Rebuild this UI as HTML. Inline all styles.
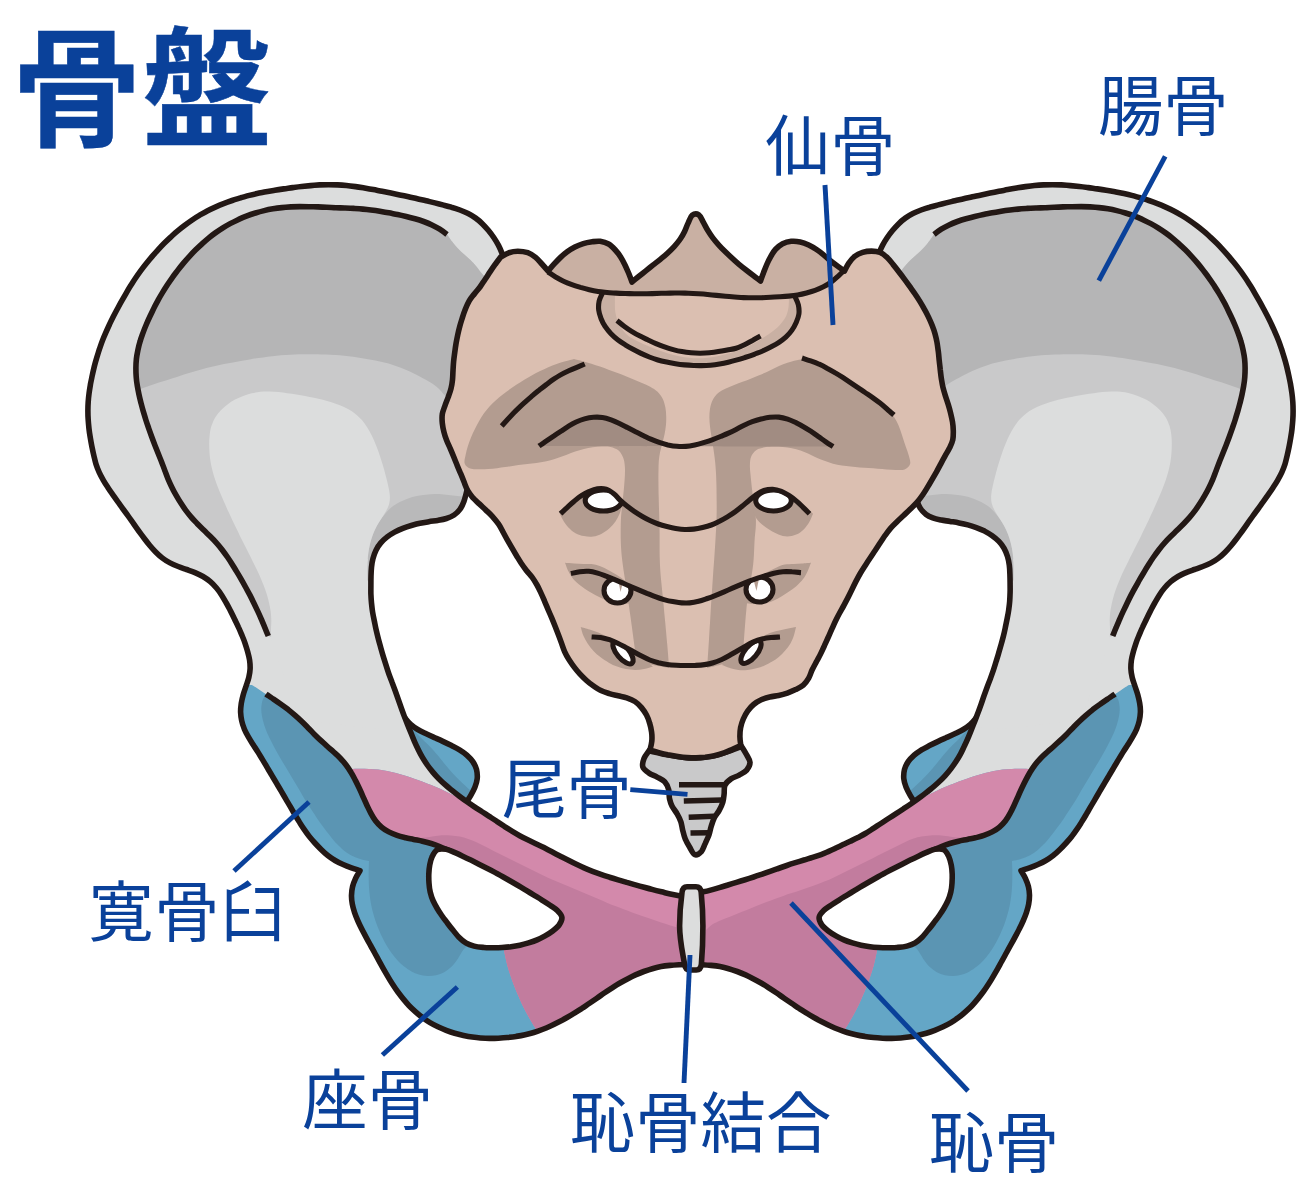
<!DOCTYPE html><html lang="ja"><head><meta charset="utf-8"><title>骨盤</title><style>html,body{margin:0;padding:0;background:#fff}svg{display:block}</style></head><body><svg width="1316" height="1197" viewBox="0 0 1316 1197"><rect width="1316" height="1197" fill="#fff"/><path d="M405.0,718.0 C405.9,719.1 408.5,722.5 410.6,724.4 C412.7,726.3 415.2,728.0 417.7,729.5 C420.2,731.0 422.8,732.2 425.7,733.6 C428.6,735.0 432.0,736.5 434.9,737.8 C437.8,739.1 440.5,740.3 443.3,741.6 C446.1,742.9 448.8,744.2 451.5,745.6 C454.2,747.0 456.9,748.3 459.5,749.9 C462.1,751.5 464.6,753.1 466.8,755.1 C469.0,757.1 471.2,759.2 472.8,761.6 C474.4,764.0 475.8,766.5 476.5,769.4 C477.2,772.3 477.5,775.8 477.2,778.8 C476.9,781.8 476.0,784.5 474.9,787.3 C473.8,790.0 472.3,792.7 470.8,795.3 C469.3,797.9 466.8,801.7 466.0,803.0 C464.8,802.0 461.3,799.1 458.9,797.2 C456.5,795.3 454.0,793.2 451.8,791.4 C449.6,789.5 447.8,788.0 445.7,786.1 C443.6,784.2 441.2,782.0 439.1,779.8 C437.0,777.6 434.8,775.2 433.0,773.0 C431.2,770.8 429.8,768.9 428.2,766.5 C426.6,764.1 425.0,761.4 423.5,758.7 C422.0,756.1 420.7,753.3 419.4,750.6 C418.1,747.9 416.8,745.1 415.5,742.3 C414.2,739.5 412.9,736.5 411.8,733.9 C410.7,731.2 409.7,729.0 408.6,726.4 C407.5,723.8 405.6,719.4 405.0,718.0 Z" fill="#64a6c6"/><path d="M409.0,725.0 C410.0,726.1 412.9,729.6 415.0,731.8 C417.1,734.0 419.2,736.2 421.4,738.3 C423.5,740.4 425.8,742.5 427.9,744.6 C430.0,746.8 432.1,748.8 434.2,751.2 C436.3,753.6 438.7,756.5 440.7,759.0 C442.7,761.5 444.4,763.8 446.4,766.1 C448.3,768.4 450.3,770.7 452.4,772.9 C454.4,775.1 456.5,777.4 458.7,779.5 C460.9,781.6 463.1,783.7 465.3,785.8 C467.5,787.9 470.9,791.0 472.0,792.0 C471.4,793.0 469.9,796.5 468.6,797.7 C467.3,798.9 465.9,799.4 464.0,799.2 C462.1,799.0 459.5,797.7 457.2,796.3 C454.9,794.9 452.4,792.8 450.2,791.0 C448.0,789.2 446.2,787.5 444.2,785.5 C442.1,783.5 439.8,781.1 437.9,779.0 C436.0,776.9 434.4,775.2 432.7,772.9 C431.0,770.6 429.1,767.9 427.5,765.4 C425.9,762.9 424.3,760.1 422.9,757.6 C421.5,755.1 420.6,753.0 419.3,750.4 C418.1,747.8 416.6,744.9 415.4,742.1 C414.1,739.3 412.9,736.4 411.8,733.8 C410.7,731.2 409.7,729.0 408.6,726.4 C407.5,723.8 405.6,719.4 405.0,718.0 Z" fill="#5b95b3"/><path d="M405.0,718.0 C405.9,719.1 408.5,722.5 410.6,724.4 C412.7,726.3 415.2,728.0 417.7,729.5 C420.2,731.0 422.8,732.2 425.7,733.6 C428.6,735.0 432.0,736.5 434.9,737.8 C437.8,739.1 440.5,740.3 443.3,741.6 C446.1,742.9 448.8,744.2 451.5,745.6 C454.2,747.0 456.9,748.3 459.5,749.9 C462.1,751.5 464.6,753.1 466.8,755.1 C469.0,757.1 471.2,759.2 472.8,761.6 C474.4,764.0 475.8,766.5 476.5,769.4 C477.2,772.3 477.5,775.8 477.2,778.8 C476.9,781.8 476.0,784.5 474.9,787.3 C473.8,790.0 472.3,792.7 470.8,795.3 C469.3,797.9 466.8,801.7 466.0,803.0" fill="none" stroke="#231815" stroke-width="5.6" stroke-linejoin="round"/><clipPath id="hcL"><path d="M505.0,262.0 C504.5,260.6 503.2,256.3 502.1,253.5 C501.0,250.7 499.9,247.9 498.5,245.3 C497.1,242.7 495.6,240.2 493.9,237.7 C492.2,235.2 490.4,232.8 488.5,230.5 C486.6,228.2 484.6,226.0 482.5,223.9 C480.4,221.8 478.1,219.8 475.7,218.1 C473.3,216.4 470.7,214.8 468.1,213.5 C465.5,212.2 462.7,211.1 459.9,210.0 C457.1,208.9 454.2,208.0 451.3,207.2 C448.4,206.3 445.4,205.6 442.7,204.9 C440.0,204.2 437.7,203.6 434.9,202.9 C432.1,202.2 429.0,201.5 426.1,200.8 C423.2,200.1 420.2,199.5 417.3,198.8 C414.4,198.1 411.5,197.5 408.6,196.8 C405.7,196.2 402.6,195.5 399.7,194.9 C396.8,194.3 393.8,193.7 390.9,193.1 C388.0,192.5 385.1,191.9 382.1,191.3 C379.2,190.7 376.1,190.2 373.2,189.6 C370.2,189.0 367.3,188.5 364.4,188.0 C361.4,187.5 358.5,187.0 355.5,186.6 C352.5,186.2 349.5,185.8 346.5,185.5 C343.5,185.2 340.6,185.0 337.6,184.9 C334.6,184.8 331.6,184.7 328.6,184.7 C325.6,184.7 322.6,184.8 319.6,184.9 C316.6,185.1 313.6,185.3 310.6,185.6 C307.6,185.9 304.6,186.2 301.6,186.5 C298.6,186.8 295.7,187.2 292.7,187.6 C289.7,188.0 286.7,188.5 283.7,188.9 C280.7,189.3 277.8,189.7 274.8,190.2 C271.9,190.7 268.9,191.2 266.0,191.8 C263.1,192.4 259.9,193.0 257.1,193.6 C254.3,194.2 252.0,194.7 249.3,195.4 C246.6,196.1 243.6,197.0 240.7,197.8 C237.8,198.7 234.9,199.5 232.1,200.5 C229.2,201.5 226.4,202.5 223.6,203.6 C220.8,204.7 218.0,205.9 215.3,207.1 C212.6,208.3 209.8,209.6 207.2,211.0 C204.5,212.4 202.0,213.9 199.4,215.4 C196.8,216.9 194.3,218.5 191.8,220.2 C189.3,221.9 186.9,223.7 184.5,225.5 C182.1,227.3 179.7,229.2 177.4,231.1 C175.1,233.0 172.9,235.1 170.7,237.1 C168.5,239.1 166.3,241.2 164.2,243.3 C162.1,245.4 160.0,247.7 158.0,249.9 C156.0,252.1 153.9,254.3 152.0,256.6 C150.1,258.9 148.2,261.2 146.3,263.5 C144.4,265.8 142.6,268.2 140.8,270.6 C139.0,273.0 137.3,275.5 135.6,278.0 C133.9,280.5 132.3,283.1 130.7,285.6 C129.1,288.2 127.6,290.7 126.1,293.3 C124.6,295.9 123.1,298.5 121.6,301.1 C120.1,303.7 118.7,306.4 117.3,309.0 C115.9,311.6 114.4,314.5 113.1,317.0 C111.8,319.5 110.8,321.6 109.6,324.2 C108.4,326.8 107.1,329.6 105.9,332.4 C104.7,335.1 103.5,337.9 102.4,340.7 C101.3,343.5 100.4,346.3 99.4,349.2 C98.5,352.1 97.6,354.9 96.7,357.8 C95.8,360.7 95.0,363.6 94.3,366.5 C93.6,369.4 92.9,372.4 92.3,375.3 C91.7,378.2 91.0,381.2 90.5,384.1 C90.0,387.1 89.5,390.0 89.1,393.0 C88.7,396.0 88.4,398.9 88.2,401.9 C88.0,404.9 87.9,407.9 87.9,410.9 C87.9,413.9 88.0,416.9 88.2,419.9 C88.4,422.9 88.7,425.9 89.0,428.9 C89.3,431.9 89.8,434.9 90.3,437.8 C90.8,440.8 91.3,443.7 91.9,446.6 C92.5,449.5 93.1,452.5 93.8,455.4 C94.5,458.3 95.1,461.3 96.0,464.1 C96.9,466.9 98.0,469.7 99.2,472.4 C100.4,475.1 101.9,477.7 103.4,480.3 C104.9,482.9 106.6,485.5 108.2,488.0 C109.8,490.5 111.7,493.1 113.3,495.4 C114.9,497.7 116.2,499.6 117.9,501.9 C119.6,504.2 121.4,506.8 123.2,509.2 C125.0,511.6 126.8,514.0 128.5,516.5 C130.2,519.0 132.0,521.4 133.7,523.9 C135.4,526.4 137.1,528.8 138.9,531.2 C140.7,533.6 142.5,536.1 144.3,538.5 C146.1,540.9 147.9,543.2 149.8,545.5 C151.7,547.8 153.8,550.1 155.9,552.2 C158.0,554.3 160.2,556.3 162.5,558.1 C164.8,559.9 167.4,561.5 170.0,562.9 C172.6,564.3 175.4,565.4 178.2,566.5 C181.0,567.6 183.8,568.5 186.6,569.5 C189.4,570.5 192.3,571.4 195.0,572.6 C197.7,573.8 200.4,575.0 203.0,576.5 C205.6,578.0 208.1,579.8 210.3,581.7 C212.6,583.6 214.6,585.8 216.5,588.0 C218.4,590.2 220.1,592.7 221.7,595.2 C223.3,597.7 224.8,600.4 226.3,603.0 C227.8,605.6 229.1,608.2 230.5,610.9 C231.9,613.6 233.2,616.3 234.5,619.0 C235.8,621.7 237.2,624.4 238.4,627.1 C239.7,629.8 240.9,632.8 242.0,635.4 C243.1,638.0 244.0,640.1 244.9,642.8 C245.8,645.5 246.8,648.5 247.6,651.4 C248.4,654.3 249.2,657.2 249.6,660.1 C250.0,663.0 250.2,666.0 250.1,668.9 C250.0,671.8 249.5,674.6 248.8,677.5 C248.1,680.4 247.0,683.2 246.1,686.0 C245.2,688.8 244.1,691.6 243.3,694.5 C242.5,697.4 241.8,700.3 241.3,703.2 C240.9,706.1 240.5,709.2 240.6,712.1 C240.7,715.0 241.1,717.9 241.7,720.8 C242.3,723.6 243.3,726.5 244.4,729.2 C245.5,731.9 247.0,734.5 248.5,737.1 C250.0,739.7 251.6,742.2 253.2,744.8 C254.8,747.3 256.5,749.8 258.1,752.4 C259.7,755.0 261.2,757.5 262.8,760.1 C264.4,762.7 265.9,765.2 267.4,767.8 C268.9,770.4 270.5,773.0 272.0,775.6 C273.5,778.2 275.1,780.7 276.6,783.3 C278.1,785.9 279.7,788.5 281.2,791.1 C282.7,793.7 284.2,796.3 285.7,798.9 C287.2,801.5 288.9,804.2 290.3,806.7 C291.7,809.2 292.9,811.2 294.3,813.6 C295.7,816.0 297.3,818.8 298.9,821.3 C300.5,823.8 302.1,826.4 303.8,828.9 C305.5,831.4 307.2,833.9 309.1,836.2 C311.0,838.6 312.9,840.8 314.9,843.0 C316.9,845.2 319.0,847.4 321.1,849.5 C323.2,851.6 325.5,853.7 327.8,855.5 C330.1,857.3 332.6,859.0 335.1,860.5 C337.7,862.0 340.4,863.3 343.1,864.5 C345.8,865.7 348.7,866.8 351.5,867.8 C354.3,868.8 358.6,870.1 360.0,870.6 C359.3,871.9 356.8,875.6 355.6,878.3 C354.4,880.9 353.3,883.7 352.6,886.5 C351.9,889.3 351.6,892.4 351.5,895.3 C351.4,898.2 351.8,901.2 352.3,904.1 C352.8,907.0 353.7,909.9 354.6,912.7 C355.5,915.5 356.7,918.3 357.9,921.0 C359.1,923.7 360.4,926.4 361.8,929.1 C363.2,931.8 364.6,934.4 366.0,937.1 C367.4,939.8 368.9,942.5 370.4,945.1 C371.8,947.8 373.3,950.4 374.7,953.0 C376.1,955.6 377.6,958.3 379.0,960.9 C380.4,963.5 381.9,966.2 383.4,968.8 C384.9,971.4 386.4,974.0 387.9,976.6 C389.4,979.2 391.0,981.8 392.6,984.3 C394.2,986.8 395.9,989.4 397.7,991.8 C399.5,994.2 401.3,996.6 403.2,998.9 C405.1,1001.2 407.0,1003.5 409.1,1005.7 C411.2,1007.9 413.4,1009.9 415.6,1011.9 C417.8,1013.9 420.1,1015.8 422.5,1017.6 C424.9,1019.4 427.4,1021.1 430.0,1022.6 C432.6,1024.1 435.2,1025.5 437.9,1026.8 C440.6,1028.1 443.4,1029.3 446.2,1030.4 C449.0,1031.5 451.8,1032.5 454.7,1033.3 C457.6,1034.1 460.6,1034.9 463.5,1035.5 C466.4,1036.1 469.5,1036.7 472.3,1037.1 C475.1,1037.5 477.5,1037.8 480.3,1038.0 C483.1,1038.2 486.3,1038.4 489.3,1038.4 C492.3,1038.4 495.3,1038.4 498.3,1038.2 C501.3,1038.0 504.3,1037.8 507.3,1037.5 C510.3,1037.2 513.2,1036.9 516.2,1036.4 C519.2,1036.0 522.2,1035.5 525.1,1034.8 C528.0,1034.1 530.9,1033.4 533.8,1032.5 C536.7,1031.6 539.5,1030.6 542.3,1029.5 C545.1,1028.4 547.9,1027.2 550.6,1026.0 C553.3,1024.8 556.0,1023.5 558.7,1022.1 C561.4,1020.7 564.0,1019.3 566.6,1017.8 C569.2,1016.3 571.8,1014.8 574.4,1013.2 C577.0,1011.6 579.5,1009.9 582.0,1008.3 C584.5,1006.6 587.0,1005.0 589.5,1003.3 C592.0,1001.6 594.4,999.9 596.9,998.2 C599.4,996.5 601.8,994.7 604.3,993.0 C606.8,991.3 609.3,989.7 611.8,988.1 C614.3,986.5 616.9,984.8 619.5,983.3 C622.1,981.8 624.7,980.3 627.4,978.9 C630.1,977.5 632.8,976.1 635.5,974.9 C638.2,973.7 641.0,972.5 643.8,971.5 C646.6,970.5 649.4,969.5 652.3,968.7 C655.2,967.9 658.1,967.2 661.1,966.6 C664.1,966.0 667.0,965.7 670.0,965.4 C673.0,965.1 676.0,964.9 679.0,964.7 C682.0,964.6 686.5,964.5 688.0,964.5 L688.0,897.0 C686.5,896.8 682.1,896.2 679.1,895.7 C676.1,895.2 673.2,894.6 670.3,894.0 C667.4,893.4 664.4,892.5 661.5,891.8 C658.6,891.1 655.7,890.4 652.8,889.6 C649.9,888.9 647.0,888.1 644.1,887.3 C641.2,886.5 638.3,885.7 635.4,884.9 C632.5,884.1 629.7,883.2 626.8,882.4 C623.9,881.5 621.0,880.7 618.1,879.8 C615.2,878.9 612.4,878.1 609.5,877.2 C606.6,876.3 603.7,875.4 600.9,874.4 C598.1,873.4 595.3,872.4 592.5,871.3 C589.7,870.2 586.9,869.1 584.1,867.9 C581.3,866.7 578.6,865.4 575.9,864.1 C573.2,862.8 570.6,861.5 567.9,860.1 C565.2,858.8 562.6,857.4 559.9,856.0 C557.2,854.6 554.6,853.2 551.9,851.8 C549.2,850.4 546.6,849.0 543.9,847.6 C541.2,846.2 538.5,845.0 535.8,843.7 C533.1,842.4 530.4,841.1 527.7,839.8 C525.0,838.5 522.3,837.1 519.7,835.7 C517.1,834.3 514.5,832.8 511.9,831.2 C509.3,829.6 506.8,827.9 504.3,826.3 C501.8,824.6 499.3,822.9 496.8,821.3 C494.3,819.6 491.7,818.0 489.2,816.4 C486.7,814.8 484.2,813.1 481.7,811.5 C479.2,809.9 476.6,808.3 474.1,806.6 C471.6,804.9 469.1,803.2 466.7,801.5 C464.2,799.8 461.8,798.0 459.4,796.2 C457.0,794.4 454.6,792.6 452.3,790.7 C450.0,788.8 447.6,786.9 445.4,784.9 C443.1,782.9 440.9,780.8 438.8,778.7 C436.7,776.6 434.7,774.4 432.8,772.1 C430.9,769.8 429.0,767.5 427.3,765.0 C425.6,762.5 423.9,760.0 422.4,757.4 C420.9,754.8 419.5,752.2 418.2,749.5 C416.9,746.8 415.6,744.0 414.4,741.3 C413.2,738.5 412.1,735.8 411.0,733.0 C409.9,730.2 408.7,727.5 407.6,724.7 C406.5,721.9 405.4,719.1 404.3,716.3 C403.2,713.5 402.2,710.6 401.2,707.8 C400.2,705.0 399.2,702.1 398.2,699.3 C397.2,696.5 396.2,693.6 395.2,690.8 C394.2,688.0 393.2,685.2 392.1,682.4 C391.1,679.6 389.9,676.8 388.9,674.0 C387.9,671.2 387.0,668.3 386.1,665.4 C385.2,662.5 384.3,659.7 383.4,656.8 C382.5,653.9 381.7,651.1 380.9,648.2 C380.1,645.3 379.3,642.6 378.5,639.5 C377.7,636.4 376.8,632.8 376.1,629.7 C375.4,626.6 374.9,623.8 374.3,620.9 C373.7,618.0 373.1,615.1 372.6,612.1 C372.1,609.1 371.8,606.1 371.5,603.1 C371.2,600.1 371.0,597.2 370.9,594.2 C370.8,591.2 370.9,588.2 370.9,585.2 C370.9,582.2 370.9,579.2 371.0,576.2 C371.1,573.2 371.2,570.2 371.5,567.2 C371.8,564.2 372.2,561.2 373.0,558.4 C373.8,555.6 374.7,552.8 376.0,550.2 C377.3,547.6 378.9,545.1 380.8,542.9 C382.7,540.7 384.9,538.7 387.2,536.9 C389.5,535.1 392.0,533.5 394.6,532.1 C397.2,530.7 400.0,529.4 402.8,528.3 C405.6,527.2 408.4,526.3 411.3,525.5 C414.2,524.7 417.1,523.9 420.0,523.3 C422.9,522.7 425.9,522.2 428.8,521.7 C431.8,521.2 434.8,520.9 437.7,520.4 C440.6,519.9 443.7,519.4 446.4,518.5 C449.1,517.6 451.8,516.5 454.1,515.0 C456.4,513.5 458.5,511.4 460.1,509.2 C461.7,506.9 462.9,504.2 463.9,501.5 C464.9,498.8 465.5,495.9 466.3,493.0 C467.1,490.1 467.8,487.2 468.5,484.3 C469.2,481.4 469.9,478.4 470.6,475.5 C471.3,472.6 471.9,469.6 472.5,466.7 C473.1,463.8 473.6,460.8 474.1,457.9 C474.6,454.9 475.1,452.0 475.6,449.0 C476.1,446.0 476.6,443.1 477.0,440.1 C477.4,437.1 477.9,434.2 478.3,431.2 C478.8,428.2 479.2,425.2 479.7,422.2 C480.1,419.2 480.6,416.3 481.0,413.3 C481.4,410.3 481.8,407.4 482.2,404.4 C482.6,401.4 483.1,398.5 483.5,395.5 C483.9,392.5 484.3,389.6 484.7,386.6 C485.1,383.6 485.6,380.6 486.0,377.6 C486.4,374.6 486.9,371.7 487.3,368.7 C487.7,365.7 488.2,362.8 488.6,359.8 C489.0,356.8 489.4,353.9 489.9,350.9 C490.3,347.9 490.8,345.0 491.3,342.0 C491.8,339.0 492.2,336.1 492.7,333.1 C493.2,330.1 493.7,327.2 494.2,324.2 C494.7,321.2 495.2,318.3 495.7,315.3 C496.2,312.3 496.7,309.4 497.2,306.4 C497.7,303.4 498.2,300.5 498.7,297.5 C499.2,294.5 499.7,291.6 500.2,288.6 C500.7,285.6 501.3,282.6 501.8,279.7 C502.3,276.8 502.9,273.8 503.4,270.9 C503.9,267.9 504.7,263.5 505.0,262.0 Z"/></clipPath><clipPath id="pcL"><path d="M351.0,769.0 C352.5,769.0 357.1,768.8 360.1,768.8 C363.1,768.8 366.1,768.8 369.1,768.9 C372.1,769.0 375.2,769.2 378.2,769.6 C381.2,770.0 384.2,770.4 387.1,771.0 C390.1,771.6 393.0,772.3 395.9,773.1 C398.8,773.9 401.6,774.7 404.6,775.6 C407.7,776.5 411.2,777.7 414.2,778.7 C417.2,779.7 420.0,780.7 422.8,781.7 C425.6,782.8 428.4,783.9 431.2,785.0 C434.0,786.1 436.8,787.4 439.6,788.6 C442.4,789.9 445.1,791.2 447.8,792.5 C450.5,793.8 453.2,795.1 455.9,796.5 C458.6,797.9 462.6,799.9 464.0,800.6 C465.3,799.9 469.3,797.8 471.9,796.3 C474.5,794.8 477.1,793.3 479.7,791.8 C482.3,790.2 484.9,788.6 487.4,787.0 C489.9,785.4 492.4,783.7 494.9,782.1 C497.4,780.5 499.9,778.9 502.4,777.2 C504.9,775.5 507.4,773.8 509.9,772.1 C512.4,770.4 514.9,768.8 517.4,767.1 C519.9,765.4 522.4,763.8 524.9,762.1 C527.4,760.4 529.8,758.8 532.3,757.1 C534.8,755.4 537.3,753.8 539.8,752.1 C542.3,750.4 544.9,748.8 547.4,747.1 C549.9,745.5 552.4,743.8 554.9,742.2 C557.4,740.6 560.0,739.0 562.5,737.4 C565.0,735.8 567.6,734.2 570.2,732.6 C572.8,731.0 575.3,729.5 577.9,727.9 C580.5,726.3 583.0,724.8 585.6,723.3 C588.2,721.8 590.8,720.3 593.4,718.8 C596.0,717.3 598.6,715.8 601.3,714.4 C603.9,713.0 606.6,711.6 609.3,710.2 C612.0,708.8 614.6,707.5 617.3,706.2 C620.0,704.9 622.8,703.6 625.5,702.4 C628.2,701.2 631.0,700.0 633.8,698.9 C636.6,697.8 639.4,696.7 642.2,695.7 C645.0,694.7 647.9,693.9 650.8,693.1 C653.7,692.3 656.6,691.5 659.5,691.0 C662.4,690.5 665.4,690.1 668.4,689.9 C671.4,689.7 674.3,689.7 677.2,690.0 C680.1,690.3 683.1,690.9 685.8,691.9 C688.5,692.9 691.1,694.2 693.4,695.8 C695.7,697.4 697.8,699.5 699.7,701.7 C701.6,703.9 703.2,706.5 704.6,709.1 C706.0,711.7 707.1,714.4 708.2,717.2 C709.3,720.0 710.2,722.8 711.1,725.7 C712.0,728.6 712.7,731.5 713.4,734.4 C714.1,737.3 714.7,740.2 715.3,743.2 C715.9,746.2 716.4,749.1 716.9,752.1 C717.4,755.1 717.9,758.0 718.3,761.0 C718.7,764.0 719.1,766.9 719.5,769.9 C719.9,772.9 720.3,775.8 720.6,778.8 C720.9,781.8 721.2,784.8 721.5,787.8 C721.8,790.8 722.0,793.8 722.2,796.8 C722.4,799.8 722.7,802.8 722.9,805.8 C723.1,808.8 723.2,811.8 723.4,814.8 C723.5,817.8 723.7,820.8 723.8,823.8 C723.9,826.8 724.1,829.8 724.2,832.8 C724.3,835.8 724.4,838.8 724.5,841.8 C724.6,844.8 724.7,847.8 724.7,850.8 C724.8,853.8 724.8,856.8 724.8,859.8 C724.8,862.8 724.9,865.8 724.9,868.8 C724.9,871.8 724.9,874.8 724.9,877.8 C724.9,880.8 724.8,883.8 724.8,886.8 C724.8,889.8 724.8,892.8 724.7,895.8 C724.7,898.8 724.6,901.8 724.5,904.8 C724.4,907.8 724.4,910.8 724.3,913.8 C724.2,916.8 724.1,919.9 724.0,922.9 C723.9,925.9 723.8,928.9 723.7,931.9 C723.6,934.9 723.4,937.9 723.2,940.9 C723.1,943.9 723.0,946.9 722.8,949.9 C722.6,952.9 722.4,955.9 722.2,958.9 C722.0,961.9 721.8,964.8 721.6,967.8 C721.4,970.8 721.2,973.8 721.0,976.8 C720.8,979.8 720.5,982.8 720.3,985.8 C720.0,988.8 719.8,991.8 719.5,994.8 C719.2,997.8 718.9,1000.8 718.6,1003.8 C718.3,1006.8 717.9,1009.7 717.6,1012.7 C717.3,1015.7 717.0,1018.7 716.6,1021.7 C716.2,1024.7 715.9,1027.6 715.5,1030.6 C715.1,1033.6 714.6,1036.5 714.2,1039.5 C713.8,1042.5 713.4,1045.4 712.9,1048.4 C712.4,1051.4 711.8,1054.3 711.3,1057.3 C710.8,1060.3 710.2,1063.2 709.6,1066.2 C709.0,1069.2 708.4,1072.1 707.7,1075.0 C707.0,1077.9 706.2,1080.8 705.4,1083.7 C704.5,1086.6 703.7,1089.5 702.6,1092.2 C701.5,1095.0 700.3,1097.7 698.8,1100.2 C697.3,1102.7 695.5,1105.0 693.5,1107.0 C691.5,1109.0 689.1,1110.7 686.6,1111.9 C684.1,1113.1 681.2,1114.0 678.4,1114.4 C675.6,1114.8 672.6,1114.8 669.7,1114.5 C666.8,1114.2 663.9,1113.6 661.0,1112.9 C658.1,1112.2 655.3,1111.2 652.5,1110.2 C649.7,1109.2 646.9,1107.9 644.2,1106.6 C641.5,1105.3 638.8,1103.9 636.2,1102.5 C633.6,1101.1 631.0,1099.6 628.4,1098.1 C625.8,1096.6 623.2,1094.9 620.7,1093.3 C618.2,1091.7 615.7,1090.0 613.2,1088.3 C610.7,1086.6 608.2,1084.9 605.8,1083.2 C603.3,1081.5 600.9,1079.8 598.5,1078.0 C596.1,1076.2 593.7,1074.4 591.3,1072.6 C588.9,1070.8 586.5,1069.0 584.1,1067.2 C581.7,1065.4 579.3,1063.5 576.9,1061.7 C574.5,1059.9 572.1,1058.1 569.7,1056.3 C567.3,1054.5 564.9,1052.7 562.5,1050.9 C560.1,1049.1 557.7,1047.3 555.2,1045.6 C552.7,1043.9 550.2,1042.2 547.7,1040.6 C545.2,1039.0 541.3,1036.8 540.0,1036.0 C539.2,1034.7 536.9,1030.8 535.4,1028.2 C533.9,1025.6 532.2,1023.0 530.7,1020.4 C529.2,1017.8 527.6,1015.2 526.2,1012.5 C524.8,1009.8 523.4,1007.1 522.1,1004.4 C520.8,1001.7 519.6,998.9 518.4,996.1 C517.2,993.3 516.0,990.5 514.9,987.7 C513.8,984.9 512.7,982.1 511.7,979.2 C510.7,976.4 509.7,973.5 508.8,970.6 C507.9,967.7 507.1,964.7 506.4,961.8 C505.7,958.9 505.1,956.0 504.5,953.0 C503.9,950.0 503.2,945.5 503.0,944.0 C502.4,942.6 500.4,938.5 499.1,935.8 C497.8,933.1 496.5,930.3 495.1,927.6 C493.8,924.9 492.4,922.1 491.0,919.4 C489.6,916.7 488.2,914.0 486.7,911.4 C485.2,908.8 483.6,906.2 482.0,903.6 C480.4,901.0 478.8,898.6 477.0,896.0 C475.2,893.4 473.0,890.4 471.1,887.8 C469.2,885.2 467.4,882.9 465.5,880.5 C463.6,878.1 461.8,875.8 459.9,873.4 C458.0,871.0 456.1,868.7 454.2,866.3 C452.3,863.9 450.4,861.6 448.5,859.2 C446.6,856.8 444.6,854.5 442.7,852.1 C440.8,849.7 437.9,846.2 437.0,845.0 C435.5,844.6 431.1,843.3 428.2,842.6 C425.2,841.9 422.3,841.2 419.3,840.6 C416.3,840.0 413.2,839.4 410.4,838.8 C407.6,838.2 405.2,837.8 402.5,837.0 C399.8,836.2 396.7,835.3 393.9,834.2 C391.1,833.1 388.4,831.8 385.9,830.2 C383.4,828.6 381.0,826.8 378.9,824.7 C376.8,822.6 375.0,820.2 373.4,817.7 C371.8,815.2 370.5,812.5 369.1,809.8 C367.7,807.1 366.4,804.1 365.2,801.5 C364.0,798.9 363.0,796.7 361.9,794.1 C360.8,791.5 359.5,788.5 358.3,785.7 C357.1,782.9 355.8,780.2 354.6,777.4 C353.4,774.6 351.6,770.4 351.0,769.0 Z"/></clipPath><g clip-path="url(#hcL)"><rect x="0" y="0" width="1316" height="1197" fill="#64a6c6"/><path d="M266.0,694.0 C267.2,694.9 271.0,697.4 273.5,699.1 C276.0,700.8 278.6,702.6 280.9,704.3 C283.2,706.0 285.1,707.4 287.4,709.1 C289.6,710.9 292.1,712.8 294.4,714.8 C296.7,716.8 298.9,718.8 301.1,720.9 C303.3,723.0 305.6,725.3 307.6,727.3 C309.6,729.3 311.2,731.1 313.2,733.1 C315.2,735.1 317.5,737.3 319.7,739.4 C321.9,741.5 324.1,743.5 326.4,745.5 C328.6,747.5 331.0,749.5 333.2,751.5 C335.4,753.5 337.8,755.7 339.8,757.7 C341.8,759.7 343.4,761.5 345.1,763.7 C346.8,765.9 348.6,768.6 350.2,771.1 C351.8,773.6 353.3,776.3 354.7,779.0 C356.1,781.7 357.5,784.5 358.7,787.1 C359.9,789.7 360.9,791.8 362.1,794.4 C363.3,797.0 364.6,800.0 365.8,802.7 C367.1,805.5 368.2,808.2 369.6,810.9 C371.0,813.6 372.3,816.3 374.0,818.7 C375.7,821.1 377.7,823.6 379.7,825.5 C381.7,827.4 383.5,828.8 385.9,830.2 C388.3,831.7 391.1,833.1 393.9,834.2 C396.6,835.3 399.5,836.2 402.4,837.0 C405.3,837.8 408.4,838.4 411.2,839.0 C414.0,839.6 416.3,840.0 419.1,840.6 C421.9,841.2 425.1,841.9 428.0,842.6 C430.9,843.3 435.2,844.6 436.7,845.0 C436.2,846.4 434.9,850.7 434.0,853.5 C433.1,856.3 432.1,859.1 431.3,862.0 C430.5,864.9 429.7,867.8 429.2,870.8 C428.7,873.8 428.3,876.8 428.1,879.8 C427.9,882.8 427.9,885.8 428.2,888.8 C428.5,891.8 429.0,894.7 429.8,897.6 C430.6,900.5 431.6,903.3 432.9,906.0 C434.2,908.7 435.8,911.4 437.4,913.9 C439.0,916.4 440.8,918.9 442.7,921.2 C444.6,923.5 446.7,925.8 448.8,927.9 C450.9,930.0 453.2,932.0 455.5,934.0 C457.8,936.0 460.2,937.8 462.6,939.6 C465.0,941.4 468.8,944.1 470.0,945.0 C469.1,945.5 466.4,946.5 464.9,948.0 C463.3,949.5 462.0,951.9 460.7,953.9 C459.4,955.9 458.4,958.1 456.8,960.3 C455.2,962.5 453.3,965.1 451.2,967.1 C449.1,969.1 446.7,970.9 444.2,972.3 C441.7,973.7 438.9,974.7 436.1,975.3 C433.3,975.9 430.3,976.1 427.4,976.0 C424.5,975.9 421.4,975.3 418.8,974.5 C416.2,973.7 413.9,972.7 411.5,971.4 C409.1,970.1 406.5,968.3 404.2,966.5 C401.9,964.7 399.7,962.6 397.6,960.4 C395.6,958.2 393.7,955.9 391.9,953.5 C390.1,951.1 388.4,948.6 386.9,946.0 C385.3,943.4 383.9,940.6 382.6,938.1 C381.3,935.6 380.4,933.4 379.3,930.8 C378.2,928.2 377.0,925.2 376.0,922.4 C375.0,919.6 374.1,916.7 373.3,913.8 C372.5,910.9 371.8,908.0 371.2,905.0 C370.6,902.0 370.2,899.1 369.8,896.1 C369.4,893.1 369.2,889.9 369.0,887.1 C368.8,884.3 368.8,882.0 368.7,879.1 C368.6,876.2 368.6,873.0 368.7,870.0 C368.8,867.0 368.9,862.5 369.0,861.0 C367.5,860.6 363.1,859.8 360.2,858.9 C357.3,858.0 354.4,856.9 351.9,855.7 C349.4,854.5 347.4,853.3 345.2,851.6 C343.0,849.9 340.6,847.7 338.5,845.6 C336.4,843.5 334.4,841.2 332.5,838.9 C330.6,836.6 328.7,834.2 326.8,831.8 C324.9,829.4 323.1,826.8 321.4,824.5 C319.7,822.2 318.4,820.3 316.8,817.9 C315.2,815.5 313.5,812.8 311.8,810.3 C310.1,807.8 308.5,805.3 306.9,802.7 C305.3,800.1 303.8,797.5 302.2,794.9 C300.6,792.3 299.1,789.6 297.6,787.1 C296.1,784.6 294.9,782.6 293.4,780.1 C291.9,777.6 290.4,774.9 288.8,772.3 C287.2,769.7 285.7,767.2 284.1,764.6 C282.6,762.0 280.9,759.2 279.5,756.7 C278.1,754.2 277.0,752.2 275.6,749.7 C274.2,747.2 272.7,744.3 271.3,741.6 C269.9,738.9 268.6,736.3 267.4,733.5 C266.2,730.7 265.1,727.9 264.2,725.0 C263.3,722.1 262.5,719.0 262.0,716.3 C261.5,713.6 261.2,711.2 261.3,708.6 C261.4,706.0 261.7,703.0 262.5,700.6 C263.3,698.2 265.4,695.1 266.0,694.0 Z" fill="#5b95b3"/><path d="M0.0,0.0 C1.5,-0.1 6.0,-0.2 9.0,-0.4 C12.0,-0.6 15.0,-0.7 18.0,-0.9 C21.0,-1.1 24.0,-1.3 27.0,-1.5 C30.0,-1.7 32.9,-2.0 35.9,-2.3 C38.9,-2.6 41.9,-2.9 44.9,-3.2 C47.9,-3.5 50.9,-3.9 53.9,-4.3 C56.9,-4.6 59.8,-4.9 62.8,-5.3 C65.8,-5.7 68.7,-6.1 71.7,-6.5 C74.7,-6.9 77.7,-7.3 80.7,-7.7 C83.7,-8.1 86.6,-8.5 89.6,-8.9 C92.6,-9.3 95.5,-9.7 98.5,-10.1 C101.5,-10.5 104.4,-11.0 107.4,-11.4 C110.4,-11.8 113.4,-12.2 116.4,-12.6 C119.4,-13.0 122.3,-13.5 125.3,-13.9 C128.3,-14.3 131.2,-14.8 134.2,-15.2 C137.2,-15.6 140.1,-16.1 143.1,-16.5 C146.1,-16.9 149.0,-17.4 152.0,-17.9 C155.0,-18.3 157.9,-18.8 160.9,-19.2 C163.9,-19.6 167.1,-20.1 169.9,-20.5 C172.7,-20.9 175.0,-21.2 177.8,-21.6 C180.6,-22.0 183.7,-22.5 186.7,-22.9 C189.7,-23.3 192.6,-23.8 195.6,-24.2 C198.6,-24.6 201.5,-25.1 204.5,-25.5 C207.5,-25.9 210.4,-26.4 213.4,-26.8 C216.4,-27.2 219.4,-27.6 222.4,-28.0 C225.4,-28.4 228.3,-28.9 231.3,-29.3 C234.3,-29.7 237.2,-30.1 240.2,-30.5 C243.2,-30.9 246.1,-31.3 249.1,-31.7 C252.1,-32.1 255.1,-32.5 258.1,-32.9 C261.1,-33.3 264.0,-33.7 267.0,-34.1 C270.0,-34.5 272.9,-34.8 275.9,-35.2 C278.9,-35.6 281.9,-35.9 284.9,-36.3 C287.9,-36.7 290.8,-37.0 293.8,-37.4 C296.8,-37.8 299.8,-38.1 302.8,-38.5 C305.8,-38.9 308.7,-39.2 311.7,-39.6 C314.7,-40.0 317.7,-40.3 320.7,-40.6 C323.7,-40.9 326.6,-41.3 329.6,-41.6 C332.6,-41.9 335.6,-42.2 338.6,-42.5 C341.6,-42.8 344.5,-43.1 347.5,-43.4 C350.5,-43.7 353.5,-44.0 356.5,-44.3 C359.5,-44.6 362.5,-44.9 365.5,-45.2 C368.5,-45.5 371.5,-45.8 374.5,-46.0 C377.5,-46.2 380.4,-46.5 383.4,-46.7 C386.4,-47.0 389.4,-47.3 392.4,-47.5 C395.4,-47.7 398.4,-47.9 401.4,-48.1 C404.4,-48.3 407.4,-48.6 410.4,-48.8 C413.4,-49.0 416.4,-49.1 419.4,-49.3 C422.4,-49.5 425.4,-49.7 428.4,-49.9 C431.4,-50.1 434.4,-50.2 437.4,-50.3 C440.4,-50.4 443.4,-50.6 446.4,-50.7 C449.4,-50.8 452.4,-51.0 455.4,-51.1 C458.4,-51.2 461.4,-51.2 464.4,-51.3 C467.4,-51.4 470.4,-51.4 473.4,-51.5 C476.4,-51.6 479.4,-51.7 482.4,-51.7 C485.4,-51.7 488.4,-51.7 491.4,-51.7 C494.4,-51.7 497.4,-51.7 500.4,-51.7 C503.4,-51.7 506.4,-51.6 509.4,-51.5 C512.4,-51.4 515.4,-51.4 518.4,-51.3 C521.4,-51.2 524.6,-51.1 527.4,-51.0 C530.2,-50.9 532.6,-50.8 535.4,-50.6 C538.2,-50.4 541.4,-50.2 544.4,-50.0 C547.4,-49.8 550.4,-49.6 553.4,-49.4 C556.4,-49.2 559.4,-48.9 562.4,-48.6 C565.4,-48.3 568.3,-48.0 571.3,-47.6 C574.3,-47.2 577.2,-46.9 580.2,-46.5 C583.2,-46.1 586.2,-45.8 589.2,-45.3 C592.2,-44.8 595.0,-44.3 598.0,-43.8 C601.0,-43.3 603.9,-42.7 606.9,-42.1 C609.9,-41.5 612.8,-40.9 615.7,-40.2 C618.6,-39.5 621.5,-38.8 624.4,-38.0 C627.3,-37.2 630.2,-36.5 633.1,-35.6 C636.0,-34.8 638.9,-33.9 641.7,-32.9 C644.5,-31.9 647.3,-31.0 650.1,-29.9 C652.9,-28.8 655.8,-27.7 658.5,-26.5 C661.2,-25.3 663.9,-24.1 666.6,-22.7 C669.3,-21.3 671.9,-19.9 674.5,-18.4 C677.1,-16.9 679.7,-15.4 682.2,-13.7 C684.7,-12.0 687.0,-10.2 689.4,-8.4 C691.8,-6.6 694.1,-4.6 696.3,-2.6 C698.5,-0.6 700.6,1.5 702.6,3.7 C704.6,5.9 706.5,8.2 708.4,10.6 C710.2,12.9 712.0,15.3 713.7,17.8 C715.4,20.3 716.9,22.9 718.4,25.5 C719.9,28.1 721.4,30.7 722.7,33.4 C724.1,36.1 725.3,38.8 726.5,41.5 C727.7,44.2 728.8,47.1 729.9,49.9 C731.0,52.7 731.9,55.5 732.9,58.3 C733.9,61.1 734.8,64.0 735.6,66.9 C736.5,69.8 737.2,72.7 738.0,75.6 C738.8,78.5 739.5,81.4 740.2,84.3 C740.9,87.2 741.5,90.1 742.1,93.1 C742.7,96.0 743.3,99.0 743.8,102.0 C744.3,105.0 744.8,107.8 745.3,110.8 C745.8,113.8 746.1,116.8 746.5,119.8 C746.9,122.8 747.2,125.7 747.6,128.7 C748.0,131.7 748.3,134.6 748.6,137.6 C748.9,140.6 749.2,143.6 749.4,146.6 C749.6,149.6 749.8,152.6 750.0,155.6 C750.2,158.6 750.4,161.8 750.6,164.6 C750.8,167.4 750.9,169.8 751.0,172.6 C751.1,175.4 751.2,178.6 751.3,181.6 C751.4,184.6 751.4,187.6 751.5,190.6 C751.6,193.6 751.7,196.6 751.7,199.6 C751.7,202.6 751.7,205.6 751.7,208.6 C751.7,211.6 751.7,214.6 751.7,217.6 C751.7,220.6 751.6,223.6 751.5,226.6 C751.4,229.6 751.4,232.6 751.3,235.6 C751.2,238.6 751.2,241.6 751.1,244.6 C751.0,247.6 750.8,250.6 750.7,253.6 C750.6,256.6 750.4,259.6 750.3,262.6 C750.2,265.6 750.1,268.6 749.9,271.6 C749.7,274.6 749.5,277.6 749.3,280.6 C749.1,283.6 749.0,286.6 748.8,289.6 C748.6,292.6 748.3,295.6 748.1,298.6 C747.9,301.6 747.7,304.6 747.5,307.6 C747.3,310.6 747.0,313.6 746.7,316.6 C746.5,319.6 746.2,322.5 746.0,325.5 C745.8,328.5 745.5,331.5 745.2,334.5 C744.9,337.5 744.6,340.5 744.3,343.5 C744.0,346.5 743.7,349.5 743.4,352.5 C743.1,355.5 742.8,358.4 742.5,361.4 C742.2,364.4 741.9,367.4 741.6,370.4 C741.3,373.4 740.9,376.3 740.6,379.3 C740.3,382.3 740.0,385.3 739.6,388.3 C739.2,391.3 738.9,394.2 738.5,397.2 C738.1,400.2 737.8,403.2 737.4,406.2 C737.0,409.2 736.7,412.1 736.3,415.1 C735.9,418.1 735.6,421.1 735.2,424.1 C734.8,427.1 734.5,430.0 734.1,433.0 C733.7,436.0 733.3,438.9 732.9,441.9 C732.5,444.9 732.1,447.9 731.7,450.9 C731.3,453.9 730.9,456.8 730.5,459.8 C730.1,462.8 729.7,465.7 729.3,468.7 C728.9,471.7 728.4,474.6 728.0,477.6 C727.6,480.6 727.2,483.6 726.8,486.6 C726.4,489.6 725.9,492.5 725.5,495.5 C725.1,498.5 724.6,501.4 724.2,504.4 C723.8,507.4 723.3,510.3 722.9,513.3 C722.5,516.3 722.0,519.4 721.6,522.2 C721.2,525.0 720.9,527.3 720.5,530.1 C720.1,532.9 719.6,536.1 719.2,539.1 C718.8,542.1 718.4,545.0 717.9,548.0 C717.4,551.0 717.0,553.9 716.5,556.9 C716.0,559.9 715.6,562.8 715.2,565.8 C714.8,568.8 714.3,571.7 713.9,574.7 C713.5,577.7 713.0,580.6 712.6,583.6 C712.2,586.6 711.8,589.6 711.4,592.6 C711.0,595.6 710.5,598.5 710.1,601.5 C709.7,604.5 709.3,607.4 708.9,610.4 C708.5,613.4 708.1,616.3 707.7,619.3 C707.3,622.3 706.9,625.3 706.5,628.3 C706.1,631.3 705.7,634.2 705.3,637.2 C704.9,640.2 704.6,643.1 704.3,646.1 C703.9,649.1 703.5,652.1 703.2,655.1 C702.9,658.1 702.6,661.1 702.3,664.1 C702.0,667.1 701.7,670.0 701.5,673.0 C701.3,676.0 701.1,679.0 700.9,682.0 C700.7,685.0 700.5,688.0 700.4,691.0 C700.2,694.0 700.1,698.5 700.0,700.0 C698.7,700.7 694.7,702.8 692.0,704.2 C689.3,705.6 686.7,707.1 684.0,708.5 C681.3,709.9 678.6,711.4 676.0,712.8 C673.4,714.2 670.8,715.6 668.1,717.0 C665.5,718.4 662.8,719.9 660.1,721.3 C657.4,722.7 654.8,724.2 652.1,725.6 C649.5,727.0 646.9,728.5 644.2,729.9 C641.6,731.3 638.9,732.8 636.2,734.2 C633.5,735.6 630.9,737.1 628.2,738.5 C625.5,739.9 622.9,741.4 620.2,742.8 C617.6,744.2 614.9,745.6 612.3,747.0 C609.6,748.4 607.0,749.9 604.3,751.3 C601.6,752.7 599.0,754.2 596.3,755.6 C593.6,757.0 591.0,758.4 588.3,759.8 C585.6,761.2 583.0,762.7 580.3,764.1 C577.6,765.5 575.1,766.8 572.3,768.3 C569.5,769.8 566.2,771.5 563.4,773.0 C560.6,774.5 558.1,775.8 555.4,777.2 C552.7,778.6 550.1,780.0 547.4,781.4 C544.7,782.8 542.1,784.2 539.4,785.6 C536.7,787.0 534.1,788.4 531.4,789.8 C528.7,791.2 526.0,792.5 523.3,793.9 C520.6,795.3 517.9,796.6 515.2,798.0 C512.5,799.4 509.9,800.8 507.2,802.1 C504.5,803.5 501.7,804.8 499.0,806.1 C496.3,807.4 493.6,808.8 490.9,810.0 C488.2,811.2 485.4,812.5 482.6,813.6 C479.8,814.7 477.0,815.9 474.3,816.6 C471.6,817.3 468.8,817.9 466.7,817.6 C464.6,817.3 462.8,816.4 462.0,814.9 C461.2,813.4 461.4,810.9 461.7,808.5 C462.0,806.1 463.6,801.9 464.0,800.6 C462.6,799.9 458.6,797.9 455.9,796.5 C453.2,795.1 450.5,793.8 447.8,792.5 C445.1,791.2 442.4,789.9 439.6,788.6 C436.8,787.4 434.0,786.1 431.2,785.0 C428.4,783.9 425.6,782.8 422.8,781.7 C420.0,780.7 417.2,779.7 414.2,778.7 C411.2,777.7 407.7,776.5 404.6,775.6 C401.6,774.7 398.8,773.9 395.9,773.1 C393.0,772.3 390.1,771.6 387.1,771.0 C384.2,770.4 381.2,770.0 378.2,769.6 C375.2,769.2 372.1,769.0 369.1,768.9 C366.1,768.8 363.1,768.8 360.1,768.8 C357.1,768.8 352.5,769.0 351.0,769.0 C350.0,767.9 346.9,764.5 344.8,762.4 C342.7,760.2 340.6,758.3 338.2,756.1 C335.8,753.9 333.1,751.5 330.7,749.4 C328.3,747.3 326.1,745.4 323.9,743.4 C321.7,741.4 319.5,739.2 317.3,737.1 C315.1,735.0 313.0,732.9 310.9,730.7 C308.8,728.6 306.8,726.5 304.5,724.2 C302.2,722.0 299.6,719.4 297.2,717.2 C294.8,715.1 292.6,713.2 290.3,711.3 C288.0,709.4 285.6,707.6 283.1,705.8 C280.7,704.0 278.2,702.4 275.6,700.6 C273.0,698.8 270.0,696.7 267.3,694.9 C264.6,693.1 262.2,691.5 259.7,689.9 C257.1,688.2 253.3,685.8 252.0,685.0 C210.0,685.0 42.0,685.0 0.0,685.0 Z" fill="#dcdddd"/><path d="M447.0,234.4 C445.8,233.5 442.2,230.8 439.7,229.2 C437.2,227.6 434.6,226.2 431.9,224.9 C429.2,223.6 426.4,222.5 423.6,221.5 C420.8,220.5 417.9,219.6 415.0,218.8 C412.1,218.0 409.2,217.2 406.3,216.5 C403.4,215.8 400.4,215.1 397.5,214.5 C394.6,213.9 391.6,213.4 388.7,212.8 C385.8,212.2 382.8,211.7 379.8,211.2 C376.8,210.7 373.7,210.3 370.9,210.0 C368.1,209.7 365.7,209.4 362.9,209.1 C360.1,208.8 357.0,208.6 354.0,208.4 C351.0,208.2 347.9,208.1 344.9,208.0 C341.9,207.9 338.9,207.8 335.9,207.7 C332.9,207.6 329.9,207.4 326.9,207.3 C323.9,207.2 320.9,207.0 317.9,206.9 C314.9,206.8 311.9,206.8 308.9,206.7 C305.9,206.6 302.9,206.6 299.9,206.6 C296.9,206.6 293.9,206.7 290.9,206.9 C287.9,207.1 284.9,207.3 281.9,207.6 C278.9,207.9 275.9,208.3 273.0,208.8 C270.1,209.3 267.1,209.9 264.2,210.6 C261.3,211.3 258.4,212.1 255.5,213.0 C252.6,213.9 249.8,214.8 247.0,215.9 C244.2,217.0 241.4,218.2 238.7,219.4 C236.0,220.7 233.2,222.0 230.6,223.4 C228.0,224.8 225.4,226.3 222.9,227.9 C220.4,229.5 217.8,231.2 215.4,232.9 C213.0,234.6 210.6,236.4 208.3,238.3 C206.0,240.2 203.6,242.4 201.5,244.3 C199.4,246.2 197.7,247.8 195.7,249.8 C193.7,251.8 191.5,254.1 189.5,256.3 C187.5,258.5 185.4,260.8 183.5,263.1 C181.6,265.4 179.7,267.7 177.9,270.1 C176.1,272.5 174.2,274.9 172.5,277.3 C170.8,279.8 169.1,282.3 167.4,284.8 C165.8,287.3 164.2,289.8 162.6,292.4 C161.0,295.0 159.5,297.6 158.1,300.2 C156.7,302.8 155.2,305.4 153.9,308.1 C152.6,310.8 151.3,313.6 150.0,316.3 C148.7,319.0 147.5,321.7 146.3,324.5 C145.1,327.3 144.0,330.1 143.0,332.9 C142.0,335.7 140.9,338.5 140.1,341.4 C139.2,344.3 138.5,347.2 137.9,350.1 C137.3,353.0 136.7,355.9 136.4,358.9 C136.1,361.9 135.9,364.9 135.9,367.9 C135.9,370.9 136.0,373.9 136.2,376.9 C136.4,379.9 136.8,382.9 137.3,385.8 C137.8,388.8 138.4,391.7 139.0,394.6 C139.6,397.5 140.4,400.6 141.1,403.4 C141.8,406.1 142.4,408.4 143.2,411.1 C144.0,413.8 144.9,416.8 145.8,419.7 C146.7,422.6 147.7,425.4 148.7,428.3 C149.7,431.2 150.7,434.0 151.7,436.8 C152.7,439.6 153.8,442.4 154.9,445.2 C156.0,448.0 157.1,450.8 158.2,453.6 C159.3,456.4 160.5,459.1 161.6,461.9 C162.7,464.7 163.7,467.6 164.8,470.4 C165.9,473.2 166.8,476.0 168.0,478.8 C169.2,481.6 170.4,484.3 171.7,487.0 C173.0,489.7 174.4,492.3 175.9,494.9 C177.4,497.5 178.9,500.1 180.5,502.6 C182.1,505.1 183.8,507.7 185.6,510.1 C187.4,512.5 189.2,514.8 191.2,517.1 C193.1,519.4 195.2,521.5 197.3,523.7 C199.4,525.9 201.6,528.0 203.7,530.1 C205.8,532.2 208.0,534.2 210.1,536.3 C212.2,538.4 214.4,540.6 216.4,542.8 C218.4,545.0 220.3,547.3 222.1,549.7 C223.9,552.1 225.8,554.7 227.4,557.0 C229.0,559.3 230.3,561.3 231.8,563.7 C233.3,566.1 234.9,568.8 236.5,571.4 C238.1,574.0 239.6,576.5 241.1,579.1 C242.6,581.7 244.1,584.4 245.5,587.0 C246.9,589.6 248.4,592.2 249.8,594.9 C251.2,597.6 252.5,600.3 253.8,603.0 C255.1,605.7 256.4,608.4 257.7,611.1 C259.0,613.8 260.2,616.6 261.4,619.4 C262.6,622.2 263.8,624.9 264.9,627.7 C266.0,630.5 267.7,634.6 268.3,636.0 C269.7,636.4 274.0,637.8 276.9,638.5 C279.8,639.2 282.7,640.0 285.6,640.3 C288.5,640.5 291.4,640.6 294.1,640.0 C296.8,639.4 299.4,638.3 301.7,636.8 C304.0,635.3 306.1,633.1 308.1,631.0 C310.1,628.9 311.9,626.2 313.5,623.9 C315.1,621.6 316.4,619.6 318.0,617.2 C319.6,614.9 321.2,612.2 323.0,609.8 C324.8,607.4 326.6,605.0 328.5,602.7 C330.4,600.4 332.5,598.2 334.6,596.1 C336.7,594.0 339.0,592.1 341.3,590.2 C343.6,588.3 346.2,586.5 348.3,584.6 C350.4,582.7 352.7,580.8 354.2,578.7 C355.7,576.6 356.7,574.4 357.3,572.2 C357.9,570.1 357.4,567.6 358.0,565.8 C358.6,563.9 359.3,562.2 360.9,561.1 C362.5,560.0 365.1,559.4 367.7,559.0 C370.2,558.6 373.3,558.7 376.2,558.9 C379.1,559.1 382.3,559.6 385.1,560.1 C387.9,560.6 390.2,561.1 393.0,561.7 C395.8,562.3 398.9,563.0 401.8,563.6 C404.7,564.2 407.7,564.9 410.6,565.6 C413.5,566.3 416.5,567.0 419.4,567.6 C422.3,568.2 425.3,568.9 428.2,569.5 C431.1,570.1 434.1,570.8 437.0,571.3 C439.9,571.8 442.9,572.3 445.9,572.8 C448.9,573.3 451.8,573.8 454.8,574.1 C457.8,574.5 460.8,574.7 463.8,574.9 C466.8,575.1 469.8,575.3 472.8,575.3 C475.8,575.3 478.8,575.2 481.8,575.0 C484.8,574.8 487.7,574.4 490.6,573.8 C493.5,573.2 496.6,572.4 499.2,571.4 C501.8,570.4 504.0,569.5 506.3,568.0 C508.6,566.5 511.1,564.7 513.2,562.7 C515.3,560.7 517.2,558.4 518.8,556.0 C520.4,553.6 521.7,550.8 522.8,548.1 C523.9,545.4 524.8,542.5 525.6,539.6 C526.4,536.7 527.0,533.7 527.5,530.8 C528.0,527.9 528.5,525.0 528.9,522.0 C529.3,519.0 529.6,516.0 529.9,513.0 C530.2,510.0 530.4,507.0 530.6,504.0 C530.8,501.0 530.9,498.0 531.0,495.0 C531.1,492.0 531.2,489.0 531.2,486.0 C531.2,483.0 531.3,480.0 531.3,477.0 C531.3,474.0 531.3,470.9 531.3,468.0 C531.3,465.1 531.2,462.8 531.1,459.9 C531.0,457.0 531.0,453.9 530.9,450.9 C530.8,447.9 530.6,444.9 530.5,441.9 C530.4,438.9 530.2,435.9 530.1,432.9 C530.0,429.9 529.8,426.9 529.6,423.9 C529.4,420.9 529.3,417.9 529.1,414.9 C528.9,411.9 528.7,408.9 528.5,405.9 C528.3,402.9 528.1,399.9 527.9,396.9 C527.7,393.9 527.4,390.9 527.2,387.9 C527.0,384.9 526.7,381.9 526.5,378.9 C526.3,375.9 526.0,372.9 525.8,369.9 C525.5,366.9 525.2,363.9 525.0,360.9 C524.8,357.9 524.5,354.8 524.3,352.0 C524.1,349.2 523.8,346.8 523.6,344.0 C523.4,341.2 523.1,338.0 522.9,335.0 C522.6,332.0 522.4,329.0 522.1,326.0 C521.9,323.0 521.6,320.0 521.4,317.0 C521.2,314.0 521.0,311.0 520.8,308.0 C520.6,305.0 520.5,302.0 520.4,299.0 C520.3,296.0 520.1,291.5 520.0,290.0 C518.5,289.6 514.0,288.3 511.2,287.5 C508.4,286.7 506.1,286.2 503.4,285.3 C500.7,284.4 497.5,283.5 494.8,282.4 C492.1,281.3 489.4,280.1 487.1,278.5 C484.8,276.9 482.9,274.6 481.2,272.7 C479.4,270.8 478.4,268.9 476.6,266.8 C474.9,264.7 472.8,262.4 470.7,260.3 C468.6,258.2 466.2,256.4 464.0,254.3 C461.8,252.2 459.4,250.1 457.5,248.0 C455.6,245.9 454.1,244.1 452.3,241.8 C450.6,239.5 447.9,235.6 447.0,234.4 Z" fill="#c9c9ca"/><path d="M447.0,234.4 C445.8,233.5 442.2,230.8 439.7,229.2 C437.2,227.6 434.6,226.2 431.9,224.9 C429.2,223.6 426.4,222.5 423.6,221.5 C420.8,220.5 417.8,219.6 414.9,218.8 C412.0,218.0 409.1,217.2 406.2,216.5 C403.3,215.8 400.3,215.1 397.4,214.5 C394.4,213.9 391.5,213.2 388.5,212.7 C385.5,212.1 382.6,211.7 379.6,211.2 C376.6,210.7 373.7,210.3 370.7,209.9 C367.7,209.5 364.7,209.2 361.7,209.0 C358.7,208.8 355.7,208.6 352.7,208.4 C349.7,208.2 346.7,208.1 343.7,208.0 C340.7,207.9 337.6,207.7 334.6,207.6 C331.6,207.5 328.6,207.3 325.6,207.2 C322.6,207.1 319.6,207.0 316.6,206.9 C313.6,206.8 310.5,206.7 307.5,206.6 C304.5,206.5 301.5,206.5 298.5,206.6 C295.5,206.7 292.5,206.8 289.5,207.0 C286.5,207.2 283.5,207.4 280.5,207.7 C277.5,208.0 274.6,208.4 271.6,209.0 C268.6,209.6 265.6,210.3 262.7,211.0 C259.8,211.7 256.9,212.5 254.1,213.4 C251.2,214.3 248.4,215.4 245.6,216.5 C242.8,217.6 240.0,218.7 237.3,220.0 C234.6,221.3 231.8,222.7 229.2,224.1 C226.6,225.5 224.0,227.1 221.5,228.7 C219.0,230.3 216.5,232.0 214.1,233.8 C211.7,235.6 209.3,237.5 207.0,239.4 C204.7,241.3 202.4,243.3 200.2,245.4 C198.0,247.5 195.9,249.6 193.8,251.8 C191.7,254.0 189.7,256.2 187.7,258.4 C185.7,260.6 183.7,262.9 181.8,265.2 C179.9,267.5 178.0,269.9 176.2,272.3 C174.4,274.7 172.6,277.1 170.9,279.6 C169.2,282.1 167.5,284.6 165.9,287.1 C164.3,289.6 162.6,292.2 161.1,294.8 C159.6,297.4 158.1,300.1 156.7,302.7 C155.3,305.3 153.9,308.0 152.6,310.7 C151.3,313.4 149.9,316.1 148.7,318.9 C147.5,321.6 146.3,324.4 145.2,327.2 C144.1,330.0 143.0,332.8 142.0,335.7 C141.0,338.6 140.1,341.4 139.3,344.3 C138.5,347.2 137.8,350.2 137.3,353.1 C136.8,356.1 136.4,359.0 136.2,362.0 C136.0,365.0 136.0,368.0 136.0,371.0 C136.0,374.0 136.2,378.5 136.2,380.0 C136.4,381.7 137.3,388.3 137.5,390.0 C138.9,389.5 143.2,388.1 146.0,387.1 C148.8,386.1 151.7,385.1 154.6,384.1 C157.5,383.1 160.3,382.2 163.2,381.3 C166.1,380.4 168.9,379.4 171.8,378.5 C174.7,377.6 177.5,376.6 180.4,375.7 C183.3,374.8 186.1,373.9 189.0,373.0 C191.9,372.1 194.8,371.3 197.7,370.5 C200.6,369.7 203.5,368.9 206.4,368.1 C209.3,367.4 212.3,366.7 215.2,366.0 C218.1,365.3 221.1,364.7 224.0,364.1 C226.9,363.5 230.1,362.9 232.9,362.4 C235.7,361.9 238.0,361.4 240.8,360.9 C243.6,360.4 246.7,359.9 249.7,359.4 C252.7,358.9 255.6,358.4 258.6,358.0 C261.6,357.6 264.6,357.1 267.6,356.7 C270.6,356.3 273.5,356.0 276.5,355.7 C279.5,355.4 282.5,355.1 285.5,354.9 C288.5,354.7 291.6,354.6 294.6,354.5 C297.6,354.4 300.6,354.2 303.6,354.2 C306.6,354.1 309.6,354.2 312.6,354.2 C315.6,354.2 318.7,354.3 321.7,354.4 C324.7,354.5 327.7,354.5 330.7,354.7 C333.7,354.9 336.7,355.1 339.7,355.3 C342.7,355.6 345.7,355.9 348.7,356.2 C351.7,356.5 354.7,356.9 357.7,357.4 C360.7,357.8 363.7,358.4 366.6,358.9 C369.6,359.4 372.4,360.0 375.4,360.6 C378.3,361.2 381.4,361.9 384.3,362.6 C387.2,363.3 390.1,364.0 393.0,364.9 C395.9,365.8 398.7,366.8 401.5,367.9 C404.3,369.0 407.1,370.1 409.8,371.4 C412.5,372.6 415.2,374.0 417.9,375.4 C420.6,376.8 423.4,378.3 425.8,379.7 C428.2,381.1 430.4,382.2 432.6,383.8 C434.8,385.4 437.2,387.2 439.1,389.0 C441.0,390.8 442.3,392.9 444.0,394.6 C445.7,396.3 447.2,397.9 449.4,399.0 C451.6,400.1 454.3,400.6 457.0,401.0 C459.7,401.4 462.8,401.5 465.8,401.6 C468.8,401.7 471.8,401.7 474.8,401.7 C477.8,401.7 480.9,401.6 483.9,401.6 C486.9,401.6 489.9,401.6 492.9,401.5 C495.9,401.4 498.9,401.4 501.9,401.3 C504.9,401.2 508.0,401.2 511.0,401.1 C514.0,401.1 518.5,401.0 520.0,401.0 C520.0,382.5 520.0,308.5 520.0,290.0 C518.5,289.6 514.0,288.3 511.2,287.5 C508.4,286.7 506.1,286.2 503.4,285.3 C500.7,284.4 497.5,283.5 494.8,282.4 C492.1,281.3 489.4,280.1 487.1,278.5 C484.8,276.9 482.9,274.6 481.2,272.7 C479.4,270.8 478.4,268.9 476.6,266.8 C474.9,264.7 472.8,262.4 470.7,260.3 C468.6,258.2 466.2,256.4 464.0,254.3 C461.8,252.2 459.4,250.1 457.5,248.0 C455.6,245.9 454.1,244.1 452.3,241.8 C450.6,239.5 447.9,235.6 447.0,234.4 Z" fill="#b5b5b6"/><path d="M480.0,497.0 C478.5,497.0 473.9,497.1 470.9,497.0 C467.9,496.9 464.8,496.8 461.8,496.5 C458.8,496.2 455.8,495.9 452.8,495.5 C449.8,495.1 446.8,494.6 443.8,494.4 C440.8,494.2 437.8,494.1 434.8,494.1 C431.8,494.2 428.8,494.4 425.8,494.7 C422.8,495.0 419.8,495.5 416.8,496.1 C413.9,496.7 410.9,497.4 408.1,498.4 C405.3,499.4 402.3,500.6 399.8,501.9 C397.3,503.2 395.3,504.4 393.1,506.1 C390.9,507.8 388.5,510.0 386.5,512.2 C384.5,514.4 382.6,516.7 380.9,519.2 C379.2,521.7 377.7,524.3 376.3,527.0 C374.9,529.7 373.7,532.4 372.6,535.2 C371.6,538.0 370.7,541.0 370.0,543.9 C369.3,546.8 368.8,549.8 368.4,552.8 C368.0,555.8 367.8,558.8 367.7,561.8 C367.6,564.8 367.5,567.9 367.5,570.9 C367.5,573.9 367.5,578.5 367.5,580.0 C368.3,581.3 370.5,585.2 372.1,587.8 C373.7,590.4 375.2,593.0 376.9,595.4 C378.6,597.8 380.3,600.3 382.3,602.3 C384.3,604.3 386.7,606.2 389.1,607.2 C391.6,608.2 394.3,608.7 397.0,608.6 C399.7,608.5 402.5,607.6 405.2,606.6 C407.9,605.6 410.5,604.0 413.0,602.4 C415.5,600.8 418.0,599.0 420.4,597.2 C422.8,595.4 425.2,593.6 427.6,591.7 C430.0,589.8 432.2,588.0 434.6,585.9 C437.0,583.8 439.8,581.4 442.2,579.3 C444.6,577.2 446.7,575.3 448.9,573.2 C451.1,571.1 453.2,569.0 455.4,566.9 C457.5,564.8 459.7,562.7 461.8,560.5 C463.9,558.3 466.1,556.1 468.1,553.9 C470.1,551.7 472.1,549.5 474.0,547.1 C475.9,544.8 477.7,542.3 479.2,539.8 C480.7,537.2 482.1,534.5 483.0,531.8 C483.9,529.0 484.5,526.2 484.7,523.3 C484.9,520.4 484.6,517.4 484.2,514.5 C483.8,511.6 483.1,508.6 482.4,505.7 C481.7,502.8 480.4,498.4 480.0,497.0 Z" fill="#b9b9ba"/><path d="M300.0,720.0 C299.5,718.6 297.9,714.3 296.9,711.5 C295.9,708.7 294.8,705.9 293.8,703.1 C292.8,700.3 291.7,697.4 290.7,694.6 C289.7,691.8 288.6,688.9 287.6,686.1 C286.6,683.3 285.5,680.5 284.5,677.7 C283.5,674.9 282.4,672.0 281.4,669.2 C280.4,666.4 279.3,663.5 278.3,660.7 C277.3,657.9 276.2,655.0 275.3,652.2 C274.4,649.4 273.3,646.6 272.6,643.9 C271.9,641.2 271.4,638.6 271.1,636.0 C270.8,633.4 271.0,631.0 271.0,628.4 C271.0,625.8 271.4,623.0 271.3,620.2 C271.2,617.4 271.1,614.4 270.7,611.5 C270.3,608.6 269.7,605.6 269.0,602.7 C268.3,599.8 267.6,596.9 266.7,594.0 C265.8,591.1 264.8,588.3 263.7,585.5 C262.6,582.7 261.5,580.0 260.3,577.2 C259.1,574.5 257.8,571.7 256.5,569.0 C255.2,566.3 253.8,563.6 252.5,560.9 C251.2,558.2 249.8,555.5 248.4,552.8 C247.1,550.1 245.8,547.5 244.4,544.8 C243.1,542.1 241.6,539.4 240.3,536.7 C239.0,534.0 237.7,531.3 236.4,528.6 C235.1,525.9 233.8,523.2 232.5,520.5 C231.2,517.8 229.9,515.0 228.7,512.3 C227.4,509.6 226.2,506.9 225.0,504.1 C223.8,501.4 222.6,498.6 221.4,495.8 C220.2,493.0 219.1,490.2 218.0,487.4 C216.9,484.6 215.8,481.8 214.9,479.0 C214.0,476.2 213.1,473.3 212.4,470.4 C211.7,467.5 211.0,464.6 210.5,461.6 C210.0,458.6 209.7,455.6 209.5,452.6 C209.3,449.6 209.2,446.7 209.2,443.7 C209.2,440.7 209.3,437.6 209.7,434.7 C210.1,431.8 210.4,429.0 211.4,426.1 C212.4,423.2 213.8,419.8 215.4,417.2 C217.0,414.6 218.9,412.4 220.9,410.3 C222.9,408.2 225.2,406.2 227.5,404.4 C229.8,402.6 232.4,401.0 235.0,399.6 C237.6,398.2 240.4,396.9 243.2,395.9 C246.0,394.8 248.8,394.0 251.7,393.3 C254.6,392.6 257.6,392.1 260.5,391.8 C263.4,391.5 266.4,391.4 269.4,391.5 C272.4,391.6 275.4,391.8 278.4,392.1 C281.4,392.4 284.3,392.8 287.3,393.2 C290.3,393.6 293.3,394.0 296.3,394.5 C299.3,395.0 302.2,395.4 305.2,396.0 C308.1,396.6 311.1,397.2 314.0,397.8 C316.9,398.4 319.9,399.1 322.8,399.8 C325.7,400.6 328.5,401.4 331.4,402.3 C334.2,403.2 337.1,404.2 339.9,405.3 C342.7,406.4 345.4,407.7 348.0,409.1 C350.6,410.6 353.2,412.2 355.5,414.0 C357.8,415.8 360.0,417.9 361.9,420.1 C363.8,422.3 365.5,424.7 367.1,427.2 C368.7,429.7 370.1,432.4 371.5,435.1 C372.9,437.8 374.0,440.5 375.2,443.3 C376.4,446.1 377.5,448.9 378.5,451.7 C379.5,454.5 380.4,457.3 381.3,460.2 C382.2,463.1 383.1,465.9 383.9,468.8 C384.7,471.7 385.5,474.7 386.2,477.6 C386.9,480.5 387.7,483.4 388.3,486.3 C388.9,489.2 389.6,492.1 389.8,494.9 C390.0,497.7 389.9,500.5 389.3,503.2 C388.7,505.9 387.4,508.4 386.1,510.9 C384.8,513.4 382.9,515.9 381.4,518.4 C379.8,520.9 378.2,523.5 376.8,526.1 C375.4,528.8 374.1,531.5 373.0,534.3 C371.9,537.1 371.1,539.9 370.3,542.8 C369.6,545.7 369.0,548.6 368.5,551.6 C368.0,554.6 367.7,559.0 367.5,560.5 C367.2,562.0 366.1,566.4 365.6,569.3 C365.1,572.2 364.6,575.1 364.5,578.1 C364.4,581.1 364.6,584.0 365.0,587.0 C365.4,590.0 366.0,592.9 366.8,595.8 C367.6,598.7 368.5,601.5 369.6,604.3 C370.7,607.1 372.0,609.8 373.3,612.5 C374.6,615.2 376.0,617.9 377.4,620.6 C378.8,623.3 380.4,626.0 381.8,628.5 C383.2,631.0 384.4,633.0 385.8,635.5 C387.2,638.0 388.8,640.7 390.3,643.3 C391.8,645.9 393.3,648.6 394.8,651.2 C396.3,653.8 397.8,656.4 399.3,659.0 C400.8,661.6 402.2,664.3 403.6,667.0 C405.0,669.7 406.4,672.3 407.8,675.0 C409.2,677.7 410.5,680.4 411.8,683.1 C413.1,685.8 414.3,688.6 415.4,691.4 C416.5,694.2 417.6,697.1 418.3,699.9 C419.0,702.7 419.7,705.6 419.8,708.4 C419.9,711.2 419.7,714.1 418.7,716.5 C417.7,718.9 416.0,721.1 414.0,722.7 C412.0,724.3 409.3,725.4 406.6,726.3 C403.9,727.2 400.8,727.6 397.9,728.0 C394.9,728.4 391.9,728.5 388.9,728.6 C385.9,728.7 382.7,728.6 379.9,728.5 C377.1,728.4 374.7,728.3 371.9,728.1 C369.1,727.9 365.9,727.7 362.9,727.4 C359.9,727.1 356.9,726.7 353.9,726.4 C350.9,726.1 347.9,725.8 344.9,725.4 C341.9,725.0 338.9,724.6 335.9,724.2 C332.9,723.8 330.0,723.4 327.0,723.0 C324.0,722.6 321.0,722.2 318.0,721.8 C315.0,721.4 312.0,721.1 309.0,720.8 C306.0,720.5 301.5,720.1 300.0,720.0 Z" fill="#dcdddd"/><g clip-path="url(#pcL)"><rect x="0" y="0" width="1316" height="1197" fill="#d389ab"/><path d="M380.0,838.0 C381.5,838.0 386.0,838.1 389.0,838.1 C392.0,838.1 395.1,838.1 398.1,838.1 C401.1,838.1 404.1,838.2 407.1,838.2 C410.1,838.2 413.1,838.1 416.1,838.0 C419.1,837.9 422.1,837.7 425.1,837.4 C428.1,837.1 431.1,836.6 433.9,836.2 C436.7,835.9 439.0,835.4 441.8,835.3 C444.6,835.2 447.8,835.2 450.8,835.4 C453.8,835.6 456.7,835.9 459.6,836.5 C462.5,837.1 465.4,837.9 468.2,838.9 C471.0,839.9 473.8,841.1 476.5,842.3 C479.2,843.5 481.9,844.9 484.6,846.3 C487.3,847.6 490.0,849.0 492.7,850.4 C495.4,851.8 498.1,853.1 500.8,854.5 C503.5,855.9 506.2,857.2 508.9,858.5 C511.6,859.8 514.3,861.1 517.0,862.5 C519.7,863.9 522.3,865.2 525.0,866.6 C527.7,868.0 530.4,869.3 533.1,870.6 C535.8,871.9 538.6,873.4 541.2,874.6 C543.8,875.8 545.9,876.9 548.5,878.0 C551.1,879.1 554.0,880.3 556.8,881.5 C559.6,882.7 562.4,883.9 565.2,885.0 C568.0,886.1 570.7,887.2 573.5,888.4 C576.3,889.6 579.0,890.8 581.8,892.0 C584.6,893.2 587.3,894.4 590.1,895.6 C592.9,896.8 595.6,897.9 598.4,899.1 C601.2,900.3 604.0,901.5 606.8,902.7 C609.6,903.9 612.3,905.0 615.1,906.1 C617.9,907.2 620.8,908.2 623.6,909.3 C626.4,910.3 629.3,911.4 632.1,912.4 C634.9,913.4 637.9,914.5 640.6,915.4 C643.3,916.3 645.5,917.1 648.2,918.0 C650.9,918.9 653.9,919.9 656.8,920.9 C659.6,921.9 662.4,922.8 665.3,923.8 C668.1,924.8 671.0,925.7 673.9,926.6 C676.8,927.5 679.7,928.4 682.6,929.2 C685.5,930.0 688.4,930.8 691.3,931.6 C694.2,932.4 698.5,933.6 700.0,934.0 C700.2,935.5 701.0,939.9 701.5,942.9 C702.0,945.9 702.6,948.8 703.3,951.7 C704.0,954.6 704.7,957.6 705.5,960.5 C706.3,963.4 707.1,966.3 707.9,969.2 C708.7,972.1 709.5,975.0 710.3,977.9 C711.1,980.8 711.9,983.7 712.7,986.6 C713.5,989.5 714.3,992.5 715.0,995.4 C715.7,998.3 716.4,1001.2 717.1,1004.1 C717.8,1007.0 718.4,1010.0 719.0,1013.0 C719.6,1016.0 720.2,1018.8 720.7,1021.8 C721.2,1024.8 721.6,1027.8 722.0,1030.8 C722.4,1033.8 722.7,1036.7 722.9,1039.7 C723.1,1042.7 723.3,1045.5 723.3,1048.7 C723.3,1051.9 723.2,1055.6 722.9,1058.7 C722.6,1061.8 722.2,1064.7 721.6,1067.6 C721.0,1070.5 720.2,1073.4 719.1,1076.2 C718.0,1079.0 716.8,1081.7 715.3,1084.2 C713.8,1086.7 712.0,1089.1 710.0,1091.2 C708.0,1093.3 705.7,1095.2 703.3,1096.9 C700.9,1098.6 698.2,1100.0 695.5,1101.2 C692.8,1102.4 690.0,1103.4 687.1,1104.3 C684.2,1105.2 681.3,1105.9 678.4,1106.6 C675.5,1107.3 672.6,1107.8 669.6,1108.3 C666.6,1108.8 663.6,1109.2 660.6,1109.5 C657.6,1109.8 654.6,1110.1 651.6,1110.4 C648.6,1110.7 645.6,1110.9 642.6,1111.1 C639.6,1111.3 636.6,1111.4 633.6,1111.6 C630.6,1111.8 627.6,1111.9 624.6,1112.0 C621.6,1112.1 618.6,1112.1 615.6,1112.1 C612.6,1112.1 609.5,1112.2 606.5,1112.2 C603.5,1112.2 600.5,1112.2 597.5,1112.2 C594.5,1112.2 591.5,1112.1 588.5,1112.1 C585.5,1112.0 582.4,1112.0 579.4,1111.9 C576.4,1111.8 573.4,1111.7 570.4,1111.6 C567.4,1111.5 564.4,1111.4 561.4,1111.3 C558.4,1111.2 555.3,1111.0 552.3,1110.9 C549.3,1110.8 546.3,1110.7 543.3,1110.5 C540.3,1110.3 537.3,1110.2 534.3,1110.0 C531.3,1109.8 528.3,1109.7 525.3,1109.5 C522.3,1109.3 519.2,1109.2 516.2,1109.0 C513.2,1108.8 510.4,1108.6 507.2,1108.4 C504.0,1108.2 500.4,1107.9 497.2,1107.7 C494.0,1107.5 491.2,1107.3 488.2,1107.1 C485.2,1106.9 482.2,1106.7 479.2,1106.5 C476.2,1106.3 473.2,1106.0 470.2,1105.8 C467.2,1105.6 464.2,1105.3 461.2,1105.1 C458.2,1104.9 455.1,1104.6 452.1,1104.4 C449.1,1104.2 446.1,1104.0 443.1,1103.8 C440.1,1103.6 437.1,1103.3 434.1,1103.1 C431.1,1102.9 428.1,1102.6 425.1,1102.4 C422.1,1102.2 419.1,1102.0 416.1,1101.8 C413.1,1101.6 410.1,1101.4 407.1,1101.2 C404.1,1101.0 401.1,1100.9 398.1,1100.7 C395.1,1100.5 392.0,1100.4 389.0,1100.3 C386.0,1100.2 381.5,1100.0 380.0,1100.0 Z" fill="#c27c9e"/></g></g><path d="M505.0,262.0 C504.5,260.6 503.2,256.3 502.1,253.5 C501.0,250.7 499.9,247.9 498.5,245.3 C497.1,242.7 495.6,240.2 493.9,237.7 C492.2,235.2 490.4,232.8 488.5,230.5 C486.6,228.2 484.6,226.0 482.5,223.9 C480.4,221.8 478.1,219.8 475.7,218.1 C473.3,216.4 470.7,214.8 468.1,213.5 C465.5,212.2 462.7,211.1 459.9,210.0 C457.1,208.9 454.2,208.0 451.3,207.2 C448.4,206.3 445.4,205.6 442.7,204.9 C440.0,204.2 437.7,203.6 434.9,202.9 C432.1,202.2 429.0,201.5 426.1,200.8 C423.2,200.1 420.2,199.5 417.3,198.8 C414.4,198.1 411.5,197.5 408.6,196.8 C405.7,196.2 402.6,195.5 399.7,194.9 C396.8,194.3 393.8,193.7 390.9,193.1 C388.0,192.5 385.1,191.9 382.1,191.3 C379.2,190.7 376.1,190.2 373.2,189.6 C370.2,189.0 367.3,188.5 364.4,188.0 C361.4,187.5 358.5,187.0 355.5,186.6 C352.5,186.2 349.5,185.8 346.5,185.5 C343.5,185.2 340.6,185.0 337.6,184.9 C334.6,184.8 331.6,184.7 328.6,184.7 C325.6,184.7 322.6,184.8 319.6,184.9 C316.6,185.1 313.6,185.3 310.6,185.6 C307.6,185.9 304.6,186.2 301.6,186.5 C298.6,186.8 295.7,187.2 292.7,187.6 C289.7,188.0 286.7,188.5 283.7,188.9 C280.7,189.3 277.8,189.7 274.8,190.2 C271.9,190.7 268.9,191.2 266.0,191.8 C263.1,192.4 259.9,193.0 257.1,193.6 C254.3,194.2 252.0,194.7 249.3,195.4 C246.6,196.1 243.6,197.0 240.7,197.8 C237.8,198.7 234.9,199.5 232.1,200.5 C229.2,201.5 226.4,202.5 223.6,203.6 C220.8,204.7 218.0,205.9 215.3,207.1 C212.6,208.3 209.8,209.6 207.2,211.0 C204.5,212.4 202.0,213.9 199.4,215.4 C196.8,216.9 194.3,218.5 191.8,220.2 C189.3,221.9 186.9,223.7 184.5,225.5 C182.1,227.3 179.7,229.2 177.4,231.1 C175.1,233.0 172.9,235.1 170.7,237.1 C168.5,239.1 166.3,241.2 164.2,243.3 C162.1,245.4 160.0,247.7 158.0,249.9 C156.0,252.1 153.9,254.3 152.0,256.6 C150.1,258.9 148.2,261.2 146.3,263.5 C144.4,265.8 142.6,268.2 140.8,270.6 C139.0,273.0 137.3,275.5 135.6,278.0 C133.9,280.5 132.3,283.1 130.7,285.6 C129.1,288.2 127.6,290.7 126.1,293.3 C124.6,295.9 123.1,298.5 121.6,301.1 C120.1,303.7 118.7,306.4 117.3,309.0 C115.9,311.6 114.4,314.5 113.1,317.0 C111.8,319.5 110.8,321.6 109.6,324.2 C108.4,326.8 107.1,329.6 105.9,332.4 C104.7,335.1 103.5,337.9 102.4,340.7 C101.3,343.5 100.4,346.3 99.4,349.2 C98.5,352.1 97.6,354.9 96.7,357.8 C95.8,360.7 95.0,363.6 94.3,366.5 C93.6,369.4 92.9,372.4 92.3,375.3 C91.7,378.2 91.0,381.2 90.5,384.1 C90.0,387.1 89.5,390.0 89.1,393.0 C88.7,396.0 88.4,398.9 88.2,401.9 C88.0,404.9 87.9,407.9 87.9,410.9 C87.9,413.9 88.0,416.9 88.2,419.9 C88.4,422.9 88.7,425.9 89.0,428.9 C89.3,431.9 89.8,434.9 90.3,437.8 C90.8,440.8 91.3,443.7 91.9,446.6 C92.5,449.5 93.1,452.5 93.8,455.4 C94.5,458.3 95.1,461.3 96.0,464.1 C96.9,466.9 98.0,469.7 99.2,472.4 C100.4,475.1 101.9,477.7 103.4,480.3 C104.9,482.9 106.6,485.5 108.2,488.0 C109.8,490.5 111.7,493.1 113.3,495.4 C114.9,497.7 116.2,499.6 117.9,501.9 C119.6,504.2 121.4,506.8 123.2,509.2 C125.0,511.6 126.8,514.0 128.5,516.5 C130.2,519.0 132.0,521.4 133.7,523.9 C135.4,526.4 137.1,528.8 138.9,531.2 C140.7,533.6 142.5,536.1 144.3,538.5 C146.1,540.9 147.9,543.2 149.8,545.5 C151.7,547.8 153.8,550.1 155.9,552.2 C158.0,554.3 160.2,556.3 162.5,558.1 C164.8,559.9 167.4,561.5 170.0,562.9 C172.6,564.3 175.4,565.4 178.2,566.5 C181.0,567.6 183.8,568.5 186.6,569.5 C189.4,570.5 192.3,571.4 195.0,572.6 C197.7,573.8 200.4,575.0 203.0,576.5 C205.6,578.0 208.1,579.8 210.3,581.7 C212.6,583.6 214.6,585.8 216.5,588.0 C218.4,590.2 220.1,592.7 221.7,595.2 C223.3,597.7 224.8,600.4 226.3,603.0 C227.8,605.6 229.1,608.2 230.5,610.9 C231.9,613.6 233.2,616.3 234.5,619.0 C235.8,621.7 237.2,624.4 238.4,627.1 C239.7,629.8 240.9,632.8 242.0,635.4 C243.1,638.0 244.0,640.1 244.9,642.8 C245.8,645.5 246.8,648.5 247.6,651.4 C248.4,654.3 249.2,657.2 249.6,660.1 C250.0,663.0 250.2,666.0 250.1,668.9 C250.0,671.8 249.5,674.6 248.8,677.5 C248.1,680.4 247.0,683.2 246.1,686.0 C245.2,688.8 244.1,691.6 243.3,694.5 C242.5,697.4 241.8,700.3 241.3,703.2 C240.9,706.1 240.5,709.2 240.6,712.1 C240.7,715.0 241.1,717.9 241.7,720.8 C242.3,723.6 243.3,726.5 244.4,729.2 C245.5,731.9 247.0,734.5 248.5,737.1 C250.0,739.7 251.6,742.2 253.2,744.8 C254.8,747.3 256.5,749.8 258.1,752.4 C259.7,755.0 261.2,757.5 262.8,760.1 C264.4,762.7 265.9,765.2 267.4,767.8 C268.9,770.4 270.5,773.0 272.0,775.6 C273.5,778.2 275.1,780.7 276.6,783.3 C278.1,785.9 279.7,788.5 281.2,791.1 C282.7,793.7 284.2,796.3 285.7,798.9 C287.2,801.5 288.9,804.2 290.3,806.7 C291.7,809.2 292.9,811.2 294.3,813.6 C295.7,816.0 297.3,818.8 298.9,821.3 C300.5,823.8 302.1,826.4 303.8,828.9 C305.5,831.4 307.2,833.9 309.1,836.2 C311.0,838.6 312.9,840.8 314.9,843.0 C316.9,845.2 319.0,847.4 321.1,849.5 C323.2,851.6 325.5,853.7 327.8,855.5 C330.1,857.3 332.6,859.0 335.1,860.5 C337.7,862.0 340.4,863.3 343.1,864.5 C345.8,865.7 348.7,866.8 351.5,867.8 C354.3,868.8 358.6,870.1 360.0,870.6 C359.3,871.9 356.8,875.6 355.6,878.3 C354.4,880.9 353.3,883.7 352.6,886.5 C351.9,889.3 351.6,892.4 351.5,895.3 C351.4,898.2 351.8,901.2 352.3,904.1 C352.8,907.0 353.7,909.9 354.6,912.7 C355.5,915.5 356.7,918.3 357.9,921.0 C359.1,923.7 360.4,926.4 361.8,929.1 C363.2,931.8 364.6,934.4 366.0,937.1 C367.4,939.8 368.9,942.5 370.4,945.1 C371.8,947.8 373.3,950.4 374.7,953.0 C376.1,955.6 377.6,958.3 379.0,960.9 C380.4,963.5 381.9,966.2 383.4,968.8 C384.9,971.4 386.4,974.0 387.9,976.6 C389.4,979.2 391.0,981.8 392.6,984.3 C394.2,986.8 395.9,989.4 397.7,991.8 C399.5,994.2 401.3,996.6 403.2,998.9 C405.1,1001.2 407.0,1003.5 409.1,1005.7 C411.2,1007.9 413.4,1009.9 415.6,1011.9 C417.8,1013.9 420.1,1015.8 422.5,1017.6 C424.9,1019.4 427.4,1021.1 430.0,1022.6 C432.6,1024.1 435.2,1025.5 437.9,1026.8 C440.6,1028.1 443.4,1029.3 446.2,1030.4 C449.0,1031.5 451.8,1032.5 454.7,1033.3 C457.6,1034.1 460.6,1034.9 463.5,1035.5 C466.4,1036.1 469.5,1036.7 472.3,1037.1 C475.1,1037.5 477.5,1037.8 480.3,1038.0 C483.1,1038.2 486.3,1038.4 489.3,1038.4 C492.3,1038.4 495.3,1038.4 498.3,1038.2 C501.3,1038.0 504.3,1037.8 507.3,1037.5 C510.3,1037.2 513.2,1036.9 516.2,1036.4 C519.2,1036.0 522.2,1035.5 525.1,1034.8 C528.0,1034.1 530.9,1033.4 533.8,1032.5 C536.7,1031.6 539.5,1030.6 542.3,1029.5 C545.1,1028.4 547.9,1027.2 550.6,1026.0 C553.3,1024.8 556.0,1023.5 558.7,1022.1 C561.4,1020.7 564.0,1019.3 566.6,1017.8 C569.2,1016.3 571.8,1014.8 574.4,1013.2 C577.0,1011.6 579.5,1009.9 582.0,1008.3 C584.5,1006.6 587.0,1005.0 589.5,1003.3 C592.0,1001.6 594.4,999.9 596.9,998.2 C599.4,996.5 601.8,994.7 604.3,993.0 C606.8,991.3 609.3,989.7 611.8,988.1 C614.3,986.5 616.9,984.8 619.5,983.3 C622.1,981.8 624.7,980.3 627.4,978.9 C630.1,977.5 632.8,976.1 635.5,974.9 C638.2,973.7 641.0,972.5 643.8,971.5 C646.6,970.5 649.4,969.5 652.3,968.7 C655.2,967.9 658.1,967.2 661.1,966.6 C664.1,966.0 667.0,965.7 670.0,965.4 C673.0,965.1 676.0,964.9 679.0,964.7 C682.0,964.6 686.5,964.5 688.0,964.5 L688.0,897.0 C686.5,896.8 682.1,896.2 679.1,895.7 C676.1,895.2 673.2,894.6 670.3,894.0 C667.4,893.4 664.4,892.5 661.5,891.8 C658.6,891.1 655.7,890.4 652.8,889.6 C649.9,888.9 647.0,888.1 644.1,887.3 C641.2,886.5 638.3,885.7 635.4,884.9 C632.5,884.1 629.7,883.2 626.8,882.4 C623.9,881.5 621.0,880.7 618.1,879.8 C615.2,878.9 612.4,878.1 609.5,877.2 C606.6,876.3 603.7,875.4 600.9,874.4 C598.1,873.4 595.3,872.4 592.5,871.3 C589.7,870.2 586.9,869.1 584.1,867.9 C581.3,866.7 578.6,865.4 575.9,864.1 C573.2,862.8 570.6,861.5 567.9,860.1 C565.2,858.8 562.6,857.4 559.9,856.0 C557.2,854.6 554.6,853.2 551.9,851.8 C549.2,850.4 546.6,849.0 543.9,847.6 C541.2,846.2 538.5,845.0 535.8,843.7 C533.1,842.4 530.4,841.1 527.7,839.8 C525.0,838.5 522.3,837.1 519.7,835.7 C517.1,834.3 514.5,832.8 511.9,831.2 C509.3,829.6 506.8,827.9 504.3,826.3 C501.8,824.6 499.3,822.9 496.8,821.3 C494.3,819.6 491.7,818.0 489.2,816.4 C486.7,814.8 484.2,813.1 481.7,811.5 C479.2,809.9 476.6,808.3 474.1,806.6 C471.6,804.9 469.1,803.2 466.7,801.5 C464.2,799.8 461.8,798.0 459.4,796.2 C457.0,794.4 454.6,792.6 452.3,790.7 C450.0,788.8 447.6,786.9 445.4,784.9 C443.1,782.9 440.9,780.8 438.8,778.7 C436.7,776.6 434.7,774.4 432.8,772.1 C430.9,769.8 429.0,767.5 427.3,765.0 C425.6,762.5 423.9,760.0 422.4,757.4 C420.9,754.8 419.5,752.2 418.2,749.5 C416.9,746.8 415.6,744.0 414.4,741.3 C413.2,738.5 412.1,735.8 411.0,733.0 C409.9,730.2 408.7,727.5 407.6,724.7 C406.5,721.9 405.4,719.1 404.3,716.3 C403.2,713.5 402.2,710.6 401.2,707.8 C400.2,705.0 399.2,702.1 398.2,699.3 C397.2,696.5 396.2,693.6 395.2,690.8 C394.2,688.0 393.2,685.2 392.1,682.4 C391.1,679.6 389.9,676.8 388.9,674.0 C387.9,671.2 387.0,668.3 386.1,665.4 C385.2,662.5 384.3,659.7 383.4,656.8 C382.5,653.9 381.7,651.1 380.9,648.2 C380.1,645.3 379.3,642.6 378.5,639.5 C377.7,636.4 376.8,632.8 376.1,629.7 C375.4,626.6 374.9,623.8 374.3,620.9 C373.7,618.0 373.1,615.1 372.6,612.1 C372.1,609.1 371.8,606.1 371.5,603.1 C371.2,600.1 371.0,597.2 370.9,594.2 C370.8,591.2 370.9,588.2 370.9,585.2 C370.9,582.2 370.9,579.2 371.0,576.2 C371.1,573.2 371.2,570.2 371.5,567.2 C371.8,564.2 372.2,561.2 373.0,558.4 C373.8,555.6 374.7,552.8 376.0,550.2 C377.3,547.6 378.9,545.1 380.8,542.9 C382.7,540.7 384.9,538.7 387.2,536.9 C389.5,535.1 392.0,533.5 394.6,532.1 C397.2,530.7 400.0,529.4 402.8,528.3 C405.6,527.2 408.4,526.3 411.3,525.5 C414.2,524.7 417.1,523.9 420.0,523.3 C422.9,522.7 425.9,522.2 428.8,521.7 C431.8,521.2 434.8,520.9 437.7,520.4 C440.6,519.9 443.7,519.4 446.4,518.5 C449.1,517.6 451.8,516.5 454.1,515.0 C456.4,513.5 458.5,511.4 460.1,509.2 C461.7,506.9 462.9,504.2 463.9,501.5 C464.9,498.8 465.5,495.9 466.3,493.0 C467.1,490.1 467.8,487.2 468.5,484.3 C469.2,481.4 469.9,478.4 470.6,475.5 C471.3,472.6 471.9,469.6 472.5,466.7 C473.1,463.8 473.6,460.8 474.1,457.9 C474.6,454.9 475.1,452.0 475.6,449.0 C476.1,446.0 476.6,443.1 477.0,440.1 C477.4,437.1 477.9,434.2 478.3,431.2 C478.8,428.2 479.2,425.2 479.7,422.2 C480.1,419.2 480.6,416.3 481.0,413.3 C481.4,410.3 481.8,407.4 482.2,404.4 C482.6,401.4 483.1,398.5 483.5,395.5 C483.9,392.5 484.3,389.6 484.7,386.6 C485.1,383.6 485.6,380.6 486.0,377.6 C486.4,374.6 486.9,371.7 487.3,368.7 C487.7,365.7 488.2,362.8 488.6,359.8 C489.0,356.8 489.4,353.9 489.9,350.9 C490.3,347.9 490.8,345.0 491.3,342.0 C491.8,339.0 492.2,336.1 492.7,333.1 C493.2,330.1 493.7,327.2 494.2,324.2 C494.7,321.2 495.2,318.3 495.7,315.3 C496.2,312.3 496.7,309.4 497.2,306.4 C497.7,303.4 498.2,300.5 498.7,297.5 C499.2,294.5 499.7,291.6 500.2,288.6 C500.7,285.6 501.3,282.6 501.8,279.7 C502.3,276.8 502.9,273.8 503.4,270.9 C503.9,267.9 504.7,263.5 505.0,262.0 Z" fill="none" stroke="#231815" stroke-width="5.6" stroke-linejoin="round"/><path d="M447.0,234.4 C445.8,233.5 442.2,230.8 439.7,229.2 C437.2,227.6 434.6,226.2 431.9,224.9 C429.2,223.6 426.4,222.5 423.6,221.5 C420.8,220.5 417.9,219.6 415.0,218.8 C412.1,218.0 409.2,217.2 406.3,216.5 C403.4,215.8 400.4,215.1 397.5,214.5 C394.6,213.9 391.6,213.4 388.7,212.8 C385.8,212.2 382.8,211.7 379.8,211.2 C376.8,210.7 373.7,210.3 370.9,210.0 C368.1,209.7 365.7,209.4 362.9,209.1 C360.1,208.8 357.0,208.6 354.0,208.4 C351.0,208.2 347.9,208.1 344.9,208.0 C341.9,207.9 338.9,207.8 335.9,207.7 C332.9,207.6 329.9,207.4 326.9,207.3 C323.9,207.2 320.9,207.0 317.9,206.9 C314.9,206.8 311.9,206.8 308.9,206.7 C305.9,206.6 302.9,206.6 299.9,206.6 C296.9,206.6 293.9,206.7 290.9,206.9 C287.9,207.1 284.9,207.3 281.9,207.6 C278.9,207.9 275.9,208.3 273.0,208.8 C270.1,209.3 267.1,209.9 264.2,210.6 C261.3,211.3 258.4,212.1 255.5,213.0 C252.6,213.9 249.8,214.8 247.0,215.9 C244.2,217.0 241.4,218.2 238.7,219.4 C236.0,220.7 233.2,222.0 230.6,223.4 C228.0,224.8 225.4,226.3 222.9,227.9 C220.4,229.5 217.8,231.2 215.4,232.9 C213.0,234.6 210.6,236.4 208.3,238.3 C206.0,240.2 203.6,242.4 201.5,244.3 C199.4,246.2 197.7,247.8 195.7,249.8 C193.7,251.8 191.5,254.1 189.5,256.3 C187.5,258.5 185.4,260.8 183.5,263.1 C181.6,265.4 179.7,267.7 177.9,270.1 C176.1,272.5 174.2,274.9 172.5,277.3 C170.8,279.8 169.1,282.3 167.4,284.8 C165.8,287.3 164.2,289.8 162.6,292.4 C161.0,295.0 159.5,297.6 158.1,300.2 C156.7,302.8 155.2,305.4 153.9,308.1 C152.6,310.8 151.3,313.6 150.0,316.3 C148.7,319.0 147.5,321.7 146.3,324.5 C145.1,327.3 144.0,330.1 143.0,332.9 C142.0,335.7 140.9,338.5 140.1,341.4 C139.2,344.3 138.5,347.2 137.9,350.1 C137.3,353.0 136.7,355.9 136.4,358.9 C136.1,361.9 135.9,364.9 135.9,367.9 C135.9,370.9 136.0,373.9 136.2,376.9 C136.4,379.9 136.8,382.9 137.3,385.8 C137.8,388.8 138.4,391.7 139.0,394.6 C139.6,397.5 140.4,400.6 141.1,403.4 C141.8,406.1 142.4,408.4 143.2,411.1 C144.0,413.8 144.9,416.8 145.8,419.7 C146.7,422.6 147.7,425.4 148.7,428.3 C149.7,431.2 150.7,434.0 151.7,436.8 C152.7,439.6 153.8,442.4 154.9,445.2 C156.0,448.0 157.1,450.8 158.2,453.6 C159.3,456.4 160.5,459.1 161.6,461.9 C162.7,464.7 163.7,467.6 164.8,470.4 C165.9,473.2 166.8,476.0 168.0,478.8 C169.2,481.6 170.4,484.3 171.7,487.0 C173.0,489.7 174.4,492.3 175.9,494.9 C177.4,497.5 178.9,500.1 180.5,502.6 C182.1,505.1 183.8,507.7 185.6,510.1 C187.4,512.5 189.2,514.8 191.2,517.1 C193.1,519.4 195.2,521.5 197.3,523.7 C199.4,525.9 201.6,528.0 203.7,530.1 C205.8,532.2 208.0,534.2 210.1,536.3 C212.2,538.4 214.4,540.6 216.4,542.8 C218.4,545.0 220.3,547.3 222.1,549.7 C223.9,552.1 225.8,554.7 227.4,557.0 C229.0,559.3 230.3,561.3 231.8,563.7 C233.3,566.1 234.9,568.8 236.5,571.4 C238.1,574.0 239.6,576.5 241.1,579.1 C242.6,581.7 244.1,584.4 245.5,587.0 C246.9,589.6 248.4,592.2 249.8,594.9 C251.2,597.6 252.5,600.3 253.8,603.0 C255.1,605.7 256.4,608.4 257.7,611.1 C259.0,613.8 260.2,616.6 261.4,619.4 C262.6,622.2 263.8,624.9 264.9,627.7 C266.0,630.5 267.7,634.6 268.3,636.0" fill="none" stroke="#231815" stroke-width="5.6" stroke-linecap="butt"/><path d="M266.0,694.0 C267.2,694.9 271.0,697.4 273.5,699.1 C276.0,700.8 278.4,702.5 280.9,704.3 C283.3,706.0 285.8,707.8 288.2,709.6 C290.6,711.5 292.8,713.4 295.1,715.4 C297.4,717.4 299.6,719.4 301.8,721.5 C304.0,723.6 306.1,725.8 308.2,727.9 C310.3,730.0 312.4,732.3 314.5,734.4 C316.6,736.5 318.9,738.7 321.0,740.6 C323.1,742.5 324.8,744.1 326.9,746.0 C329.0,747.9 331.5,750.0 333.7,752.0 C335.9,754.0 338.2,756.0 340.3,758.2 C342.4,760.4 344.3,762.6 346.1,765.0 C347.9,767.4 349.6,769.9 351.1,772.5 C352.7,775.1 354.0,777.7 355.4,780.4 C356.8,783.1 358.1,785.8 359.4,788.5 C360.7,791.2 361.9,794.0 363.1,796.8 C364.3,799.5 365.5,802.3 366.8,805.0 C368.1,807.7 369.4,810.5 370.8,813.1 C372.2,815.7 373.7,818.4 375.5,820.7 C377.3,823.0 379.3,825.2 381.5,827.1 C383.7,829.0 386.2,830.5 388.8,831.9 C391.4,833.3 394.3,834.4 397.1,835.4 C399.9,836.4 402.9,837.1 405.7,837.8 C408.4,838.5 410.8,838.8 413.6,839.4 C416.4,840.0 419.5,840.5 422.4,841.2 C425.3,841.9 428.2,842.6 431.1,843.5 C434.0,844.4 436.8,845.4 439.6,846.5 C442.4,847.6 445.1,848.9 447.9,850.1 C450.6,851.4 453.4,852.7 456.1,854.0 C458.8,855.3 461.4,856.7 464.1,858.1 C466.8,859.5 469.5,861.0 472.1,862.4 C474.8,863.8 478.7,866.1 480.0,866.8" fill="none" stroke="#231815" stroke-width="5.6" stroke-linecap="butt"/><path d="M437.2,849.7 C434.9,850.9 433.4,854.0 432.2,856.6 C430.9,859.2 430.3,862.3 429.7,865.2 C429.1,868.1 428.9,871.1 428.8,874.1 C428.7,877.1 428.8,880.1 429.0,883.1 C429.2,886.1 429.5,889.1 430.2,892.0 C430.9,894.9 431.8,897.8 433.0,900.5 C434.2,903.2 435.7,905.9 437.2,908.5 C438.7,911.1 440.4,913.5 442.1,916.0 C443.8,918.5 445.7,920.8 447.5,923.2 C449.3,925.6 451.2,928.0 453.1,930.3 C455.0,932.6 456.8,935.1 458.9,937.2 C461.0,939.3 463.3,941.3 465.8,942.8 C468.3,944.3 471.1,945.3 474.1,946.1 C477.1,946.9 480.9,947.2 484.0,947.5 C487.1,947.8 490.0,947.7 493.0,947.7 C496.0,947.7 499.0,947.7 502.0,947.5 C505.0,947.3 508.0,947.1 511.0,946.7 C514.0,946.3 517.0,945.8 519.9,945.2 C522.8,944.6 525.7,943.8 528.6,942.9 C531.5,942.0 534.4,941.1 537.1,939.9 C539.9,938.7 542.5,937.4 545.1,935.9 C547.7,934.4 550.4,932.8 552.7,931.0 C555.1,929.2 557.7,927.2 559.2,924.9 C560.7,922.6 562.2,919.7 561.9,917.3 C561.6,914.9 559.3,912.5 557.3,910.5 C555.3,908.5 552.6,907.0 550.0,905.2 C547.4,903.4 544.3,901.5 541.6,899.8 C538.9,898.1 536.5,896.7 533.9,895.1 C531.3,893.5 528.8,892.0 526.2,890.4 C523.6,888.8 521.1,887.2 518.5,885.7 C515.9,884.2 513.3,882.7 510.7,881.2 C508.1,879.7 505.4,878.2 502.8,876.7 C500.2,875.2 497.5,873.8 494.9,872.4 C492.2,871.0 489.6,869.7 486.9,868.3 C484.2,866.9 481.6,865.6 478.9,864.2 C476.2,862.8 473.5,861.4 470.8,860.1 C468.1,858.8 465.4,857.5 462.7,856.2 C460.0,854.9 457.2,853.6 454.5,852.4 C451.8,851.2 449.1,849.7 446.2,849.2 C443.3,848.8 439.5,848.5 437.2,849.7 Z" fill="#fff" stroke="#231815" stroke-width="5.6" stroke-linejoin="round"/><path d="M976.0,718.0 C975.1,719.1 972.5,722.5 970.4,724.4 C968.3,726.3 965.8,728.0 963.3,729.5 C960.8,731.0 958.2,732.2 955.3,733.6 C952.4,735.0 949.0,736.5 946.1,737.8 C943.2,739.1 940.5,740.3 937.7,741.6 C934.9,742.9 932.2,744.2 929.5,745.6 C926.8,747.0 924.0,748.3 921.5,749.9 C919.0,751.5 916.4,753.1 914.2,755.1 C912.0,757.1 909.8,759.2 908.2,761.6 C906.6,764.0 905.2,766.5 904.5,769.4 C903.8,772.3 903.5,775.8 903.8,778.8 C904.1,781.8 905.0,784.5 906.1,787.3 C907.2,790.0 908.7,792.7 910.2,795.3 C911.7,797.9 914.2,801.7 915.0,803.0 C916.2,802.0 919.7,799.1 922.1,797.2 C924.5,795.3 927.0,793.2 929.2,791.4 C931.4,789.5 933.2,788.0 935.3,786.1 C937.4,784.2 939.8,782.0 941.9,779.8 C944.0,777.6 946.2,775.2 948.0,773.0 C949.8,770.8 951.2,768.9 952.8,766.5 C954.4,764.1 956.0,761.4 957.5,758.7 C959.0,756.1 960.3,753.3 961.6,750.6 C962.9,747.9 964.2,745.1 965.5,742.3 C966.8,739.5 968.1,736.5 969.2,733.9 C970.4,731.2 971.3,729.0 972.4,726.4 C973.5,723.8 975.4,719.4 976.0,718.0 Z" fill="#64a6c6"/><path d="M972.0,725.0 C971.0,726.1 968.1,729.6 966.0,731.8 C963.9,734.0 961.8,736.2 959.6,738.3 C957.5,740.4 955.2,742.5 953.1,744.6 C951.0,746.8 948.9,748.8 946.8,751.2 C944.7,753.6 942.3,756.5 940.3,759.0 C938.3,761.5 936.5,763.8 934.6,766.1 C932.7,768.4 930.7,770.7 928.6,772.9 C926.5,775.1 924.4,777.4 922.3,779.5 C920.1,781.6 917.9,783.7 915.7,785.8 C913.5,787.9 910.1,791.0 909.0,792.0 C909.6,793.0 911.1,796.5 912.4,797.7 C913.7,798.9 915.1,799.4 917.0,799.2 C918.9,799.0 921.5,797.7 923.8,796.3 C926.1,794.9 928.6,792.8 930.8,791.0 C933.0,789.2 934.8,787.5 936.8,785.5 C938.8,783.5 941.2,781.1 943.1,779.0 C945.0,776.9 946.6,775.2 948.3,772.9 C950.0,770.6 951.9,767.9 953.5,765.4 C955.1,762.9 956.7,760.1 958.1,757.6 C959.5,755.1 960.5,753.0 961.7,750.4 C963.0,747.8 964.4,744.9 965.6,742.1 C966.9,739.3 968.1,736.4 969.2,733.8 C970.3,731.2 971.3,729.0 972.4,726.4 C973.5,723.8 975.4,719.4 976.0,718.0 Z" fill="#5b95b3"/><path d="M976.0,718.0 C975.1,719.1 972.5,722.5 970.4,724.4 C968.3,726.3 965.8,728.0 963.3,729.5 C960.8,731.0 958.2,732.2 955.3,733.6 C952.4,735.0 949.0,736.5 946.1,737.8 C943.2,739.1 940.5,740.3 937.7,741.6 C934.9,742.9 932.2,744.2 929.5,745.6 C926.8,747.0 924.0,748.3 921.5,749.9 C919.0,751.5 916.4,753.1 914.2,755.1 C912.0,757.1 909.8,759.2 908.2,761.6 C906.6,764.0 905.2,766.5 904.5,769.4 C903.8,772.3 903.5,775.8 903.8,778.8 C904.1,781.8 905.0,784.5 906.1,787.3 C907.2,790.0 908.7,792.7 910.2,795.3 C911.7,797.9 914.2,801.7 915.0,803.0" fill="none" stroke="#231815" stroke-width="5.6" stroke-linejoin="round"/><clipPath id="hcR"><path d="M876.0,262.0 C876.5,260.6 877.8,256.3 878.9,253.5 C880.0,250.7 881.1,247.9 882.5,245.3 C883.9,242.7 885.4,240.2 887.1,237.7 C888.8,235.2 890.6,232.8 892.5,230.5 C894.4,228.2 896.4,226.0 898.5,223.9 C900.6,221.8 902.9,219.8 905.3,218.1 C907.7,216.4 910.3,214.8 912.9,213.5 C915.5,212.2 918.3,211.1 921.1,210.0 C923.9,208.9 926.8,208.0 929.7,207.2 C932.6,206.3 935.6,205.6 938.3,204.9 C941.0,204.2 943.3,203.6 946.1,202.9 C948.9,202.2 952.0,201.5 954.9,200.8 C957.8,200.1 960.8,199.5 963.7,198.8 C966.6,198.1 969.5,197.5 972.4,196.8 C975.3,196.2 978.3,195.5 981.3,194.9 C984.2,194.3 987.2,193.7 990.1,193.1 C993.0,192.5 996.0,191.9 998.9,191.3 C1001.8,190.7 1004.8,190.2 1007.8,189.6 C1010.8,189.0 1013.6,188.5 1016.6,188.0 C1019.6,187.5 1022.5,187.0 1025.5,186.6 C1028.5,186.2 1031.5,185.8 1034.5,185.5 C1037.5,185.2 1040.4,185.0 1043.4,184.9 C1046.4,184.8 1049.4,184.7 1052.4,184.7 C1055.4,184.7 1058.4,184.8 1061.4,184.9 C1064.4,185.1 1067.4,185.3 1070.4,185.6 C1073.4,185.9 1076.4,186.2 1079.4,186.5 C1082.4,186.8 1085.3,187.2 1088.3,187.6 C1091.3,188.0 1094.3,188.5 1097.3,188.9 C1100.3,189.3 1103.2,189.7 1106.2,190.2 C1109.2,190.7 1112.0,191.2 1115.0,191.8 C1118.0,192.4 1121.1,193.0 1123.9,193.6 C1126.7,194.2 1129.0,194.7 1131.7,195.4 C1134.4,196.1 1137.4,197.0 1140.3,197.8 C1143.2,198.7 1146.1,199.5 1148.9,200.5 C1151.8,201.5 1154.6,202.5 1157.4,203.6 C1160.2,204.7 1163.0,205.9 1165.7,207.1 C1168.4,208.3 1171.2,209.6 1173.8,211.0 C1176.4,212.4 1179.0,213.9 1181.6,215.4 C1184.2,216.9 1186.7,218.5 1189.2,220.2 C1191.7,221.9 1194.1,223.7 1196.5,225.5 C1198.9,227.3 1201.3,229.2 1203.6,231.1 C1205.9,233.0 1208.1,235.1 1210.3,237.1 C1212.5,239.1 1214.7,241.2 1216.8,243.3 C1218.9,245.4 1221.0,247.7 1223.0,249.9 C1225.0,252.1 1227.0,254.3 1229.0,256.6 C1231.0,258.9 1232.8,261.2 1234.7,263.5 C1236.6,265.8 1238.4,268.2 1240.2,270.6 C1242.0,273.0 1243.7,275.5 1245.4,278.0 C1247.1,280.5 1248.7,283.1 1250.3,285.6 C1251.9,288.2 1253.4,290.7 1254.9,293.3 C1256.4,295.9 1257.9,298.5 1259.4,301.1 C1260.9,303.7 1262.3,306.4 1263.7,309.0 C1265.1,311.6 1266.6,314.5 1267.9,317.0 C1269.2,319.5 1270.2,321.6 1271.4,324.2 C1272.6,326.8 1273.9,329.6 1275.1,332.4 C1276.3,335.1 1277.5,337.9 1278.6,340.7 C1279.7,343.5 1280.6,346.3 1281.6,349.2 C1282.5,352.1 1283.4,354.9 1284.3,357.8 C1285.2,360.7 1286.0,363.6 1286.7,366.5 C1287.4,369.4 1288.1,372.4 1288.7,375.3 C1289.3,378.2 1290.0,381.2 1290.5,384.1 C1291.0,387.1 1291.5,390.0 1291.9,393.0 C1292.3,396.0 1292.6,398.9 1292.8,401.9 C1293.0,404.9 1293.1,407.9 1293.1,410.9 C1293.1,413.9 1293.0,416.9 1292.8,419.9 C1292.6,422.9 1292.3,425.9 1292.0,428.9 C1291.7,431.9 1291.2,434.9 1290.7,437.8 C1290.2,440.8 1289.7,443.7 1289.1,446.6 C1288.5,449.5 1287.9,452.5 1287.2,455.4 C1286.5,458.3 1285.9,461.3 1285.0,464.1 C1284.1,466.9 1283.0,469.7 1281.8,472.4 C1280.6,475.1 1279.1,477.7 1277.6,480.3 C1276.1,482.9 1274.4,485.5 1272.8,488.0 C1271.2,490.5 1269.3,493.1 1267.7,495.4 C1266.1,497.7 1264.8,499.6 1263.1,501.9 C1261.4,504.2 1259.6,506.8 1257.8,509.2 C1256.0,511.6 1254.2,514.0 1252.5,516.5 C1250.8,519.0 1249.0,521.4 1247.3,523.9 C1245.6,526.4 1243.9,528.8 1242.1,531.2 C1240.3,533.6 1238.5,536.1 1236.7,538.5 C1234.9,540.9 1233.1,543.2 1231.2,545.5 C1229.3,547.8 1227.2,550.1 1225.1,552.2 C1223.0,554.3 1220.8,556.3 1218.5,558.1 C1216.2,559.9 1213.6,561.5 1211.0,562.9 C1208.4,564.3 1205.6,565.4 1202.8,566.5 C1200.0,567.6 1197.2,568.5 1194.4,569.5 C1191.6,570.5 1188.7,571.4 1186.0,572.6 C1183.3,573.8 1180.5,575.0 1178.0,576.5 C1175.5,578.0 1173.0,579.8 1170.7,581.7 C1168.5,583.6 1166.4,585.8 1164.5,588.0 C1162.6,590.2 1160.9,592.7 1159.3,595.2 C1157.7,597.7 1156.2,600.4 1154.7,603.0 C1153.2,605.6 1151.9,608.2 1150.5,610.9 C1149.1,613.6 1147.8,616.3 1146.5,619.0 C1145.2,621.7 1143.8,624.4 1142.6,627.1 C1141.3,629.8 1140.1,632.8 1139.0,635.4 C1137.9,638.0 1137.0,640.1 1136.1,642.8 C1135.2,645.5 1134.2,648.5 1133.4,651.4 C1132.6,654.3 1131.8,657.2 1131.4,660.1 C1131.0,663.0 1130.8,666.0 1130.9,668.9 C1131.0,671.8 1131.5,674.6 1132.2,677.5 C1132.9,680.4 1134.0,683.2 1134.9,686.0 C1135.8,688.8 1136.9,691.6 1137.7,694.5 C1138.5,697.4 1139.2,700.3 1139.7,703.2 C1140.2,706.1 1140.5,709.2 1140.4,712.1 C1140.3,715.0 1139.9,717.9 1139.3,720.8 C1138.7,723.6 1137.7,726.5 1136.6,729.2 C1135.5,731.9 1134.0,734.5 1132.5,737.1 C1131.0,739.7 1129.4,742.2 1127.8,744.8 C1126.2,747.3 1124.5,749.8 1122.9,752.4 C1121.3,755.0 1119.8,757.5 1118.2,760.1 C1116.7,762.7 1115.1,765.2 1113.6,767.8 C1112.1,770.4 1110.5,773.0 1109.0,775.6 C1107.5,778.2 1105.9,780.7 1104.4,783.3 C1102.9,785.9 1101.3,788.5 1099.8,791.1 C1098.3,793.7 1096.8,796.3 1095.3,798.9 C1093.8,801.5 1092.1,804.2 1090.7,806.7 C1089.3,809.2 1088.1,811.2 1086.7,813.6 C1085.3,816.0 1083.7,818.8 1082.1,821.3 C1080.5,823.8 1078.9,826.4 1077.2,828.9 C1075.5,831.4 1073.8,833.9 1071.9,836.2 C1070.1,838.6 1068.1,840.8 1066.1,843.0 C1064.1,845.2 1062.1,847.4 1059.9,849.5 C1057.8,851.6 1055.5,853.7 1053.2,855.5 C1050.9,857.3 1048.5,859.0 1045.9,860.5 C1043.4,862.0 1040.6,863.3 1037.9,864.5 C1035.2,865.7 1032.3,866.8 1029.5,867.8 C1026.7,868.8 1022.4,870.1 1021.0,870.6 C1021.7,871.9 1024.2,875.6 1025.4,878.3 C1026.6,880.9 1027.7,883.7 1028.4,886.5 C1029.1,889.3 1029.5,892.4 1029.5,895.3 C1029.5,898.2 1029.2,901.2 1028.7,904.1 C1028.2,907.0 1027.3,909.9 1026.4,912.7 C1025.5,915.5 1024.3,918.3 1023.1,921.0 C1021.9,923.7 1020.6,926.4 1019.2,929.1 C1017.9,931.8 1016.4,934.4 1015.0,937.1 C1013.6,939.8 1012.1,942.5 1010.6,945.1 C1009.1,947.8 1007.7,950.4 1006.3,953.0 C1004.9,955.6 1003.5,958.3 1002.0,960.9 C1000.5,963.5 999.1,966.2 997.6,968.8 C996.1,971.4 994.6,974.0 993.1,976.6 C991.6,979.2 990.0,981.8 988.4,984.3 C986.8,986.8 985.1,989.4 983.3,991.8 C981.5,994.2 979.7,996.6 977.8,998.9 C975.9,1001.2 974.0,1003.5 971.9,1005.7 C969.8,1007.9 967.6,1009.9 965.4,1011.9 C963.2,1013.9 960.9,1015.8 958.5,1017.6 C956.1,1019.4 953.6,1021.1 951.0,1022.6 C948.4,1024.1 945.8,1025.5 943.1,1026.8 C940.4,1028.1 937.6,1029.3 934.8,1030.4 C932.0,1031.5 929.2,1032.5 926.3,1033.3 C923.4,1034.1 920.4,1034.9 917.5,1035.5 C914.6,1036.1 911.5,1036.7 908.7,1037.1 C905.9,1037.5 903.5,1037.8 900.7,1038.0 C897.9,1038.2 894.7,1038.4 891.7,1038.4 C888.7,1038.4 885.7,1038.4 882.7,1038.2 C879.7,1038.0 876.7,1037.8 873.7,1037.5 C870.7,1037.2 867.8,1036.9 864.8,1036.4 C861.8,1036.0 858.8,1035.5 855.9,1034.8 C853.0,1034.1 850.1,1033.4 847.2,1032.5 C844.3,1031.6 841.5,1030.6 838.7,1029.5 C835.9,1028.4 833.1,1027.2 830.4,1026.0 C827.7,1024.8 825.0,1023.5 822.3,1022.1 C819.6,1020.7 817.0,1019.3 814.4,1017.8 C811.8,1016.3 809.2,1014.8 806.6,1013.2 C804.0,1011.6 801.5,1009.9 799.0,1008.3 C796.5,1006.6 794.0,1005.0 791.5,1003.3 C789.0,1001.6 786.6,999.9 784.1,998.2 C781.6,996.5 779.2,994.7 776.7,993.0 C774.2,991.3 771.7,989.7 769.2,988.1 C766.7,986.5 764.1,984.8 761.5,983.3 C758.9,981.8 756.3,980.3 753.6,978.9 C750.9,977.5 748.2,976.1 745.5,974.9 C742.8,973.7 740.0,972.5 737.2,971.5 C734.4,970.5 731.6,969.5 728.7,968.7 C725.8,967.9 722.9,967.2 719.9,966.6 C716.9,966.0 714.0,965.7 711.0,965.4 C708.0,965.1 705.0,964.9 702.0,964.7 C699.0,964.6 694.5,964.5 693.0,964.5 L693.0,893.5 C694.5,893.3 699.0,892.7 701.9,892.1 C704.8,891.5 707.7,890.9 710.6,890.1 C713.5,889.4 716.4,888.5 719.3,887.6 C722.2,886.8 725.0,885.9 727.9,885.0 C730.8,884.1 733.6,883.2 736.5,882.3 C739.4,881.4 742.2,880.6 745.1,879.7 C748.0,878.8 750.8,877.9 753.7,877.0 C756.6,876.1 759.4,875.1 762.3,874.1 C765.1,873.1 768.1,872.1 770.8,871.2 C773.5,870.3 775.6,869.5 778.3,868.5 C781.0,867.5 783.9,866.5 786.8,865.5 C789.6,864.5 792.5,863.6 795.4,862.7 C798.3,861.8 801.1,860.9 804.0,860.0 C806.9,859.1 809.8,858.3 812.6,857.4 C815.5,856.5 818.3,855.6 821.1,854.6 C823.9,853.6 826.6,852.3 829.2,851.2 C831.8,850.1 834.2,848.9 836.5,847.8 C838.8,846.7 840.8,845.7 843.1,844.6 C845.4,843.5 847.7,842.5 850.2,841.3 C852.7,840.1 855.3,838.9 857.9,837.5 C860.5,836.1 863.2,834.7 865.8,833.2 C868.4,831.7 870.9,830.0 873.4,828.4 C875.9,826.8 878.4,825.1 880.9,823.5 C883.4,821.9 886.0,820.1 888.5,818.5 C891.0,816.9 893.6,815.2 896.1,813.6 C898.6,812.0 901.1,810.4 903.6,808.7 C906.1,807.1 908.6,805.4 911.1,803.7 C913.6,802.0 916.0,800.3 918.4,798.5 C920.8,796.7 923.4,794.8 925.6,793.1 C927.9,791.4 929.7,789.9 931.9,788.1 C934.1,786.3 936.4,784.2 938.6,782.2 C940.8,780.2 943.0,778.0 945.0,775.8 C947.0,773.6 949.0,771.3 950.8,768.9 C952.6,766.5 954.4,764.1 956.0,761.6 C957.6,759.1 959.2,756.5 960.6,753.9 C962.0,751.3 963.2,748.5 964.5,745.8 C965.8,743.1 967.0,740.4 968.2,737.6 C969.4,734.8 970.5,732.0 971.6,729.2 C972.7,726.4 973.8,723.7 974.9,720.9 C976.0,718.1 977.0,715.3 978.1,712.5 C979.2,709.7 980.2,706.8 981.2,704.0 C982.2,701.2 983.1,698.3 984.1,695.5 C985.1,692.7 986.2,689.8 987.2,687.0 C988.2,684.2 989.4,681.4 990.4,678.6 C991.4,675.8 992.4,673.0 993.4,670.1 C994.4,667.2 995.2,664.4 996.1,661.5 C997.0,658.6 997.9,655.8 998.7,652.9 C999.6,650.0 1000.4,646.9 1001.2,644.2 C1002.0,641.5 1002.6,639.2 1003.3,636.5 C1004.0,633.8 1004.7,630.6 1005.3,627.7 C1005.9,624.8 1006.5,621.9 1007.1,618.9 C1007.7,615.9 1008.3,613.0 1008.7,610.0 C1009.1,607.0 1009.5,604.1 1009.7,601.1 C1009.9,598.1 1010.0,595.1 1010.1,592.1 C1010.2,589.1 1010.1,586.1 1010.1,583.1 C1010.1,580.1 1010.0,577.1 1009.9,574.1 C1009.8,571.1 1009.7,568.1 1009.3,565.2 C1008.9,562.3 1008.4,559.3 1007.5,556.5 C1006.6,553.7 1005.5,550.9 1004.1,548.4 C1002.7,545.9 1000.9,543.5 998.9,541.4 C996.9,539.3 994.6,537.4 992.2,535.7 C989.8,534.0 987.2,532.5 984.6,531.1 C982.0,529.8 979.1,528.6 976.3,527.6 C973.5,526.6 970.7,525.7 967.8,524.9 C964.9,524.1 962.0,523.5 959.0,522.9 C956.0,522.3 953.1,521.9 950.1,521.4 C947.1,520.9 944.2,520.7 941.3,520.1 C938.4,519.5 935.3,518.9 932.8,517.9 C930.3,516.9 928.2,516.0 926.1,514.4 C924.0,512.8 921.8,510.6 920.3,508.3 C918.8,506.0 917.8,503.2 916.8,500.5 C915.8,497.8 915.2,494.9 914.5,492.0 C913.8,489.1 913.0,486.2 912.3,483.3 C911.6,480.4 910.9,477.4 910.2,474.5 C909.5,471.6 908.9,468.6 908.3,465.7 C907.7,462.8 907.2,459.8 906.7,456.9 C906.2,453.9 905.8,451.0 905.3,448.0 C904.8,445.0 904.4,442.1 903.9,439.1 C903.4,436.1 903.0,433.1 902.5,430.1 C902.0,427.1 901.6,424.2 901.2,421.2 C900.8,418.2 900.3,415.3 899.9,412.3 C899.5,409.3 899.0,406.4 898.6,403.4 C898.2,400.4 897.8,397.5 897.4,394.5 C897.0,391.5 896.5,388.5 896.1,385.5 C895.7,382.5 895.3,379.6 894.9,376.6 C894.5,373.6 894.0,370.7 893.6,367.7 C893.2,364.7 892.7,361.8 892.3,358.8 C891.9,355.8 891.4,352.7 891.0,349.9 C890.6,347.1 890.2,344.7 889.7,341.9 C889.2,339.1 888.8,335.9 888.3,333.0 C887.8,330.1 887.3,327.1 886.8,324.2 C886.3,321.2 885.8,318.3 885.3,315.3 C884.8,312.3 884.3,309.4 883.8,306.4 C883.3,303.4 882.8,300.5 882.3,297.5 C881.8,294.5 881.3,291.6 880.8,288.6 C880.3,285.6 879.7,282.6 879.2,279.7 C878.7,276.8 878.1,273.8 877.6,270.9 C877.1,267.9 876.3,263.5 876.0,262.0 Z"/></clipPath><clipPath id="pcR"><path d="M1030.0,769.0 C1028.5,769.0 1023.9,768.8 1020.9,768.8 C1017.9,768.8 1014.9,768.8 1011.9,768.9 C1008.9,769.0 1005.8,769.2 1002.8,769.6 C999.8,770.0 996.8,770.4 993.9,771.0 C991.0,771.6 988.0,772.3 985.1,773.1 C982.2,773.9 979.5,774.7 976.4,775.6 C973.3,776.5 969.8,777.7 966.8,778.7 C963.8,779.7 961.0,780.7 958.2,781.7 C955.4,782.8 952.6,783.9 949.8,785.0 C947.0,786.1 944.2,787.4 941.4,788.6 C938.6,789.9 935.9,791.2 933.2,792.5 C930.5,793.8 927.8,795.1 925.1,796.5 C922.4,797.9 918.4,799.9 917.0,800.6 C915.7,799.9 911.7,797.8 909.1,796.3 C906.5,794.8 903.9,793.3 901.3,791.8 C898.7,790.2 896.1,788.6 893.6,787.0 C891.1,785.4 888.6,783.7 886.1,782.1 C883.6,780.5 881.1,778.9 878.6,777.2 C876.1,775.5 873.6,773.8 871.1,772.1 C868.6,770.4 866.1,768.8 863.6,767.1 C861.1,765.4 858.6,763.8 856.1,762.1 C853.6,760.4 851.2,758.8 848.7,757.1 C846.2,755.4 843.7,753.8 841.2,752.1 C838.7,750.4 836.1,748.8 833.6,747.1 C831.1,745.5 828.6,743.8 826.1,742.2 C823.6,740.6 821.0,739.0 818.5,737.4 C816.0,735.8 813.4,734.2 810.8,732.6 C808.2,731.0 805.7,729.5 803.1,727.9 C800.5,726.3 798.0,724.8 795.4,723.3 C792.8,721.8 790.2,720.3 787.6,718.8 C785.0,717.3 782.4,715.8 779.7,714.4 C777.1,713.0 774.4,711.6 771.7,710.2 C769.0,708.8 766.4,707.5 763.7,706.2 C761.0,704.9 758.2,703.6 755.5,702.4 C752.8,701.2 750.0,700.0 747.2,698.9 C744.4,697.8 741.6,696.7 738.8,695.7 C736.0,694.7 733.1,693.9 730.2,693.1 C727.3,692.3 724.4,691.5 721.5,691.0 C718.6,690.5 715.6,690.1 712.6,689.9 C709.6,689.7 706.7,689.7 703.8,690.0 C700.9,690.3 697.9,690.9 695.2,691.9 C692.5,692.9 689.9,694.2 687.6,695.8 C685.3,697.4 683.2,699.5 681.3,701.7 C679.4,703.9 677.8,706.5 676.4,709.1 C675.0,711.7 673.9,714.4 672.8,717.2 C671.7,720.0 670.8,722.8 669.9,725.7 C669.0,728.6 668.3,731.5 667.6,734.4 C666.9,737.3 666.3,740.2 665.7,743.2 C665.1,746.2 664.6,749.1 664.1,752.1 C663.6,755.1 663.1,758.0 662.7,761.0 C662.3,764.0 661.9,766.9 661.5,769.9 C661.1,772.9 660.7,775.8 660.4,778.8 C660.1,781.8 659.8,784.8 659.5,787.8 C659.2,790.8 659.0,793.8 658.8,796.8 C658.6,799.8 658.3,802.8 658.1,805.8 C657.9,808.8 657.8,811.8 657.6,814.8 C657.5,817.8 657.3,820.8 657.2,823.8 C657.1,826.8 656.9,829.8 656.8,832.8 C656.7,835.8 656.6,838.8 656.5,841.8 C656.4,844.8 656.3,847.8 656.3,850.8 C656.2,853.8 656.2,856.8 656.2,859.8 C656.2,862.8 656.1,865.8 656.1,868.8 C656.1,871.8 656.1,874.8 656.1,877.8 C656.1,880.8 656.2,883.8 656.2,886.8 C656.2,889.8 656.2,892.8 656.3,895.8 C656.3,898.8 656.4,901.8 656.5,904.8 C656.6,907.8 656.6,910.8 656.7,913.8 C656.8,916.8 656.9,919.9 657.0,922.9 C657.1,925.9 657.2,928.9 657.3,931.9 C657.4,934.9 657.6,937.9 657.8,940.9 C657.9,943.9 658.0,946.9 658.2,949.9 C658.4,952.9 658.6,955.9 658.8,958.9 C659.0,961.9 659.2,964.8 659.4,967.8 C659.6,970.8 659.8,973.8 660.0,976.8 C660.2,979.8 660.5,982.8 660.7,985.8 C661.0,988.8 661.2,991.8 661.5,994.8 C661.8,997.8 662.1,1000.8 662.4,1003.8 C662.7,1006.8 663.1,1009.7 663.4,1012.7 C663.7,1015.7 664.0,1018.7 664.4,1021.7 C664.8,1024.7 665.1,1027.6 665.5,1030.6 C665.9,1033.6 666.4,1036.5 666.8,1039.5 C667.2,1042.5 667.6,1045.4 668.1,1048.4 C668.6,1051.4 669.2,1054.3 669.7,1057.3 C670.2,1060.3 670.8,1063.2 671.4,1066.2 C672.0,1069.2 672.6,1072.1 673.3,1075.0 C674.0,1077.9 674.8,1080.8 675.6,1083.7 C676.5,1086.6 677.3,1089.5 678.4,1092.2 C679.5,1095.0 680.7,1097.7 682.2,1100.2 C683.7,1102.7 685.5,1105.0 687.5,1107.0 C689.5,1109.0 691.9,1110.7 694.4,1111.9 C696.9,1113.1 699.8,1114.0 702.6,1114.4 C705.4,1114.8 708.4,1114.8 711.3,1114.5 C714.2,1114.2 717.1,1113.6 720.0,1112.9 C722.9,1112.2 725.7,1111.2 728.5,1110.2 C731.3,1109.2 734.1,1107.9 736.8,1106.6 C739.5,1105.3 742.2,1103.9 744.8,1102.5 C747.4,1101.1 750.0,1099.6 752.6,1098.1 C755.2,1096.6 757.8,1094.9 760.3,1093.3 C762.8,1091.7 765.3,1090.0 767.8,1088.3 C770.3,1086.6 772.8,1084.9 775.2,1083.2 C777.7,1081.5 780.1,1079.8 782.5,1078.0 C784.9,1076.2 787.3,1074.4 789.7,1072.6 C792.1,1070.8 794.5,1069.0 796.9,1067.2 C799.3,1065.4 801.7,1063.5 804.1,1061.7 C806.5,1059.9 808.9,1058.1 811.3,1056.3 C813.7,1054.5 816.1,1052.7 818.5,1050.9 C820.9,1049.1 823.3,1047.3 825.8,1045.6 C828.3,1043.9 830.8,1042.2 833.3,1040.6 C835.8,1039.0 839.7,1036.8 841.0,1036.0 C841.8,1034.7 844.1,1030.8 845.6,1028.2 C847.1,1025.6 848.8,1023.0 850.3,1020.4 C851.8,1017.8 853.4,1015.2 854.8,1012.5 C856.2,1009.8 857.6,1007.1 858.9,1004.4 C860.2,1001.7 861.4,998.9 862.6,996.1 C863.8,993.3 865.0,990.5 866.1,987.7 C867.2,984.9 868.3,982.1 869.3,979.2 C870.3,976.4 871.3,973.5 872.2,970.6 C873.1,967.7 873.9,964.7 874.6,961.8 C875.3,958.9 875.9,956.0 876.5,953.0 C877.1,950.0 877.8,945.5 878.0,944.0 C878.6,942.6 880.6,938.5 881.9,935.8 C883.2,933.1 884.5,930.3 885.9,927.6 C887.2,924.9 888.6,922.1 890.0,919.4 C891.4,916.7 892.8,914.0 894.3,911.4 C895.8,908.8 897.4,906.2 899.0,903.6 C900.6,901.0 902.2,898.6 904.0,896.0 C905.8,893.4 908.0,890.4 909.9,887.8 C911.8,885.2 913.6,882.9 915.5,880.5 C917.4,878.1 919.2,875.8 921.1,873.4 C923.0,871.0 924.9,868.7 926.8,866.3 C928.7,863.9 930.6,861.6 932.5,859.2 C934.4,856.8 936.4,854.5 938.3,852.1 C940.2,849.7 943.0,846.2 944.0,845.0 C945.5,844.6 949.8,843.3 952.8,842.6 C955.8,841.9 958.7,841.2 961.7,840.6 C964.7,840.0 967.8,839.4 970.6,838.8 C973.4,838.2 975.8,837.8 978.5,837.0 C981.2,836.2 984.3,835.3 987.1,834.2 C989.9,833.1 992.6,831.8 995.1,830.2 C997.6,828.6 1000.0,826.8 1002.1,824.7 C1004.2,822.6 1006.0,820.2 1007.6,817.7 C1009.2,815.2 1010.5,812.5 1011.9,809.8 C1013.3,807.1 1014.6,804.1 1015.8,801.5 C1017.0,798.9 1018.0,796.7 1019.1,794.1 C1020.2,791.5 1021.5,788.5 1022.7,785.7 C1023.9,782.9 1025.2,780.2 1026.4,777.4 C1027.6,774.6 1029.4,770.4 1030.0,769.0 Z"/></clipPath><g clip-path="url(#hcR)"><rect x="0" y="0" width="1316" height="1197" fill="#64a6c6"/><path d="M1115.0,694.0 C1113.8,694.9 1110.0,697.4 1107.5,699.1 C1105.0,700.8 1102.4,702.6 1100.1,704.3 C1097.8,706.0 1095.8,707.4 1093.6,709.1 C1091.3,710.9 1088.9,712.8 1086.6,714.8 C1084.3,716.8 1082.1,718.8 1079.9,720.9 C1077.7,723.0 1075.4,725.3 1073.4,727.3 C1071.4,729.3 1069.8,731.1 1067.8,733.1 C1065.8,735.1 1063.5,737.3 1061.3,739.4 C1059.1,741.5 1056.8,743.5 1054.6,745.5 C1052.3,747.5 1050.0,749.5 1047.8,751.5 C1045.6,753.5 1043.2,755.7 1041.2,757.7 C1039.2,759.7 1037.6,761.5 1035.9,763.7 C1034.2,765.9 1032.4,768.6 1030.8,771.1 C1029.2,773.6 1027.7,776.3 1026.3,779.0 C1024.9,781.7 1023.5,784.5 1022.3,787.1 C1021.1,789.7 1020.1,791.8 1018.9,794.4 C1017.7,797.0 1016.5,800.0 1015.2,802.7 C1014.0,805.5 1012.8,808.2 1011.4,810.9 C1010.0,813.6 1008.7,816.3 1007.0,818.7 C1005.3,821.1 1003.3,823.6 1001.3,825.5 C999.3,827.4 997.5,828.8 995.1,830.2 C992.7,831.7 989.9,833.1 987.1,834.2 C984.4,835.3 981.5,836.2 978.6,837.0 C975.7,837.8 972.6,838.4 969.8,839.0 C967.0,839.6 964.7,840.0 961.9,840.6 C959.1,841.2 955.9,841.9 953.0,842.6 C950.1,843.3 945.8,844.6 944.3,845.0 C944.8,846.4 946.1,850.7 947.0,853.5 C947.9,856.3 948.9,859.1 949.7,862.0 C950.5,864.9 951.3,867.8 951.8,870.8 C952.3,873.8 952.7,876.8 952.9,879.8 C953.1,882.8 953.1,885.8 952.8,888.8 C952.5,891.8 952.0,894.7 951.2,897.6 C950.4,900.5 949.4,903.3 948.1,906.0 C946.8,908.7 945.2,911.4 943.6,913.9 C942.0,916.4 940.2,918.9 938.3,921.2 C936.4,923.5 934.3,925.8 932.2,927.9 C930.1,930.0 927.8,932.0 925.5,934.0 C923.2,936.0 920.8,937.8 918.4,939.6 C916.0,941.4 912.2,944.1 911.0,945.0 C911.9,945.5 914.6,946.5 916.1,948.0 C917.6,949.5 918.9,951.9 920.3,953.9 C921.6,955.9 922.6,958.1 924.2,960.3 C925.8,962.5 927.7,965.1 929.8,967.1 C931.9,969.1 934.3,970.9 936.8,972.3 C939.3,973.7 942.1,974.7 944.9,975.3 C947.7,975.9 950.7,976.1 953.6,976.0 C956.5,975.9 959.6,975.3 962.2,974.5 C964.9,973.7 967.1,972.7 969.5,971.4 C971.9,970.1 974.5,968.3 976.8,966.5 C979.1,964.7 981.3,962.6 983.4,960.4 C985.5,958.2 987.3,955.9 989.1,953.5 C990.9,951.1 992.6,948.6 994.1,946.0 C995.6,943.4 997.1,940.6 998.4,938.1 C999.7,935.6 1000.6,933.4 1001.7,930.8 C1002.8,928.2 1004.0,925.2 1005.0,922.4 C1006.0,919.6 1006.9,916.7 1007.7,913.8 C1008.5,910.9 1009.2,908.0 1009.8,905.0 C1010.4,902.0 1010.8,899.1 1011.2,896.1 C1011.6,893.1 1011.8,889.9 1012.0,887.1 C1012.2,884.3 1012.2,882.0 1012.3,879.1 C1012.3,876.2 1012.3,873.0 1012.3,870.0 C1012.2,867.0 1012.0,862.5 1012.0,861.0 C1013.5,860.6 1017.9,859.8 1020.8,858.9 C1023.6,858.0 1026.6,856.9 1029.1,855.7 C1031.6,854.5 1033.6,853.3 1035.8,851.6 C1038.0,849.9 1040.4,847.7 1042.5,845.6 C1044.6,843.5 1046.5,841.2 1048.5,838.9 C1050.5,836.6 1052.4,834.2 1054.2,831.8 C1056.0,829.4 1057.9,826.8 1059.6,824.5 C1061.3,822.2 1062.6,820.3 1064.2,817.9 C1065.8,815.5 1067.6,812.8 1069.2,810.3 C1070.8,807.8 1072.5,805.3 1074.1,802.7 C1075.7,800.1 1077.2,797.5 1078.8,794.9 C1080.3,792.3 1081.9,789.6 1083.4,787.1 C1084.9,784.6 1086.1,782.6 1087.6,780.1 C1089.1,777.6 1090.7,774.9 1092.2,772.3 C1093.8,769.7 1095.4,767.2 1096.9,764.6 C1098.5,762.0 1100.1,759.2 1101.5,756.7 C1102.9,754.2 1104.0,752.2 1105.4,749.7 C1106.8,747.2 1108.3,744.3 1109.7,741.6 C1111.1,738.9 1112.4,736.3 1113.6,733.5 C1114.8,730.7 1115.9,727.9 1116.8,725.0 C1117.7,722.1 1118.5,719.0 1119.0,716.3 C1119.5,713.6 1119.8,711.2 1119.7,708.6 C1119.6,706.0 1119.3,703.0 1118.5,700.6 C1117.7,698.2 1115.6,695.1 1115.0,694.0 Z" fill="#5b95b3"/><path d="M1381.0,0.0 C1379.5,-0.1 1375.0,-0.2 1372.0,-0.4 C1369.0,-0.6 1366.0,-0.7 1363.0,-0.9 C1360.0,-1.1 1357.0,-1.3 1354.0,-1.5 C1351.0,-1.7 1348.1,-2.0 1345.1,-2.3 C1342.1,-2.6 1339.1,-2.9 1336.1,-3.2 C1333.1,-3.5 1330.1,-3.9 1327.1,-4.3 C1324.1,-4.6 1321.2,-4.9 1318.2,-5.3 C1315.2,-5.7 1312.3,-6.1 1309.3,-6.5 C1306.3,-6.9 1303.3,-7.3 1300.3,-7.7 C1297.3,-8.1 1294.4,-8.5 1291.4,-8.9 C1288.4,-9.3 1285.5,-9.7 1282.5,-10.1 C1279.5,-10.5 1276.6,-11.0 1273.6,-11.4 C1270.6,-11.8 1267.6,-12.2 1264.6,-12.6 C1261.6,-13.0 1258.7,-13.5 1255.7,-13.9 C1252.7,-14.3 1249.8,-14.8 1246.8,-15.2 C1243.8,-15.6 1240.9,-16.1 1237.9,-16.5 C1234.9,-16.9 1232.0,-17.4 1229.0,-17.9 C1226.0,-18.3 1223.1,-18.8 1220.1,-19.2 C1217.1,-19.6 1213.9,-20.1 1211.1,-20.5 C1208.3,-20.9 1206.0,-21.2 1203.2,-21.6 C1200.4,-22.0 1197.3,-22.5 1194.3,-22.9 C1191.3,-23.3 1188.4,-23.8 1185.4,-24.2 C1182.4,-24.6 1179.5,-25.1 1176.5,-25.5 C1173.5,-25.9 1170.6,-26.4 1167.6,-26.8 C1164.6,-27.2 1161.6,-27.6 1158.6,-28.0 C1155.6,-28.4 1152.7,-28.9 1149.7,-29.3 C1146.7,-29.7 1143.8,-30.1 1140.8,-30.5 C1137.8,-30.9 1134.9,-31.3 1131.9,-31.7 C1128.9,-32.1 1125.9,-32.5 1122.9,-32.9 C1119.9,-33.3 1117.0,-33.7 1114.0,-34.1 C1111.0,-34.5 1108.1,-34.8 1105.1,-35.2 C1102.1,-35.6 1099.1,-35.9 1096.1,-36.3 C1093.1,-36.7 1090.2,-37.0 1087.2,-37.4 C1084.2,-37.8 1081.2,-38.1 1078.2,-38.5 C1075.2,-38.9 1072.3,-39.2 1069.3,-39.6 C1066.3,-40.0 1063.3,-40.3 1060.3,-40.6 C1057.3,-40.9 1054.4,-41.3 1051.4,-41.6 C1048.4,-41.9 1045.4,-42.2 1042.4,-42.5 C1039.4,-42.8 1036.5,-43.1 1033.5,-43.4 C1030.5,-43.7 1027.5,-44.0 1024.5,-44.3 C1021.5,-44.6 1018.5,-44.9 1015.5,-45.2 C1012.5,-45.5 1009.5,-45.8 1006.5,-46.0 C1003.5,-46.2 1000.6,-46.5 997.6,-46.7 C994.6,-47.0 991.6,-47.3 988.6,-47.5 C985.6,-47.7 982.6,-47.9 979.6,-48.1 C976.6,-48.3 973.6,-48.6 970.6,-48.8 C967.6,-49.0 964.6,-49.1 961.6,-49.3 C958.6,-49.5 955.6,-49.7 952.6,-49.9 C949.6,-50.1 946.6,-50.2 943.6,-50.3 C940.6,-50.4 937.6,-50.6 934.6,-50.7 C931.6,-50.8 928.6,-51.0 925.6,-51.1 C922.6,-51.2 919.6,-51.2 916.6,-51.3 C913.6,-51.4 910.6,-51.4 907.6,-51.5 C904.6,-51.6 901.6,-51.7 898.6,-51.7 C895.6,-51.7 892.6,-51.7 889.6,-51.7 C886.6,-51.7 883.6,-51.7 880.6,-51.7 C877.6,-51.7 874.6,-51.6 871.6,-51.5 C868.6,-51.4 865.6,-51.4 862.6,-51.3 C859.6,-51.2 856.4,-51.1 853.6,-51.0 C850.8,-50.9 848.4,-50.8 845.6,-50.6 C842.8,-50.4 839.6,-50.2 836.6,-50.0 C833.6,-49.8 830.6,-49.6 827.6,-49.4 C824.6,-49.2 821.6,-48.9 818.6,-48.6 C815.6,-48.3 812.7,-48.0 809.7,-47.6 C806.7,-47.2 803.8,-46.9 800.8,-46.5 C797.8,-46.1 794.8,-45.8 791.8,-45.3 C788.8,-44.8 786.0,-44.3 783.0,-43.8 C780.0,-43.3 777.1,-42.7 774.1,-42.1 C771.1,-41.5 768.2,-40.9 765.3,-40.2 C762.4,-39.5 759.5,-38.8 756.6,-38.0 C753.7,-37.2 750.8,-36.5 747.9,-35.6 C745.0,-34.8 742.1,-33.9 739.3,-32.9 C736.5,-31.9 733.7,-31.0 730.9,-29.9 C728.1,-28.8 725.2,-27.7 722.5,-26.5 C719.8,-25.3 717.1,-24.1 714.4,-22.7 C711.7,-21.3 709.1,-19.9 706.5,-18.4 C703.9,-16.9 701.3,-15.4 698.8,-13.7 C696.3,-12.0 694.0,-10.2 691.6,-8.4 C689.2,-6.6 686.9,-4.6 684.7,-2.6 C682.5,-0.6 680.4,1.5 678.4,3.7 C676.4,5.9 674.5,8.2 672.6,10.6 C670.8,12.9 669.0,15.3 667.3,17.8 C665.6,20.3 664.1,22.9 662.6,25.5 C661.1,28.1 659.6,30.7 658.3,33.4 C656.9,36.1 655.7,38.8 654.5,41.5 C653.3,44.2 652.2,47.1 651.1,49.9 C650.0,52.7 649.1,55.5 648.1,58.3 C647.1,61.1 646.2,64.0 645.4,66.9 C644.5,69.8 643.8,72.7 643.0,75.6 C642.2,78.5 641.5,81.4 640.8,84.3 C640.1,87.2 639.5,90.1 638.9,93.1 C638.3,96.0 637.7,99.0 637.2,102.0 C636.7,105.0 636.2,107.8 635.7,110.8 C635.2,113.8 634.9,116.8 634.5,119.8 C634.1,122.8 633.8,125.7 633.4,128.7 C633.0,131.7 632.7,134.6 632.4,137.6 C632.1,140.6 631.8,143.6 631.6,146.6 C631.4,149.6 631.2,152.6 631.0,155.6 C630.8,158.6 630.6,161.8 630.4,164.6 C630.2,167.4 630.1,169.8 630.0,172.6 C629.9,175.4 629.8,178.6 629.7,181.6 C629.6,184.6 629.6,187.6 629.5,190.6 C629.4,193.6 629.3,196.6 629.3,199.6 C629.3,202.6 629.3,205.6 629.3,208.6 C629.3,211.6 629.3,214.6 629.3,217.6 C629.3,220.6 629.4,223.6 629.5,226.6 C629.6,229.6 629.6,232.6 629.7,235.6 C629.8,238.6 629.8,241.6 629.9,244.6 C630.0,247.6 630.2,250.6 630.3,253.6 C630.4,256.6 630.6,259.6 630.7,262.6 C630.8,265.6 630.9,268.6 631.1,271.6 C631.3,274.6 631.5,277.6 631.7,280.6 C631.9,283.6 632.0,286.6 632.2,289.6 C632.4,292.6 632.7,295.6 632.9,298.6 C633.1,301.6 633.3,304.6 633.5,307.6 C633.7,310.6 634.0,313.6 634.3,316.6 C634.5,319.6 634.8,322.5 635.0,325.5 C635.2,328.5 635.5,331.5 635.8,334.5 C636.1,337.5 636.4,340.5 636.7,343.5 C637.0,346.5 637.3,349.5 637.6,352.5 C637.9,355.5 638.2,358.4 638.5,361.4 C638.8,364.4 639.1,367.4 639.4,370.4 C639.7,373.4 640.1,376.3 640.4,379.3 C640.7,382.3 641.0,385.3 641.4,388.3 C641.8,391.3 642.1,394.2 642.5,397.2 C642.9,400.2 643.2,403.2 643.6,406.2 C644.0,409.2 644.3,412.1 644.7,415.1 C645.1,418.1 645.4,421.1 645.8,424.1 C646.2,427.1 646.5,430.0 646.9,433.0 C647.3,436.0 647.7,438.9 648.1,441.9 C648.5,444.9 648.9,447.9 649.3,450.9 C649.7,453.9 650.1,456.8 650.5,459.8 C650.9,462.8 651.3,465.7 651.7,468.7 C652.1,471.7 652.6,474.6 653.0,477.6 C653.4,480.6 653.8,483.6 654.2,486.6 C654.6,489.6 655.1,492.5 655.5,495.5 C655.9,498.5 656.4,501.4 656.8,504.4 C657.2,507.4 657.7,510.3 658.1,513.3 C658.5,516.3 659.0,519.4 659.4,522.2 C659.8,525.0 660.1,527.3 660.5,530.1 C660.9,532.9 661.4,536.1 661.8,539.1 C662.2,542.1 662.6,545.0 663.1,548.0 C663.6,551.0 664.0,553.9 664.5,556.9 C665.0,559.9 665.4,562.8 665.8,565.8 C666.2,568.8 666.7,571.7 667.1,574.7 C667.5,577.7 668.0,580.6 668.4,583.6 C668.8,586.6 669.2,589.6 669.6,592.6 C670.0,595.6 670.5,598.5 670.9,601.5 C671.3,604.5 671.7,607.4 672.1,610.4 C672.5,613.4 672.9,616.3 673.3,619.3 C673.7,622.3 674.1,625.3 674.5,628.3 C674.9,631.3 675.3,634.2 675.7,637.2 C676.1,640.2 676.4,643.1 676.7,646.1 C677.1,649.1 677.5,652.1 677.8,655.1 C678.1,658.1 678.4,661.1 678.7,664.1 C679.0,667.1 679.3,670.0 679.5,673.0 C679.7,676.0 679.9,679.0 680.1,682.0 C680.3,685.0 680.5,688.0 680.6,691.0 C680.8,694.0 680.9,698.5 681.0,700.0 C682.3,700.7 686.3,702.8 689.0,704.2 C691.7,705.6 694.3,707.1 697.0,708.5 C699.7,709.9 702.4,711.4 705.0,712.8 C707.6,714.2 710.2,715.6 712.9,717.0 C715.5,718.4 718.2,719.9 720.9,721.3 C723.6,722.7 726.2,724.2 728.9,725.6 C731.5,727.0 734.1,728.5 736.8,729.9 C739.4,731.3 742.1,732.8 744.8,734.2 C747.5,735.6 750.1,737.1 752.8,738.5 C755.5,739.9 758.1,741.4 760.8,742.8 C763.4,744.2 766.1,745.6 768.7,747.0 C771.4,748.4 774.0,749.9 776.7,751.3 C779.4,752.7 782.0,754.2 784.7,755.6 C787.4,757.0 790.0,758.4 792.7,759.8 C795.4,761.2 798.0,762.7 800.7,764.1 C803.4,765.5 805.9,766.8 808.7,768.3 C811.5,769.8 814.8,771.5 817.6,773.0 C820.4,774.5 822.9,775.8 825.6,777.2 C828.3,778.6 830.9,780.0 833.6,781.4 C836.3,782.8 838.9,784.2 841.6,785.6 C844.3,787.0 846.9,788.4 849.6,789.8 C852.3,791.2 855.0,792.5 857.7,793.9 C860.4,795.3 863.1,796.6 865.8,798.0 C868.5,799.4 871.1,800.8 873.8,802.1 C876.5,803.5 879.3,804.8 882.0,806.1 C884.7,807.4 887.4,808.8 890.1,810.0 C892.8,811.2 895.6,812.5 898.4,813.6 C901.2,814.7 904.1,815.9 906.7,816.6 C909.4,817.3 912.2,817.9 914.3,817.6 C916.3,817.3 918.2,816.4 919.0,814.9 C919.8,813.4 919.6,810.9 919.3,808.5 C919.0,806.1 917.4,801.9 917.0,800.6 C918.4,799.9 922.4,797.9 925.1,796.5 C927.8,795.1 930.5,793.8 933.2,792.5 C935.9,791.2 938.6,789.9 941.4,788.6 C944.2,787.4 947.0,786.1 949.8,785.0 C952.6,783.9 955.4,782.8 958.2,781.7 C961.0,780.7 963.8,779.7 966.8,778.7 C969.8,777.7 973.3,776.5 976.4,775.6 C979.5,774.7 982.2,773.9 985.1,773.1 C988.0,772.3 991.0,771.6 993.9,771.0 C996.8,770.4 999.8,770.0 1002.8,769.6 C1005.8,769.2 1008.9,769.0 1011.9,768.9 C1014.9,768.8 1017.9,768.8 1020.9,768.8 C1023.9,768.8 1028.5,769.0 1030.0,769.0 C1031.0,767.9 1034.1,764.5 1036.2,762.4 C1038.3,760.2 1040.5,758.3 1042.8,756.1 C1045.1,753.9 1047.9,751.5 1050.3,749.4 C1052.7,747.3 1054.9,745.4 1057.1,743.4 C1059.3,741.4 1061.5,739.2 1063.7,737.1 C1065.9,735.0 1068.0,732.9 1070.1,730.7 C1072.2,728.6 1074.2,726.5 1076.5,724.2 C1078.8,722.0 1081.4,719.4 1083.8,717.2 C1086.2,715.1 1088.3,713.2 1090.7,711.3 C1093.1,709.4 1095.5,707.6 1097.9,705.8 C1100.4,704.0 1102.8,702.4 1105.4,700.6 C1108.0,698.8 1111.1,696.7 1113.7,694.9 C1116.3,693.1 1118.8,691.5 1121.3,689.9 C1123.8,688.2 1127.7,685.8 1129.0,685.0 C1171.0,685.0 1339.0,685.0 1381.0,685.0 Z" fill="#dcdddd"/><path d="M934.0,234.4 C935.2,233.5 938.8,230.8 941.3,229.2 C943.8,227.6 946.4,226.2 949.1,224.9 C951.8,223.6 954.6,222.5 957.4,221.5 C960.2,220.5 963.1,219.6 966.0,218.8 C968.9,218.0 971.8,217.2 974.7,216.5 C977.6,215.8 980.6,215.1 983.5,214.5 C986.4,213.9 989.3,213.4 992.3,212.8 C995.2,212.2 998.2,211.7 1001.2,211.2 C1004.2,210.7 1007.3,210.3 1010.1,210.0 C1012.9,209.7 1015.3,209.4 1018.1,209.1 C1020.9,208.8 1024.0,208.6 1027.0,208.4 C1030.0,208.2 1033.1,208.1 1036.1,208.0 C1039.1,207.9 1042.1,207.8 1045.1,207.7 C1048.1,207.6 1051.1,207.4 1054.1,207.3 C1057.1,207.2 1060.1,207.0 1063.1,206.9 C1066.1,206.8 1069.1,206.8 1072.1,206.7 C1075.1,206.6 1078.1,206.6 1081.1,206.6 C1084.1,206.6 1087.1,206.7 1090.1,206.9 C1093.1,207.1 1096.1,207.3 1099.1,207.6 C1102.1,207.9 1105.0,208.3 1108.0,208.8 C1111.0,209.3 1113.9,209.9 1116.8,210.6 C1119.7,211.3 1122.6,212.1 1125.5,213.0 C1128.4,213.9 1131.2,214.8 1134.0,215.9 C1136.8,217.0 1139.6,218.2 1142.3,219.4 C1145.0,220.7 1147.8,222.0 1150.4,223.4 C1153.0,224.8 1155.6,226.3 1158.1,227.9 C1160.6,229.5 1163.2,231.2 1165.6,232.9 C1168.0,234.6 1170.4,236.4 1172.7,238.3 C1175.0,240.2 1177.4,242.4 1179.5,244.3 C1181.6,246.2 1183.3,247.8 1185.3,249.8 C1187.3,251.8 1189.5,254.1 1191.5,256.3 C1193.5,258.5 1195.6,260.8 1197.5,263.1 C1199.4,265.4 1201.3,267.7 1203.1,270.1 C1204.9,272.5 1206.8,274.9 1208.5,277.3 C1210.2,279.8 1211.9,282.3 1213.6,284.8 C1215.2,287.3 1216.9,289.8 1218.4,292.4 C1220.0,295.0 1221.5,297.6 1222.9,300.2 C1224.4,302.8 1225.8,305.4 1227.1,308.1 C1228.4,310.8 1229.7,313.6 1231.0,316.3 C1232.3,319.0 1233.5,321.7 1234.7,324.5 C1235.9,327.3 1237.0,330.1 1238.0,332.9 C1239.0,335.7 1240.1,338.5 1240.9,341.4 C1241.8,344.3 1242.5,347.2 1243.1,350.1 C1243.7,353.0 1244.3,355.9 1244.6,358.9 C1244.9,361.9 1245.1,364.9 1245.1,367.9 C1245.1,370.9 1245.0,373.9 1244.8,376.9 C1244.6,379.9 1244.2,382.9 1243.7,385.8 C1243.2,388.8 1242.6,391.7 1242.0,394.6 C1241.4,397.5 1240.6,400.6 1239.9,403.4 C1239.2,406.1 1238.6,408.4 1237.8,411.1 C1237.0,413.8 1236.1,416.8 1235.2,419.7 C1234.3,422.6 1233.3,425.4 1232.3,428.3 C1231.3,431.2 1230.3,434.0 1229.3,436.8 C1228.3,439.6 1227.2,442.4 1226.1,445.2 C1225.0,448.0 1223.9,450.8 1222.8,453.6 C1221.7,456.4 1220.5,459.1 1219.4,461.9 C1218.3,464.7 1217.3,467.6 1216.2,470.4 C1215.1,473.2 1214.2,476.0 1213.0,478.8 C1211.8,481.6 1210.6,484.3 1209.3,487.0 C1208.0,489.7 1206.6,492.3 1205.1,494.9 C1203.6,497.5 1202.1,500.1 1200.5,502.6 C1198.9,505.1 1197.2,507.7 1195.4,510.1 C1193.6,512.5 1191.8,514.8 1189.8,517.1 C1187.8,519.4 1185.8,521.5 1183.7,523.7 C1181.6,525.9 1179.4,528.0 1177.3,530.1 C1175.2,532.2 1173.0,534.2 1170.9,536.3 C1168.8,538.4 1166.6,540.6 1164.6,542.8 C1162.6,545.0 1160.7,547.3 1158.9,549.7 C1157.1,552.1 1155.2,554.7 1153.6,557.0 C1152.0,559.3 1150.7,561.3 1149.2,563.7 C1147.7,566.1 1146.0,568.8 1144.5,571.4 C1143.0,574.0 1141.4,576.5 1139.9,579.1 C1138.4,581.7 1137.0,584.4 1135.5,587.0 C1134.0,589.6 1132.6,592.2 1131.2,594.9 C1129.8,597.6 1128.5,600.3 1127.2,603.0 C1125.9,605.7 1124.6,608.4 1123.3,611.1 C1122.0,613.8 1120.8,616.6 1119.6,619.4 C1118.4,622.2 1117.2,624.9 1116.1,627.7 C1114.9,630.5 1113.3,634.6 1112.7,636.0 C1111.3,636.4 1107.0,637.8 1104.1,638.5 C1101.2,639.2 1098.3,640.0 1095.4,640.3 C1092.5,640.5 1089.6,640.6 1086.9,640.0 C1084.2,639.4 1081.6,638.3 1079.3,636.8 C1077.0,635.3 1074.9,633.1 1072.9,631.0 C1070.9,628.9 1069.2,626.2 1067.5,623.9 C1065.8,621.6 1064.6,619.6 1063.0,617.2 C1061.4,614.9 1059.8,612.2 1058.0,609.8 C1056.2,607.4 1054.4,605.0 1052.5,602.7 C1050.6,600.4 1048.5,598.2 1046.4,596.1 C1044.3,594.0 1042.0,592.1 1039.7,590.2 C1037.4,588.3 1034.9,586.5 1032.7,584.6 C1030.5,582.7 1028.3,580.8 1026.8,578.7 C1025.3,576.6 1024.3,574.4 1023.7,572.2 C1023.1,570.1 1023.6,567.6 1023.0,565.8 C1022.4,563.9 1021.7,562.2 1020.1,561.1 C1018.5,560.0 1015.8,559.4 1013.3,559.0 C1010.8,558.6 1007.7,558.7 1004.8,558.9 C1001.9,559.1 998.7,559.6 995.9,560.1 C993.1,560.6 990.8,561.1 988.0,561.7 C985.2,562.3 982.1,563.0 979.2,563.6 C976.3,564.2 973.3,564.9 970.4,565.6 C967.5,566.3 964.5,567.0 961.6,567.6 C958.7,568.2 955.7,568.9 952.8,569.5 C949.9,570.1 947.0,570.8 944.0,571.3 C941.0,571.8 938.1,572.3 935.1,572.8 C932.1,573.3 929.2,573.8 926.2,574.1 C923.2,574.5 920.2,574.7 917.2,574.9 C914.2,575.1 911.2,575.3 908.2,575.3 C905.2,575.3 902.2,575.2 899.2,575.0 C896.2,574.8 893.3,574.4 890.4,573.8 C887.5,573.2 884.4,572.4 881.8,571.4 C879.2,570.4 877.0,569.5 874.7,568.0 C872.4,566.5 869.9,564.7 867.8,562.7 C865.7,560.7 863.8,558.4 862.2,556.0 C860.6,553.6 859.3,550.8 858.2,548.1 C857.1,545.4 856.2,542.5 855.4,539.6 C854.6,536.7 854.0,533.7 853.5,530.8 C853.0,527.9 852.5,525.0 852.1,522.0 C851.7,519.0 851.4,516.0 851.1,513.0 C850.8,510.0 850.6,507.0 850.4,504.0 C850.2,501.0 850.1,498.0 850.0,495.0 C849.9,492.0 849.8,489.0 849.8,486.0 C849.8,483.0 849.7,480.0 849.7,477.0 C849.7,474.0 849.7,470.9 849.7,468.0 C849.7,465.1 849.8,462.8 849.9,459.9 C850.0,457.0 850.0,453.9 850.1,450.9 C850.2,447.9 850.4,444.9 850.5,441.9 C850.6,438.9 850.8,435.9 850.9,432.9 C851.0,429.9 851.2,426.9 851.4,423.9 C851.6,420.9 851.7,417.9 851.9,414.9 C852.1,411.9 852.3,408.9 852.5,405.9 C852.7,402.9 852.9,399.9 853.1,396.9 C853.3,393.9 853.6,390.9 853.8,387.9 C854.0,384.9 854.3,381.9 854.5,378.9 C854.7,375.9 855.0,372.9 855.2,369.9 C855.5,366.9 855.8,363.9 856.0,360.9 C856.2,357.9 856.5,354.8 856.7,352.0 C856.9,349.2 857.2,346.8 857.4,344.0 C857.6,341.2 857.9,338.0 858.1,335.0 C858.4,332.0 858.6,329.0 858.9,326.0 C859.1,323.0 859.4,320.0 859.6,317.0 C859.8,314.0 860.0,311.0 860.2,308.0 C860.4,305.0 860.5,302.0 860.6,299.0 C860.7,296.0 860.9,291.5 861.0,290.0 C862.5,289.6 867.0,288.3 869.8,287.5 C872.6,286.7 874.9,286.2 877.6,285.3 C880.3,284.4 883.5,283.5 886.2,282.4 C888.9,281.3 891.6,280.1 893.9,278.5 C896.2,276.9 898.0,274.6 899.8,272.7 C901.5,270.8 902.6,268.9 904.4,266.8 C906.1,264.7 908.2,262.4 910.3,260.3 C912.4,258.2 914.8,256.4 917.0,254.3 C919.2,252.2 921.5,250.1 923.5,248.0 C925.5,245.9 927.0,244.1 928.7,241.8 C930.5,239.5 933.1,235.6 934.0,234.4 Z" fill="#c9c9ca"/><path d="M934.0,234.4 C935.2,233.5 938.8,230.8 941.3,229.2 C943.8,227.6 946.4,226.2 949.1,224.9 C951.8,223.6 954.6,222.5 957.4,221.5 C960.2,220.5 963.2,219.6 966.1,218.8 C969.0,218.0 971.9,217.2 974.8,216.5 C977.7,215.8 980.6,215.1 983.6,214.5 C986.6,213.9 989.5,213.2 992.5,212.7 C995.5,212.1 998.4,211.7 1001.4,211.2 C1004.4,210.7 1007.3,210.3 1010.3,209.9 C1013.3,209.5 1016.3,209.2 1019.3,209.0 C1022.3,208.8 1025.3,208.6 1028.3,208.4 C1031.3,208.2 1034.3,208.1 1037.3,208.0 C1040.3,207.9 1043.4,207.7 1046.4,207.6 C1049.4,207.5 1052.4,207.3 1055.4,207.2 C1058.4,207.1 1061.4,207.0 1064.4,206.9 C1067.4,206.8 1070.5,206.7 1073.5,206.6 C1076.5,206.5 1079.5,206.5 1082.5,206.6 C1085.5,206.7 1088.5,206.8 1091.5,207.0 C1094.5,207.2 1097.5,207.4 1100.5,207.7 C1103.5,208.0 1106.4,208.4 1109.4,209.0 C1112.4,209.6 1115.4,210.3 1118.3,211.0 C1121.2,211.7 1124.1,212.5 1126.9,213.4 C1129.8,214.3 1132.6,215.4 1135.4,216.5 C1138.2,217.6 1141.0,218.7 1143.7,220.0 C1146.4,221.3 1149.2,222.7 1151.8,224.1 C1154.4,225.5 1157.0,227.1 1159.5,228.7 C1162.0,230.3 1164.5,232.0 1166.9,233.8 C1169.3,235.6 1171.7,237.5 1174.0,239.4 C1176.3,241.3 1178.6,243.3 1180.8,245.4 C1183.0,247.5 1185.1,249.6 1187.2,251.8 C1189.3,254.0 1191.3,256.2 1193.3,258.4 C1195.3,260.6 1197.3,262.9 1199.2,265.2 C1201.1,267.5 1203.0,269.9 1204.8,272.3 C1206.6,274.7 1208.4,277.1 1210.1,279.6 C1211.8,282.1 1213.5,284.6 1215.1,287.1 C1216.7,289.6 1218.4,292.2 1219.9,294.8 C1221.4,297.4 1222.9,300.1 1224.3,302.7 C1225.7,305.3 1227.1,308.0 1228.4,310.7 C1229.7,313.4 1231.1,316.1 1232.3,318.9 C1233.5,321.6 1234.7,324.4 1235.8,327.2 C1236.9,330.0 1238.0,332.8 1239.0,335.7 C1240.0,338.6 1240.9,341.4 1241.7,344.3 C1242.5,347.2 1243.2,350.2 1243.7,353.1 C1244.2,356.1 1244.6,359.0 1244.8,362.0 C1245.0,365.0 1245.0,368.0 1245.0,371.0 C1245.0,374.0 1244.8,378.5 1244.8,380.0 C1244.6,381.7 1243.7,388.3 1243.5,390.0 C1242.1,389.5 1237.8,388.1 1235.0,387.1 C1232.2,386.1 1229.3,385.1 1226.4,384.1 C1223.5,383.1 1220.7,382.2 1217.8,381.3 C1214.9,380.4 1212.1,379.4 1209.2,378.5 C1206.3,377.6 1203.5,376.6 1200.6,375.7 C1197.7,374.8 1194.9,373.9 1192.0,373.0 C1189.1,372.1 1186.2,371.3 1183.3,370.5 C1180.4,369.7 1177.5,368.9 1174.6,368.1 C1171.7,367.4 1168.7,366.7 1165.8,366.0 C1162.9,365.3 1160.0,364.7 1157.0,364.1 C1154.0,363.5 1150.9,362.9 1148.1,362.4 C1145.3,361.9 1143.0,361.4 1140.2,360.9 C1137.4,360.4 1134.3,359.9 1131.3,359.4 C1128.3,358.9 1125.4,358.4 1122.4,358.0 C1119.4,357.6 1116.4,357.1 1113.4,356.7 C1110.4,356.3 1107.5,356.0 1104.5,355.7 C1101.5,355.4 1098.5,355.1 1095.5,354.9 C1092.5,354.7 1089.4,354.6 1086.4,354.5 C1083.4,354.4 1080.4,354.2 1077.4,354.2 C1074.4,354.1 1071.4,354.2 1068.4,354.2 C1065.4,354.2 1062.3,354.3 1059.3,354.4 C1056.3,354.5 1053.3,354.5 1050.3,354.7 C1047.3,354.9 1044.3,355.1 1041.3,355.3 C1038.3,355.6 1035.3,355.9 1032.3,356.2 C1029.3,356.5 1026.3,356.9 1023.3,357.4 C1020.3,357.8 1017.3,358.4 1014.4,358.9 C1011.5,359.4 1008.5,360.0 1005.6,360.6 C1002.7,361.2 999.6,361.9 996.7,362.6 C993.8,363.3 990.9,364.0 988.0,364.9 C985.1,365.8 982.3,366.8 979.5,367.9 C976.7,369.0 973.9,370.1 971.2,371.4 C968.5,372.6 965.8,374.0 963.1,375.4 C960.4,376.8 957.7,378.3 955.2,379.7 C952.8,381.1 950.6,382.2 948.4,383.8 C946.2,385.4 943.8,387.2 941.9,389.0 C940.0,390.8 938.7,392.9 937.0,394.6 C935.3,396.3 933.8,397.9 931.6,399.0 C929.4,400.1 926.7,400.6 924.0,401.0 C921.3,401.4 918.2,401.5 915.2,401.6 C912.2,401.7 909.2,401.7 906.2,401.7 C903.2,401.7 900.1,401.6 897.1,401.6 C894.1,401.6 891.1,401.6 888.1,401.5 C885.1,401.4 882.1,401.4 879.1,401.3 C876.1,401.2 873.0,401.2 870.0,401.1 C867.0,401.1 862.5,401.0 861.0,401.0 C861.0,382.5 861.0,308.5 861.0,290.0 C862.5,289.6 867.0,288.3 869.8,287.5 C872.6,286.7 874.9,286.2 877.6,285.3 C880.3,284.4 883.5,283.5 886.2,282.4 C888.9,281.3 891.6,280.1 893.9,278.5 C896.2,276.9 898.0,274.6 899.8,272.7 C901.5,270.8 902.6,268.9 904.4,266.8 C906.1,264.7 908.2,262.4 910.3,260.3 C912.4,258.2 914.8,256.4 917.0,254.3 C919.2,252.2 921.5,250.1 923.5,248.0 C925.5,245.9 927.0,244.1 928.7,241.8 C930.5,239.5 933.1,235.6 934.0,234.4 Z" fill="#b5b5b6"/><path d="M901.0,497.0 C902.5,497.0 907.1,497.1 910.1,497.0 C913.1,496.9 916.2,496.8 919.2,496.5 C922.2,496.2 925.2,495.9 928.2,495.5 C931.2,495.1 934.2,494.6 937.2,494.4 C940.2,494.2 943.2,494.1 946.2,494.1 C949.2,494.2 952.2,494.4 955.2,494.7 C958.2,495.0 961.2,495.5 964.2,496.1 C967.2,496.7 970.1,497.4 972.9,498.4 C975.7,499.4 978.7,500.6 981.2,501.9 C983.7,503.2 985.7,504.4 987.9,506.1 C990.1,507.8 992.5,510.0 994.5,512.2 C996.5,514.4 998.4,516.7 1000.1,519.2 C1001.8,521.7 1003.3,524.3 1004.7,527.0 C1006.1,529.7 1007.4,532.4 1008.4,535.2 C1009.4,538.0 1010.3,541.0 1011.0,543.9 C1011.7,546.8 1012.2,549.8 1012.6,552.8 C1013.0,555.8 1013.1,558.8 1013.3,561.8 C1013.4,564.8 1013.5,567.9 1013.5,570.9 C1013.5,573.9 1013.5,578.5 1013.5,580.0 C1012.7,581.3 1010.5,585.2 1008.9,587.8 C1007.3,590.4 1005.8,593.0 1004.1,595.4 C1002.4,597.8 1000.7,600.3 998.7,602.3 C996.7,604.3 994.4,606.2 991.9,607.2 C989.4,608.2 986.7,608.7 984.0,608.6 C981.3,608.5 978.5,607.6 975.8,606.6 C973.1,605.6 970.5,604.0 968.0,602.4 C965.5,600.8 963.0,599.0 960.6,597.2 C958.2,595.4 955.8,593.6 953.4,591.7 C951.0,589.8 948.8,588.0 946.4,585.9 C944.0,583.8 941.2,581.4 938.8,579.3 C936.4,577.2 934.3,575.3 932.1,573.2 C929.9,571.1 927.8,569.0 925.6,566.9 C923.5,564.8 921.3,562.7 919.2,560.5 C917.1,558.3 914.9,556.1 912.9,553.9 C910.9,551.7 908.9,549.5 907.0,547.1 C905.1,544.8 903.3,542.3 901.8,539.8 C900.3,537.2 898.9,534.5 898.0,531.8 C897.1,529.0 896.5,526.2 896.3,523.3 C896.1,520.4 896.4,517.4 896.8,514.5 C897.2,511.6 897.9,508.6 898.6,505.7 C899.3,502.8 900.6,498.4 901.0,497.0 Z" fill="#b9b9ba"/><path d="M1081.0,720.0 C1081.5,718.6 1083.1,714.3 1084.1,711.5 C1085.1,708.7 1086.2,705.9 1087.2,703.1 C1088.2,700.3 1089.3,697.4 1090.3,694.6 C1091.3,691.8 1092.4,688.9 1093.4,686.1 C1094.4,683.3 1095.5,680.5 1096.5,677.7 C1097.5,674.9 1098.6,672.0 1099.6,669.2 C1100.6,666.4 1101.7,663.5 1102.7,660.7 C1103.7,657.9 1104.8,655.0 1105.7,652.2 C1106.7,649.4 1107.7,646.6 1108.4,643.9 C1109.1,641.2 1109.6,638.6 1109.9,636.0 C1110.2,633.4 1110.0,631.0 1110.0,628.4 C1110.0,625.8 1109.7,623.0 1109.7,620.2 C1109.8,617.4 1109.9,614.4 1110.3,611.5 C1110.7,608.6 1111.3,605.6 1112.0,602.7 C1112.7,599.8 1113.4,596.9 1114.3,594.0 C1115.2,591.1 1116.2,588.3 1117.3,585.5 C1118.4,582.7 1119.5,580.0 1120.7,577.2 C1121.9,574.5 1123.2,571.7 1124.5,569.0 C1125.8,566.3 1127.2,563.6 1128.5,560.9 C1129.8,558.2 1131.2,555.5 1132.6,552.8 C1133.9,550.1 1135.2,547.5 1136.6,544.8 C1137.9,542.1 1139.4,539.4 1140.7,536.7 C1142.0,534.0 1143.3,531.3 1144.6,528.6 C1145.9,525.9 1147.2,523.2 1148.5,520.5 C1149.8,517.8 1151.0,515.0 1152.3,512.3 C1153.5,509.6 1154.8,506.9 1156.0,504.1 C1157.2,501.4 1158.4,498.6 1159.6,495.8 C1160.8,493.0 1161.9,490.2 1163.0,487.4 C1164.1,484.6 1165.2,481.8 1166.1,479.0 C1167.0,476.2 1167.9,473.3 1168.6,470.4 C1169.3,467.5 1170.0,464.6 1170.5,461.6 C1171.0,458.6 1171.3,455.6 1171.5,452.6 C1171.7,449.6 1171.8,446.7 1171.8,443.7 C1171.8,440.7 1171.7,437.6 1171.3,434.7 C1170.9,431.8 1170.5,429.0 1169.6,426.1 C1168.6,423.2 1167.2,419.8 1165.6,417.2 C1164.0,414.6 1162.1,412.4 1160.1,410.3 C1158.1,408.2 1155.8,406.2 1153.5,404.4 C1151.2,402.6 1148.6,401.0 1146.0,399.6 C1143.4,398.2 1140.6,396.9 1137.8,395.9 C1135.0,394.8 1132.2,394.0 1129.3,393.3 C1126.4,392.6 1123.5,392.1 1120.5,391.8 C1117.5,391.5 1114.6,391.4 1111.6,391.5 C1108.6,391.6 1105.6,391.8 1102.6,392.1 C1099.6,392.4 1096.7,392.8 1093.7,393.2 C1090.7,393.6 1087.7,394.0 1084.7,394.5 C1081.7,395.0 1078.8,395.4 1075.8,396.0 C1072.8,396.6 1069.9,397.2 1067.0,397.8 C1064.1,398.4 1061.1,399.1 1058.2,399.8 C1055.3,400.6 1052.4,401.4 1049.6,402.3 C1046.8,403.2 1043.9,404.2 1041.1,405.3 C1038.3,406.4 1035.6,407.7 1033.0,409.1 C1030.4,410.6 1027.8,412.2 1025.5,414.0 C1023.2,415.8 1021.0,417.9 1019.1,420.1 C1017.2,422.3 1015.5,424.7 1013.9,427.2 C1012.3,429.7 1010.9,432.4 1009.5,435.1 C1008.1,437.8 1007.0,440.5 1005.8,443.3 C1004.6,446.1 1003.5,448.9 1002.5,451.7 C1001.5,454.5 1000.6,457.3 999.7,460.2 C998.8,463.1 997.9,465.9 997.1,468.8 C996.3,471.7 995.5,474.7 994.8,477.6 C994.1,480.5 993.3,483.4 992.7,486.3 C992.1,489.2 991.4,492.1 991.2,494.9 C991.0,497.7 991.1,500.5 991.7,503.2 C992.3,505.9 993.6,508.4 994.9,510.9 C996.2,513.4 998.0,515.9 999.6,518.4 C1001.2,520.9 1002.8,523.5 1004.2,526.1 C1005.6,528.8 1006.9,531.5 1008.0,534.3 C1009.1,537.1 1010.0,539.9 1010.7,542.8 C1011.5,545.7 1012.0,548.6 1012.5,551.6 C1013.0,554.6 1013.3,559.0 1013.5,560.5 C1013.8,562.0 1014.9,566.4 1015.4,569.3 C1015.9,572.2 1016.4,575.1 1016.5,578.1 C1016.6,581.1 1016.4,584.0 1016.0,587.0 C1015.6,590.0 1015.0,592.9 1014.2,595.8 C1013.4,598.7 1012.5,601.5 1011.4,604.3 C1010.3,607.1 1009.0,609.8 1007.7,612.5 C1006.4,615.2 1005.0,617.9 1003.6,620.6 C1002.2,623.3 1000.6,626.0 999.2,628.5 C997.8,631.0 996.6,633.0 995.2,635.5 C993.8,638.0 992.2,640.7 990.7,643.3 C989.2,645.9 987.7,648.6 986.2,651.2 C984.7,653.8 983.2,656.4 981.7,659.0 C980.2,661.6 978.8,664.3 977.4,667.0 C976.0,669.7 974.6,672.3 973.2,675.0 C971.8,677.7 970.5,680.4 969.2,683.1 C967.9,685.8 966.7,688.6 965.6,691.4 C964.5,694.2 963.4,697.1 962.7,699.9 C962.0,702.7 961.3,705.6 961.2,708.4 C961.1,711.2 961.3,714.1 962.3,716.5 C963.3,718.9 965.0,721.1 967.0,722.7 C969.0,724.3 971.7,725.4 974.4,726.3 C977.1,727.2 980.1,727.6 983.1,728.0 C986.1,728.4 989.1,728.5 992.1,728.6 C995.1,728.7 998.3,728.6 1001.1,728.5 C1003.9,728.4 1006.3,728.3 1009.1,728.1 C1011.9,727.9 1015.1,727.7 1018.1,727.4 C1021.1,727.1 1024.1,726.7 1027.1,726.4 C1030.1,726.1 1033.1,725.8 1036.1,725.4 C1039.1,725.0 1042.1,724.6 1045.1,724.2 C1048.1,723.8 1051.0,723.4 1054.0,723.0 C1057.0,722.6 1060.0,722.2 1063.0,721.8 C1066.0,721.4 1069.0,721.1 1072.0,720.8 C1075.0,720.5 1079.5,720.1 1081.0,720.0 Z" fill="#dcdddd"/><g clip-path="url(#pcR)"><rect x="0" y="0" width="1316" height="1197" fill="#d389ab"/><path d="M1001.0,838.0 C999.5,838.0 995.0,838.1 992.0,838.1 C989.0,838.1 985.8,838.1 982.9,838.1 C980.0,838.1 977.8,838.2 974.9,838.2 C972.0,838.2 968.8,838.1 965.8,838.0 C962.8,837.9 959.9,837.8 956.9,837.5 C953.9,837.2 951.0,836.7 948.0,836.3 C945.0,835.9 942.1,835.4 939.1,835.3 C936.1,835.1 933.2,835.2 930.2,835.4 C927.2,835.6 924.1,836.1 921.3,836.6 C918.5,837.1 916.3,837.7 913.6,838.6 C910.9,839.5 908.0,840.8 905.3,842.0 C902.6,843.2 899.9,844.6 897.2,845.9 C894.5,847.2 891.8,848.6 889.1,850.0 C886.4,851.4 883.5,852.8 881.0,854.1 C878.5,855.4 876.3,856.4 873.8,857.7 C871.2,859.0 868.4,860.4 865.7,861.7 C863.0,863.0 860.3,864.4 857.6,865.7 C854.9,867.1 852.2,868.4 849.5,869.8 C846.8,871.1 844.1,872.5 841.4,873.8 C838.7,875.1 836.0,876.5 833.3,877.7 C830.6,879.0 827.6,880.2 825.0,881.3 C822.4,882.4 820.2,883.2 817.5,884.2 C814.8,885.2 811.9,886.3 809.0,887.3 C806.1,888.3 803.2,889.3 800.4,890.3 C797.5,891.3 794.8,892.2 791.9,893.1 C789.0,894.0 786.2,894.9 783.3,895.9 C780.4,896.9 777.4,897.9 774.7,898.9 C772.0,899.9 769.9,900.7 767.2,901.7 C764.6,902.7 761.6,903.9 758.8,905.0 C756.0,906.1 753.2,907.3 750.4,908.4 C747.6,909.5 744.8,910.7 742.0,911.8 C739.2,912.9 736.4,914.1 733.6,915.2 C730.8,916.3 727.8,917.5 725.2,918.5 C722.6,919.5 720.4,920.4 718.0,921.5 C715.6,922.6 713.0,924.0 711.0,925.4 C709.0,926.8 706.8,929.2 706.0,930.0 C705.6,931.4 704.3,935.8 703.4,938.6 C702.5,941.5 701.4,944.3 700.4,947.1 C699.4,949.9 698.2,952.7 697.1,955.5 C696.0,958.3 694.9,961.1 693.7,963.9 C692.6,966.7 691.4,969.4 690.2,972.2 C689.0,975.0 687.9,977.7 686.7,980.5 C685.6,983.3 684.4,986.1 683.3,988.9 C682.2,991.7 681.1,994.5 680.0,997.3 C678.9,1000.1 677.9,1002.9 676.9,1005.7 C675.9,1008.5 674.8,1011.4 673.9,1014.2 C673.0,1017.1 672.1,1019.9 671.2,1022.8 C670.3,1025.7 669.5,1028.6 668.7,1031.5 C668.0,1034.4 667.3,1037.4 666.7,1040.3 C666.1,1043.2 665.5,1046.1 665.1,1049.1 C664.7,1052.1 664.4,1055.1 664.3,1058.1 C664.2,1061.1 664.1,1064.0 664.3,1067.0 C664.5,1070.0 664.8,1072.9 665.5,1075.8 C666.2,1078.7 667.0,1081.6 668.3,1084.2 C669.5,1086.8 671.2,1089.4 673.0,1091.6 C674.8,1093.8 677.0,1095.8 679.3,1097.5 C681.6,1099.2 684.2,1100.6 686.9,1101.9 C689.6,1103.2 692.4,1104.2 695.3,1105.1 C698.1,1106.0 701.1,1106.7 704.0,1107.3 C706.9,1107.9 709.8,1108.4 712.8,1108.9 C715.8,1109.4 718.8,1109.8 721.8,1110.1 C724.8,1110.4 727.8,1110.8 730.8,1111.0 C733.8,1111.2 736.8,1111.4 739.8,1111.6 C742.8,1111.8 745.8,1111.9 748.8,1112.0 C751.8,1112.1 754.8,1112.2 757.8,1112.3 C760.8,1112.4 763.8,1112.5 766.8,1112.5 C769.8,1112.5 772.8,1112.5 775.8,1112.5 C778.8,1112.5 781.8,1112.5 784.8,1112.5 C787.8,1112.5 790.9,1112.4 793.9,1112.3 C796.9,1112.2 799.9,1112.2 802.9,1112.1 C805.9,1112.0 808.9,1111.9 811.9,1111.8 C814.9,1111.7 817.9,1111.6 820.9,1111.5 C823.9,1111.4 826.9,1111.2 829.9,1111.1 C832.9,1110.9 835.9,1110.8 838.9,1110.6 C841.9,1110.4 845.0,1110.3 848.0,1110.1 C851.0,1109.9 854.0,1109.8 857.0,1109.6 C860.0,1109.4 863.0,1109.2 866.0,1109.0 C869.0,1108.8 872.0,1108.6 875.0,1108.4 C878.0,1108.2 881.0,1108.0 884.0,1107.8 C887.0,1107.6 890.0,1107.4 893.0,1107.2 C896.0,1107.0 899.0,1106.7 902.0,1106.5 C905.0,1106.3 908.0,1106.1 911.0,1105.9 C914.0,1105.7 917.0,1105.4 920.0,1105.2 C923.0,1105.0 926.0,1104.7 929.0,1104.5 C932.0,1104.3 935.0,1104.0 938.0,1103.8 C941.0,1103.6 944.0,1103.3 947.0,1103.1 C950.0,1102.9 953.0,1102.6 956.0,1102.4 C959.0,1102.2 962.0,1102.0 965.0,1101.8 C968.0,1101.6 971.0,1101.4 974.0,1101.2 C977.0,1101.0 980.0,1100.9 983.0,1100.7 C986.0,1100.5 989.0,1100.4 992.0,1100.3 C995.0,1100.2 999.5,1100.0 1001.0,1100.0 Z" fill="#c27c9e"/></g></g><path d="M876.0,262.0 C876.5,260.6 877.8,256.3 878.9,253.5 C880.0,250.7 881.1,247.9 882.5,245.3 C883.9,242.7 885.4,240.2 887.1,237.7 C888.8,235.2 890.6,232.8 892.5,230.5 C894.4,228.2 896.4,226.0 898.5,223.9 C900.6,221.8 902.9,219.8 905.3,218.1 C907.7,216.4 910.3,214.8 912.9,213.5 C915.5,212.2 918.3,211.1 921.1,210.0 C923.9,208.9 926.8,208.0 929.7,207.2 C932.6,206.3 935.6,205.6 938.3,204.9 C941.0,204.2 943.3,203.6 946.1,202.9 C948.9,202.2 952.0,201.5 954.9,200.8 C957.8,200.1 960.8,199.5 963.7,198.8 C966.6,198.1 969.5,197.5 972.4,196.8 C975.3,196.2 978.3,195.5 981.3,194.9 C984.2,194.3 987.2,193.7 990.1,193.1 C993.0,192.5 996.0,191.9 998.9,191.3 C1001.8,190.7 1004.8,190.2 1007.8,189.6 C1010.8,189.0 1013.6,188.5 1016.6,188.0 C1019.6,187.5 1022.5,187.0 1025.5,186.6 C1028.5,186.2 1031.5,185.8 1034.5,185.5 C1037.5,185.2 1040.4,185.0 1043.4,184.9 C1046.4,184.8 1049.4,184.7 1052.4,184.7 C1055.4,184.7 1058.4,184.8 1061.4,184.9 C1064.4,185.1 1067.4,185.3 1070.4,185.6 C1073.4,185.9 1076.4,186.2 1079.4,186.5 C1082.4,186.8 1085.3,187.2 1088.3,187.6 C1091.3,188.0 1094.3,188.5 1097.3,188.9 C1100.3,189.3 1103.2,189.7 1106.2,190.2 C1109.2,190.7 1112.0,191.2 1115.0,191.8 C1118.0,192.4 1121.1,193.0 1123.9,193.6 C1126.7,194.2 1129.0,194.7 1131.7,195.4 C1134.4,196.1 1137.4,197.0 1140.3,197.8 C1143.2,198.7 1146.1,199.5 1148.9,200.5 C1151.8,201.5 1154.6,202.5 1157.4,203.6 C1160.2,204.7 1163.0,205.9 1165.7,207.1 C1168.4,208.3 1171.2,209.6 1173.8,211.0 C1176.4,212.4 1179.0,213.9 1181.6,215.4 C1184.2,216.9 1186.7,218.5 1189.2,220.2 C1191.7,221.9 1194.1,223.7 1196.5,225.5 C1198.9,227.3 1201.3,229.2 1203.6,231.1 C1205.9,233.0 1208.1,235.1 1210.3,237.1 C1212.5,239.1 1214.7,241.2 1216.8,243.3 C1218.9,245.4 1221.0,247.7 1223.0,249.9 C1225.0,252.1 1227.0,254.3 1229.0,256.6 C1231.0,258.9 1232.8,261.2 1234.7,263.5 C1236.6,265.8 1238.4,268.2 1240.2,270.6 C1242.0,273.0 1243.7,275.5 1245.4,278.0 C1247.1,280.5 1248.7,283.1 1250.3,285.6 C1251.9,288.2 1253.4,290.7 1254.9,293.3 C1256.4,295.9 1257.9,298.5 1259.4,301.1 C1260.9,303.7 1262.3,306.4 1263.7,309.0 C1265.1,311.6 1266.6,314.5 1267.9,317.0 C1269.2,319.5 1270.2,321.6 1271.4,324.2 C1272.6,326.8 1273.9,329.6 1275.1,332.4 C1276.3,335.1 1277.5,337.9 1278.6,340.7 C1279.7,343.5 1280.6,346.3 1281.6,349.2 C1282.5,352.1 1283.4,354.9 1284.3,357.8 C1285.2,360.7 1286.0,363.6 1286.7,366.5 C1287.4,369.4 1288.1,372.4 1288.7,375.3 C1289.3,378.2 1290.0,381.2 1290.5,384.1 C1291.0,387.1 1291.5,390.0 1291.9,393.0 C1292.3,396.0 1292.6,398.9 1292.8,401.9 C1293.0,404.9 1293.1,407.9 1293.1,410.9 C1293.1,413.9 1293.0,416.9 1292.8,419.9 C1292.6,422.9 1292.3,425.9 1292.0,428.9 C1291.7,431.9 1291.2,434.9 1290.7,437.8 C1290.2,440.8 1289.7,443.7 1289.1,446.6 C1288.5,449.5 1287.9,452.5 1287.2,455.4 C1286.5,458.3 1285.9,461.3 1285.0,464.1 C1284.1,466.9 1283.0,469.7 1281.8,472.4 C1280.6,475.1 1279.1,477.7 1277.6,480.3 C1276.1,482.9 1274.4,485.5 1272.8,488.0 C1271.2,490.5 1269.3,493.1 1267.7,495.4 C1266.1,497.7 1264.8,499.6 1263.1,501.9 C1261.4,504.2 1259.6,506.8 1257.8,509.2 C1256.0,511.6 1254.2,514.0 1252.5,516.5 C1250.8,519.0 1249.0,521.4 1247.3,523.9 C1245.6,526.4 1243.9,528.8 1242.1,531.2 C1240.3,533.6 1238.5,536.1 1236.7,538.5 C1234.9,540.9 1233.1,543.2 1231.2,545.5 C1229.3,547.8 1227.2,550.1 1225.1,552.2 C1223.0,554.3 1220.8,556.3 1218.5,558.1 C1216.2,559.9 1213.6,561.5 1211.0,562.9 C1208.4,564.3 1205.6,565.4 1202.8,566.5 C1200.0,567.6 1197.2,568.5 1194.4,569.5 C1191.6,570.5 1188.7,571.4 1186.0,572.6 C1183.3,573.8 1180.5,575.0 1178.0,576.5 C1175.5,578.0 1173.0,579.8 1170.7,581.7 C1168.5,583.6 1166.4,585.8 1164.5,588.0 C1162.6,590.2 1160.9,592.7 1159.3,595.2 C1157.7,597.7 1156.2,600.4 1154.7,603.0 C1153.2,605.6 1151.9,608.2 1150.5,610.9 C1149.1,613.6 1147.8,616.3 1146.5,619.0 C1145.2,621.7 1143.8,624.4 1142.6,627.1 C1141.3,629.8 1140.1,632.8 1139.0,635.4 C1137.9,638.0 1137.0,640.1 1136.1,642.8 C1135.2,645.5 1134.2,648.5 1133.4,651.4 C1132.6,654.3 1131.8,657.2 1131.4,660.1 C1131.0,663.0 1130.8,666.0 1130.9,668.9 C1131.0,671.8 1131.5,674.6 1132.2,677.5 C1132.9,680.4 1134.0,683.2 1134.9,686.0 C1135.8,688.8 1136.9,691.6 1137.7,694.5 C1138.5,697.4 1139.2,700.3 1139.7,703.2 C1140.2,706.1 1140.5,709.2 1140.4,712.1 C1140.3,715.0 1139.9,717.9 1139.3,720.8 C1138.7,723.6 1137.7,726.5 1136.6,729.2 C1135.5,731.9 1134.0,734.5 1132.5,737.1 C1131.0,739.7 1129.4,742.2 1127.8,744.8 C1126.2,747.3 1124.5,749.8 1122.9,752.4 C1121.3,755.0 1119.8,757.5 1118.2,760.1 C1116.7,762.7 1115.1,765.2 1113.6,767.8 C1112.1,770.4 1110.5,773.0 1109.0,775.6 C1107.5,778.2 1105.9,780.7 1104.4,783.3 C1102.9,785.9 1101.3,788.5 1099.8,791.1 C1098.3,793.7 1096.8,796.3 1095.3,798.9 C1093.8,801.5 1092.1,804.2 1090.7,806.7 C1089.3,809.2 1088.1,811.2 1086.7,813.6 C1085.3,816.0 1083.7,818.8 1082.1,821.3 C1080.5,823.8 1078.9,826.4 1077.2,828.9 C1075.5,831.4 1073.8,833.9 1071.9,836.2 C1070.1,838.6 1068.1,840.8 1066.1,843.0 C1064.1,845.2 1062.1,847.4 1059.9,849.5 C1057.8,851.6 1055.5,853.7 1053.2,855.5 C1050.9,857.3 1048.5,859.0 1045.9,860.5 C1043.4,862.0 1040.6,863.3 1037.9,864.5 C1035.2,865.7 1032.3,866.8 1029.5,867.8 C1026.7,868.8 1022.4,870.1 1021.0,870.6 C1021.7,871.9 1024.2,875.6 1025.4,878.3 C1026.6,880.9 1027.7,883.7 1028.4,886.5 C1029.1,889.3 1029.5,892.4 1029.5,895.3 C1029.5,898.2 1029.2,901.2 1028.7,904.1 C1028.2,907.0 1027.3,909.9 1026.4,912.7 C1025.5,915.5 1024.3,918.3 1023.1,921.0 C1021.9,923.7 1020.6,926.4 1019.2,929.1 C1017.9,931.8 1016.4,934.4 1015.0,937.1 C1013.6,939.8 1012.1,942.5 1010.6,945.1 C1009.1,947.8 1007.7,950.4 1006.3,953.0 C1004.9,955.6 1003.5,958.3 1002.0,960.9 C1000.5,963.5 999.1,966.2 997.6,968.8 C996.1,971.4 994.6,974.0 993.1,976.6 C991.6,979.2 990.0,981.8 988.4,984.3 C986.8,986.8 985.1,989.4 983.3,991.8 C981.5,994.2 979.7,996.6 977.8,998.9 C975.9,1001.2 974.0,1003.5 971.9,1005.7 C969.8,1007.9 967.6,1009.9 965.4,1011.9 C963.2,1013.9 960.9,1015.8 958.5,1017.6 C956.1,1019.4 953.6,1021.1 951.0,1022.6 C948.4,1024.1 945.8,1025.5 943.1,1026.8 C940.4,1028.1 937.6,1029.3 934.8,1030.4 C932.0,1031.5 929.2,1032.5 926.3,1033.3 C923.4,1034.1 920.4,1034.9 917.5,1035.5 C914.6,1036.1 911.5,1036.7 908.7,1037.1 C905.9,1037.5 903.5,1037.8 900.7,1038.0 C897.9,1038.2 894.7,1038.4 891.7,1038.4 C888.7,1038.4 885.7,1038.4 882.7,1038.2 C879.7,1038.0 876.7,1037.8 873.7,1037.5 C870.7,1037.2 867.8,1036.9 864.8,1036.4 C861.8,1036.0 858.8,1035.5 855.9,1034.8 C853.0,1034.1 850.1,1033.4 847.2,1032.5 C844.3,1031.6 841.5,1030.6 838.7,1029.5 C835.9,1028.4 833.1,1027.2 830.4,1026.0 C827.7,1024.8 825.0,1023.5 822.3,1022.1 C819.6,1020.7 817.0,1019.3 814.4,1017.8 C811.8,1016.3 809.2,1014.8 806.6,1013.2 C804.0,1011.6 801.5,1009.9 799.0,1008.3 C796.5,1006.6 794.0,1005.0 791.5,1003.3 C789.0,1001.6 786.6,999.9 784.1,998.2 C781.6,996.5 779.2,994.7 776.7,993.0 C774.2,991.3 771.7,989.7 769.2,988.1 C766.7,986.5 764.1,984.8 761.5,983.3 C758.9,981.8 756.3,980.3 753.6,978.9 C750.9,977.5 748.2,976.1 745.5,974.9 C742.8,973.7 740.0,972.5 737.2,971.5 C734.4,970.5 731.6,969.5 728.7,968.7 C725.8,967.9 722.9,967.2 719.9,966.6 C716.9,966.0 714.0,965.7 711.0,965.4 C708.0,965.1 705.0,964.9 702.0,964.7 C699.0,964.6 694.5,964.5 693.0,964.5 L693.0,893.5 C694.5,893.3 699.0,892.7 701.9,892.1 C704.8,891.5 707.7,890.9 710.6,890.1 C713.5,889.4 716.4,888.5 719.3,887.6 C722.2,886.8 725.0,885.9 727.9,885.0 C730.8,884.1 733.6,883.2 736.5,882.3 C739.4,881.4 742.2,880.6 745.1,879.7 C748.0,878.8 750.8,877.9 753.7,877.0 C756.6,876.1 759.4,875.1 762.3,874.1 C765.1,873.1 768.1,872.1 770.8,871.2 C773.5,870.3 775.6,869.5 778.3,868.5 C781.0,867.5 783.9,866.5 786.8,865.5 C789.6,864.5 792.5,863.6 795.4,862.7 C798.3,861.8 801.1,860.9 804.0,860.0 C806.9,859.1 809.8,858.3 812.6,857.4 C815.5,856.5 818.3,855.6 821.1,854.6 C823.9,853.6 826.6,852.3 829.2,851.2 C831.8,850.1 834.2,848.9 836.5,847.8 C838.8,846.7 840.8,845.7 843.1,844.6 C845.4,843.5 847.7,842.5 850.2,841.3 C852.7,840.1 855.3,838.9 857.9,837.5 C860.5,836.1 863.2,834.7 865.8,833.2 C868.4,831.7 870.9,830.0 873.4,828.4 C875.9,826.8 878.4,825.1 880.9,823.5 C883.4,821.9 886.0,820.1 888.5,818.5 C891.0,816.9 893.6,815.2 896.1,813.6 C898.6,812.0 901.1,810.4 903.6,808.7 C906.1,807.1 908.6,805.4 911.1,803.7 C913.6,802.0 916.0,800.3 918.4,798.5 C920.8,796.7 923.4,794.8 925.6,793.1 C927.9,791.4 929.7,789.9 931.9,788.1 C934.1,786.3 936.4,784.2 938.6,782.2 C940.8,780.2 943.0,778.0 945.0,775.8 C947.0,773.6 949.0,771.3 950.8,768.9 C952.6,766.5 954.4,764.1 956.0,761.6 C957.6,759.1 959.2,756.5 960.6,753.9 C962.0,751.3 963.2,748.5 964.5,745.8 C965.8,743.1 967.0,740.4 968.2,737.6 C969.4,734.8 970.5,732.0 971.6,729.2 C972.7,726.4 973.8,723.7 974.9,720.9 C976.0,718.1 977.0,715.3 978.1,712.5 C979.2,709.7 980.2,706.8 981.2,704.0 C982.2,701.2 983.1,698.3 984.1,695.5 C985.1,692.7 986.2,689.8 987.2,687.0 C988.2,684.2 989.4,681.4 990.4,678.6 C991.4,675.8 992.4,673.0 993.4,670.1 C994.4,667.2 995.2,664.4 996.1,661.5 C997.0,658.6 997.9,655.8 998.7,652.9 C999.6,650.0 1000.4,646.9 1001.2,644.2 C1002.0,641.5 1002.6,639.2 1003.3,636.5 C1004.0,633.8 1004.7,630.6 1005.3,627.7 C1005.9,624.8 1006.5,621.9 1007.1,618.9 C1007.7,615.9 1008.3,613.0 1008.7,610.0 C1009.1,607.0 1009.5,604.1 1009.7,601.1 C1009.9,598.1 1010.0,595.1 1010.1,592.1 C1010.2,589.1 1010.1,586.1 1010.1,583.1 C1010.1,580.1 1010.0,577.1 1009.9,574.1 C1009.8,571.1 1009.7,568.1 1009.3,565.2 C1008.9,562.3 1008.4,559.3 1007.5,556.5 C1006.6,553.7 1005.5,550.9 1004.1,548.4 C1002.7,545.9 1000.9,543.5 998.9,541.4 C996.9,539.3 994.6,537.4 992.2,535.7 C989.8,534.0 987.2,532.5 984.6,531.1 C982.0,529.8 979.1,528.6 976.3,527.6 C973.5,526.6 970.7,525.7 967.8,524.9 C964.9,524.1 962.0,523.5 959.0,522.9 C956.0,522.3 953.1,521.9 950.1,521.4 C947.1,520.9 944.2,520.7 941.3,520.1 C938.4,519.5 935.3,518.9 932.8,517.9 C930.3,516.9 928.2,516.0 926.1,514.4 C924.0,512.8 921.8,510.6 920.3,508.3 C918.8,506.0 917.8,503.2 916.8,500.5 C915.8,497.8 915.2,494.9 914.5,492.0 C913.8,489.1 913.0,486.2 912.3,483.3 C911.6,480.4 910.9,477.4 910.2,474.5 C909.5,471.6 908.9,468.6 908.3,465.7 C907.7,462.8 907.2,459.8 906.7,456.9 C906.2,453.9 905.8,451.0 905.3,448.0 C904.8,445.0 904.4,442.1 903.9,439.1 C903.4,436.1 903.0,433.1 902.5,430.1 C902.0,427.1 901.6,424.2 901.2,421.2 C900.8,418.2 900.3,415.3 899.9,412.3 C899.5,409.3 899.0,406.4 898.6,403.4 C898.2,400.4 897.8,397.5 897.4,394.5 C897.0,391.5 896.5,388.5 896.1,385.5 C895.7,382.5 895.3,379.6 894.9,376.6 C894.5,373.6 894.0,370.7 893.6,367.7 C893.2,364.7 892.7,361.8 892.3,358.8 C891.9,355.8 891.4,352.7 891.0,349.9 C890.6,347.1 890.2,344.7 889.7,341.9 C889.2,339.1 888.8,335.9 888.3,333.0 C887.8,330.1 887.3,327.1 886.8,324.2 C886.3,321.2 885.8,318.3 885.3,315.3 C884.8,312.3 884.3,309.4 883.8,306.4 C883.3,303.4 882.8,300.5 882.3,297.5 C881.8,294.5 881.3,291.6 880.8,288.6 C880.3,285.6 879.7,282.6 879.2,279.7 C878.7,276.8 878.1,273.8 877.6,270.9 C877.1,267.9 876.3,263.5 876.0,262.0 Z" fill="none" stroke="#231815" stroke-width="5.6" stroke-linejoin="round"/><path d="M934.0,234.4 C935.2,233.5 938.8,230.8 941.3,229.2 C943.8,227.6 946.4,226.2 949.1,224.9 C951.8,223.6 954.6,222.5 957.4,221.5 C960.2,220.5 963.1,219.6 966.0,218.8 C968.9,218.0 971.8,217.2 974.7,216.5 C977.6,215.8 980.6,215.1 983.5,214.5 C986.4,213.9 989.3,213.4 992.3,212.8 C995.2,212.2 998.2,211.7 1001.2,211.2 C1004.2,210.7 1007.3,210.3 1010.1,210.0 C1012.9,209.7 1015.3,209.4 1018.1,209.1 C1020.9,208.8 1024.0,208.6 1027.0,208.4 C1030.0,208.2 1033.1,208.1 1036.1,208.0 C1039.1,207.9 1042.1,207.8 1045.1,207.7 C1048.1,207.6 1051.1,207.4 1054.1,207.3 C1057.1,207.2 1060.1,207.0 1063.1,206.9 C1066.1,206.8 1069.1,206.8 1072.1,206.7 C1075.1,206.6 1078.1,206.6 1081.1,206.6 C1084.1,206.6 1087.1,206.7 1090.1,206.9 C1093.1,207.1 1096.1,207.3 1099.1,207.6 C1102.1,207.9 1105.0,208.3 1108.0,208.8 C1111.0,209.3 1113.9,209.9 1116.8,210.6 C1119.7,211.3 1122.6,212.1 1125.5,213.0 C1128.4,213.9 1131.2,214.8 1134.0,215.9 C1136.8,217.0 1139.6,218.2 1142.3,219.4 C1145.0,220.7 1147.8,222.0 1150.4,223.4 C1153.0,224.8 1155.6,226.3 1158.1,227.9 C1160.6,229.5 1163.2,231.2 1165.6,232.9 C1168.0,234.6 1170.4,236.4 1172.7,238.3 C1175.0,240.2 1177.4,242.4 1179.5,244.3 C1181.6,246.2 1183.3,247.8 1185.3,249.8 C1187.3,251.8 1189.5,254.1 1191.5,256.3 C1193.5,258.5 1195.6,260.8 1197.5,263.1 C1199.4,265.4 1201.3,267.7 1203.1,270.1 C1204.9,272.5 1206.8,274.9 1208.5,277.3 C1210.2,279.8 1211.9,282.3 1213.6,284.8 C1215.2,287.3 1216.9,289.8 1218.4,292.4 C1220.0,295.0 1221.5,297.6 1222.9,300.2 C1224.4,302.8 1225.8,305.4 1227.1,308.1 C1228.4,310.8 1229.7,313.6 1231.0,316.3 C1232.3,319.0 1233.5,321.7 1234.7,324.5 C1235.9,327.3 1237.0,330.1 1238.0,332.9 C1239.0,335.7 1240.1,338.5 1240.9,341.4 C1241.8,344.3 1242.5,347.2 1243.1,350.1 C1243.7,353.0 1244.3,355.9 1244.6,358.9 C1244.9,361.9 1245.1,364.9 1245.1,367.9 C1245.1,370.9 1245.0,373.9 1244.8,376.9 C1244.6,379.9 1244.2,382.9 1243.7,385.8 C1243.2,388.8 1242.6,391.7 1242.0,394.6 C1241.4,397.5 1240.6,400.6 1239.9,403.4 C1239.2,406.1 1238.6,408.4 1237.8,411.1 C1237.0,413.8 1236.1,416.8 1235.2,419.7 C1234.3,422.6 1233.3,425.4 1232.3,428.3 C1231.3,431.2 1230.3,434.0 1229.3,436.8 C1228.3,439.6 1227.2,442.4 1226.1,445.2 C1225.0,448.0 1223.9,450.8 1222.8,453.6 C1221.7,456.4 1220.5,459.1 1219.4,461.9 C1218.3,464.7 1217.3,467.6 1216.2,470.4 C1215.1,473.2 1214.2,476.0 1213.0,478.8 C1211.8,481.6 1210.6,484.3 1209.3,487.0 C1208.0,489.7 1206.6,492.3 1205.1,494.9 C1203.6,497.5 1202.1,500.1 1200.5,502.6 C1198.9,505.1 1197.2,507.7 1195.4,510.1 C1193.6,512.5 1191.8,514.8 1189.8,517.1 C1187.8,519.4 1185.8,521.5 1183.7,523.7 C1181.6,525.9 1179.4,528.0 1177.3,530.1 C1175.2,532.2 1173.0,534.2 1170.9,536.3 C1168.8,538.4 1166.6,540.6 1164.6,542.8 C1162.6,545.0 1160.7,547.3 1158.9,549.7 C1157.1,552.1 1155.2,554.7 1153.6,557.0 C1152.0,559.3 1150.7,561.3 1149.2,563.7 C1147.7,566.1 1146.0,568.8 1144.5,571.4 C1143.0,574.0 1141.4,576.5 1139.9,579.1 C1138.4,581.7 1137.0,584.4 1135.5,587.0 C1134.0,589.6 1132.6,592.2 1131.2,594.9 C1129.8,597.6 1128.5,600.3 1127.2,603.0 C1125.9,605.7 1124.6,608.4 1123.3,611.1 C1122.0,613.8 1120.8,616.6 1119.6,619.4 C1118.4,622.2 1117.2,624.9 1116.1,627.7 C1114.9,630.5 1113.3,634.6 1112.7,636.0" fill="none" stroke="#231815" stroke-width="5.6" stroke-linecap="butt"/><path d="M1115.0,694.0 C1113.8,694.9 1110.0,697.4 1107.5,699.1 C1105.0,700.8 1102.5,702.5 1100.1,704.3 C1097.6,706.0 1095.2,707.8 1092.8,709.6 C1090.4,711.5 1088.2,713.4 1085.9,715.4 C1083.6,717.4 1081.4,719.4 1079.2,721.5 C1077.0,723.6 1074.9,725.8 1072.8,727.9 C1070.7,730.0 1068.6,732.3 1066.5,734.4 C1064.4,736.5 1062.1,738.7 1060.0,740.6 C1057.9,742.5 1056.2,744.1 1054.1,746.0 C1052.0,747.9 1049.5,750.0 1047.3,752.0 C1045.1,754.0 1042.8,756.0 1040.7,758.2 C1038.6,760.4 1036.7,762.6 1034.9,765.0 C1033.1,767.4 1031.5,769.9 1029.9,772.5 C1028.4,775.1 1027.0,777.7 1025.6,780.4 C1024.2,783.1 1022.9,785.8 1021.6,788.5 C1020.3,791.2 1019.1,794.0 1017.9,796.8 C1016.7,799.5 1015.5,802.3 1014.2,805.0 C1012.9,807.7 1011.7,810.5 1010.2,813.1 C1008.8,815.7 1007.3,818.4 1005.5,820.7 C1003.7,823.0 1001.7,825.2 999.5,827.1 C997.3,829.0 994.8,830.5 992.2,831.9 C989.6,833.3 986.7,834.4 983.9,835.4 C981.1,836.4 978.0,837.1 975.3,837.8 C972.5,838.5 970.2,838.8 967.4,839.4 C964.6,840.0 961.5,840.5 958.6,841.2 C955.7,841.9 952.8,842.6 949.9,843.5 C947.0,844.4 944.2,845.4 941.4,846.5 C938.6,847.6 935.9,848.9 933.1,850.1 C930.4,851.4 927.6,852.7 924.9,854.0 C922.2,855.3 919.6,856.7 916.9,858.1 C914.2,859.5 911.5,861.0 908.9,862.4 C906.2,863.8 902.3,866.1 901.0,866.8" fill="none" stroke="#231815" stroke-width="5.6" stroke-linecap="butt"/><path d="M943.8,849.7 C946.1,850.9 947.5,854.0 948.8,856.6 C950.0,859.2 950.7,862.3 951.3,865.2 C951.9,868.1 952.1,871.1 952.2,874.1 C952.3,877.1 952.2,880.1 952.0,883.1 C951.8,886.1 951.5,889.1 950.8,892.0 C950.1,894.9 949.2,897.8 948.0,900.5 C946.8,903.2 945.3,905.9 943.8,908.5 C942.3,911.1 940.6,913.5 938.9,916.0 C937.2,918.5 935.3,920.8 933.5,923.2 C931.7,925.6 929.8,928.0 927.9,930.3 C926.0,932.6 924.2,935.1 922.1,937.2 C920.0,939.3 917.7,941.3 915.2,942.8 C912.7,944.3 909.9,945.3 906.9,946.1 C903.9,946.9 900.1,947.2 897.0,947.5 C893.9,947.8 891.0,947.7 888.0,947.7 C885.0,947.7 882.0,947.7 879.0,947.5 C876.0,947.3 873.0,947.1 870.0,946.7 C867.0,946.3 864.0,945.8 861.1,945.2 C858.2,944.6 855.3,943.8 852.4,942.9 C849.5,942.0 846.6,941.1 843.9,939.9 C841.1,938.7 838.5,937.4 835.9,935.9 C833.3,934.4 830.6,932.8 828.3,931.0 C825.9,929.2 823.3,927.2 821.8,924.9 C820.3,922.6 818.8,919.7 819.1,917.3 C819.4,914.9 821.7,912.5 823.7,910.5 C825.7,908.5 828.4,907.0 831.0,905.2 C833.6,903.4 836.7,901.5 839.4,899.8 C842.1,898.1 844.5,896.7 847.1,895.1 C849.7,893.5 852.2,892.0 854.8,890.4 C857.4,888.8 859.9,887.2 862.5,885.7 C865.1,884.2 867.7,882.7 870.3,881.2 C872.9,879.7 875.6,878.2 878.2,876.7 C880.8,875.2 883.5,873.8 886.1,872.4 C888.8,871.0 891.4,869.7 894.1,868.3 C896.8,866.9 899.4,865.6 902.1,864.2 C904.8,862.8 907.5,861.4 910.2,860.1 C912.9,858.8 915.6,857.5 918.3,856.2 C921.0,854.9 923.8,853.6 926.5,852.4 C929.2,851.2 931.9,849.7 934.8,849.2 C937.7,848.8 941.5,848.5 943.8,849.7 Z" fill="#fff" stroke="#231815" stroke-width="5.6" stroke-linejoin="round"/><path d="M649.0,750.7 C648.2,752.0 645.1,755.6 644.1,758.3 C643.1,761.0 642.0,764.3 642.8,766.8 C643.6,769.3 646.6,771.4 649.0,773.1 C651.4,774.8 654.5,775.6 657.1,777.1 C659.7,778.6 662.9,779.8 664.8,781.9 C666.7,784.0 667.9,786.9 668.7,789.7 C669.5,792.5 668.9,795.9 669.5,798.7 C670.1,801.5 670.8,803.8 672.1,806.3 C673.4,808.8 675.6,811.2 677.1,813.8 C678.6,816.4 680.0,819.0 680.9,821.8 C681.8,824.6 682.0,827.8 682.8,830.7 C683.5,833.6 684.2,836.5 685.4,839.3 C686.5,842.1 688.1,844.7 689.7,847.3 C691.3,849.9 692.8,854.0 694.8,854.7 C696.8,855.4 699.6,853.5 701.4,851.6 C703.1,849.7 704.0,846.1 705.3,843.4 C706.5,840.6 707.9,837.9 708.9,835.1 C709.9,832.3 710.3,829.2 711.2,826.4 C712.1,823.5 712.9,820.7 714.2,818.0 C715.5,815.3 717.8,813.0 719.2,810.4 C720.6,807.8 722.0,804.9 722.8,802.2 C723.6,799.5 723.8,797.1 724.1,794.3 C724.5,791.5 723.8,787.9 724.9,785.3 C726.0,782.7 728.6,780.6 731.0,778.9 C733.4,777.2 736.6,776.6 739.2,775.1 C741.8,773.6 744.9,772.2 746.7,770.1 C748.5,768.0 750.1,764.9 750.0,762.3 C749.9,759.6 747.7,756.9 746.3,754.2 C744.9,751.6 742.4,747.7 741.6,746.4 C740.2,746.9 735.8,748.6 733.1,749.6 C730.4,750.6 728.2,751.5 725.5,752.4 C722.8,753.3 719.6,754.3 716.8,755.0 C714.0,755.7 711.7,756.1 708.9,756.6 C706.1,757.1 702.8,757.5 699.9,757.7 C697.0,757.9 694.7,758.1 691.8,758.0 C688.9,757.9 685.6,757.5 682.7,757.2 C679.9,756.9 677.5,756.5 674.7,756.0 C671.9,755.5 668.6,755.0 665.8,754.5 C663.0,754.0 660.7,753.4 657.9,752.8 C655.1,752.2 650.5,751.1 649.0,750.7 Z" fill="#c9c9ca" stroke="#231815" stroke-width="5.6" stroke-linejoin="round"/><line x1="679" y1="784.7" x2="724" y2="784.7" stroke="#231815" stroke-width="5.3999999999999995"/><line x1="683.8" y1="801" x2="722.5" y2="800" stroke="#231815" stroke-width="5.3999999999999995"/><line x1="688.7" y1="817.3" x2="714" y2="816.3" stroke="#231815" stroke-width="5.3999999999999995"/><line x1="690.5" y1="833" x2="709.5" y2="832.7" stroke="#231815" stroke-width="5.3999999999999995"/><clipPath id="sacclip"><path d="M500.7,257.0 C502.1,256.3 506.0,253.8 508.8,252.8 C511.6,251.8 514.6,251.2 517.8,251.2 C521.0,251.2 524.8,251.7 527.8,252.7 C530.8,253.7 533.2,255.5 535.6,257.4 C538.0,259.3 539.8,261.7 541.9,264.0 C544.0,266.3 547.0,269.8 548.0,271.0 C549.0,269.9 552.0,266.4 554.0,264.2 C556.0,262.0 558.1,259.7 560.3,257.6 C562.5,255.5 564.8,253.6 567.2,251.8 C569.6,250.0 572.2,248.4 574.9,247.0 C577.6,245.6 580.4,244.5 583.3,243.6 C586.2,242.7 589.4,242.2 592.2,241.8 C595.0,241.4 597.5,240.9 600.2,241.3 C602.9,241.7 606.1,242.6 608.6,244.0 C611.1,245.4 613.3,247.8 615.3,250.0 C617.3,252.2 619.2,254.7 620.8,257.2 C622.4,259.7 623.8,262.5 625.1,265.2 C626.4,267.9 627.6,270.7 628.8,273.5 C629.9,276.3 631.5,280.6 632.0,282.0 C633.2,281.1 636.6,278.2 639.0,276.3 C641.4,274.4 643.7,272.5 646.1,270.6 C648.5,268.7 650.8,266.8 653.2,264.9 C655.6,263.0 658.0,261.2 660.3,259.3 C662.6,257.4 664.9,255.6 667.2,253.4 C669.6,251.2 672.2,248.7 674.4,246.3 C676.5,244.0 678.4,241.8 680.1,239.3 C681.8,236.8 683.3,234.2 684.6,231.5 C685.9,228.8 686.8,225.8 688.1,223.1 C689.4,220.4 690.4,216.6 692.2,215.2 C694.0,213.8 696.9,213.6 698.8,214.8 C700.7,216.0 701.9,219.8 703.4,222.4 C704.9,225.0 706.1,227.7 707.7,230.3 C709.3,232.9 711.0,235.5 712.8,237.9 C714.6,240.3 716.5,242.5 718.6,244.8 C720.7,247.2 723.3,249.8 725.6,252.0 C727.9,254.2 730.0,256.2 732.2,258.3 C734.4,260.4 736.7,262.4 739.0,264.3 C741.3,266.2 743.7,268.1 746.1,270.0 C748.5,271.9 750.9,273.7 753.3,275.5 C755.7,277.3 759.3,280.1 760.5,281.0 C761.0,279.6 762.5,275.2 763.6,272.4 C764.7,269.6 765.8,266.8 767.0,264.0 C768.2,261.2 769.7,258.4 771.1,255.9 C772.5,253.5 773.7,251.3 775.6,249.3 C777.5,247.3 780.0,245.0 782.6,243.7 C785.2,242.4 788.3,241.6 791.2,241.3 C794.1,241.0 797.3,241.3 800.2,241.9 C803.1,242.5 806.0,243.7 808.7,245.0 C811.4,246.3 814.1,247.9 816.5,249.5 C818.9,251.1 820.8,252.5 823.0,254.3 C825.2,256.1 827.4,258.4 829.8,260.3 C832.1,262.2 834.6,264.0 837.1,265.8 C839.6,267.6 843.3,270.1 844.5,271.0 C845.2,269.7 847.1,265.5 848.8,263.1 C850.5,260.7 852.4,258.2 854.7,256.4 C857.0,254.6 859.8,253.3 862.6,252.4 C865.4,251.5 868.6,251.1 871.5,251.1 C874.4,251.1 877.6,251.4 880.2,252.5 C882.9,253.6 885.2,255.7 887.4,257.7 C889.6,259.7 891.3,262.3 893.2,264.6 C895.1,266.9 897.0,269.3 898.8,271.7 C900.6,274.1 902.4,276.5 904.2,278.9 C906.0,281.3 907.8,283.8 909.5,286.2 C911.2,288.6 913.0,291.0 914.7,293.5 C916.4,296.0 918.1,298.5 919.7,301.1 C921.3,303.7 922.8,306.3 924.2,308.9 C925.7,311.5 927.1,314.2 928.4,316.9 C929.7,319.6 930.9,322.3 932.0,325.1 C933.1,327.9 934.2,330.8 935.0,333.7 C935.8,336.6 936.5,339.4 937.0,342.4 C937.5,345.3 937.9,348.4 938.3,351.4 C938.7,354.4 938.9,357.3 939.2,360.3 C939.5,363.3 939.9,366.3 940.2,369.3 C940.6,372.3 940.8,375.2 941.3,378.2 C941.8,381.2 942.2,384.2 942.9,387.1 C943.6,390.0 944.5,392.9 945.4,395.8 C946.3,398.7 947.3,401.5 948.2,404.4 C949.1,407.3 949.9,410.2 950.6,413.1 C951.3,416.0 952.0,418.9 952.5,421.9 C953.0,424.8 953.2,427.8 953.3,430.8 C953.3,433.8 953.4,436.9 952.8,439.8 C952.2,442.7 950.8,445.3 949.5,448.0 C948.2,450.7 946.6,453.2 945.1,455.9 C943.6,458.5 942.2,461.2 940.8,463.9 C939.4,466.5 938.0,469.2 936.5,471.8 C935.0,474.4 933.5,477.0 932.0,479.6 C930.5,482.2 929.0,484.8 927.4,487.4 C925.8,490.0 924.4,492.4 922.6,495.0 C920.8,497.6 918.6,500.5 916.5,502.9 C914.4,505.3 912.2,507.2 910.1,509.3 C908.0,511.4 905.8,513.4 903.6,515.5 C901.4,517.6 899.1,519.6 897.0,521.7 C894.9,523.8 892.7,525.8 890.7,528.1 C888.7,530.4 887.0,532.8 885.2,535.3 C883.5,537.8 881.9,540.3 880.2,542.8 C878.6,545.3 876.9,547.8 875.3,550.3 C873.6,552.8 872.0,555.3 870.3,557.8 C868.6,560.3 866.9,562.9 865.3,565.4 C863.7,567.9 862.0,570.4 860.5,573.0 C859.0,575.6 857.6,578.2 856.2,580.9 C854.8,583.6 853.5,586.3 852.2,589.0 C850.9,591.7 849.6,594.4 848.2,597.1 C846.8,599.8 845.4,602.5 844.0,605.1 C842.6,607.8 841.0,610.4 839.6,613.0 C838.2,615.6 836.8,618.3 835.5,621.0 C834.2,623.7 833.0,626.5 831.8,629.2 C830.6,632.0 829.3,634.8 828.1,637.5 C826.9,640.2 825.6,643.0 824.4,645.7 C823.1,648.4 821.9,651.2 820.6,653.9 C819.3,656.6 817.8,659.1 816.4,661.8 C815.0,664.4 813.5,667.1 812.2,669.8 C810.9,672.5 810.2,675.5 808.7,678.1 C807.2,680.7 805.5,683.2 803.3,685.1 C801.1,687.0 798.3,688.3 795.6,689.6 C792.9,690.9 790.1,692.1 787.3,693.1 C784.5,694.1 781.5,694.9 778.6,695.5 C775.7,696.1 772.6,696.3 769.7,697.0 C766.8,697.7 763.9,698.5 761.2,699.8 C758.5,701.0 755.9,702.6 753.6,704.5 C751.3,706.4 749.3,708.7 747.6,711.1 C745.9,713.5 744.5,716.2 743.3,719.0 C742.1,721.8 741.2,724.7 740.6,727.6 C740.0,730.5 739.9,733.5 739.9,736.5 C739.9,739.5 740.6,744.0 740.8,745.5 C739.4,746.1 735.3,748.1 732.5,749.3 C729.7,750.5 727.0,751.8 724.0,752.9 C721.0,754.0 717.4,755.1 714.3,755.8 C711.2,756.5 708.2,756.9 705.2,757.3 C702.2,757.6 699.2,757.8 696.1,757.9 C693.0,758.0 690.0,757.8 686.9,757.6 C683.8,757.4 681.0,757.0 677.8,756.5 C674.6,756.0 670.9,755.4 667.7,754.8 C664.5,754.1 661.8,753.4 658.8,752.6 C655.8,751.8 651.5,750.4 650.0,750.0 C650.3,748.5 651.5,744.2 651.8,741.2 C652.1,738.2 652.0,735.2 651.6,732.2 C651.2,729.2 650.6,726.3 649.7,723.4 C648.9,720.5 647.9,717.6 646.5,715.0 C645.1,712.4 643.4,709.9 641.5,707.6 C639.6,705.4 637.4,703.1 634.9,701.5 C632.4,699.9 629.6,698.8 626.8,697.8 C624.0,696.8 621.0,696.5 618.1,695.8 C615.2,695.1 612.2,694.5 609.3,693.6 C606.4,692.7 603.6,691.9 600.9,690.6 C598.2,689.3 595.7,687.5 593.2,685.8 C590.8,684.1 588.4,682.2 586.2,680.2 C584.0,678.2 581.8,676.1 579.8,673.9 C577.8,671.7 575.8,669.3 574.0,666.9 C572.2,664.5 570.5,662.0 568.9,659.5 C567.3,657.0 565.8,654.3 564.6,651.6 C563.4,648.9 562.5,645.9 561.5,643.1 C560.5,640.3 559.5,637.5 558.4,634.7 C557.3,631.9 556.2,629.1 555.1,626.3 C554.0,623.5 552.9,620.7 551.7,617.9 C550.5,615.1 549.3,612.4 548.1,609.6 C546.9,606.8 545.8,604.0 544.6,601.3 C543.4,598.5 542.3,595.8 541.0,593.1 C539.7,590.4 538.5,587.6 537.0,585.0 C535.5,582.4 534.0,579.8 532.2,577.4 C530.4,575.0 528.2,572.9 526.4,570.5 C524.6,568.1 522.9,565.7 521.2,563.2 C519.5,560.7 518.0,558.1 516.4,555.5 C514.8,552.9 513.3,550.3 511.8,547.7 C510.3,545.1 508.8,542.5 507.3,539.9 C505.8,537.3 504.4,534.6 503.0,532.0 C501.6,529.4 500.4,526.8 498.6,524.2 C496.8,521.6 494.4,518.8 492.3,516.4 C490.2,514.0 488.1,512.2 485.9,510.1 C483.7,508.0 481.5,506.0 479.3,503.9 C477.1,501.8 474.8,499.9 472.8,497.7 C470.9,495.4 469.1,493.0 467.6,490.4 C466.2,487.8 465.2,484.9 464.1,482.1 C463.0,479.3 461.9,476.5 460.7,473.7 C459.5,470.9 458.3,468.2 457.2,465.4 C456.1,462.6 454.9,459.9 453.8,457.1 C452.7,454.3 451.5,451.5 450.3,448.7 C449.1,445.9 447.8,443.3 446.7,440.5 C445.6,437.7 444.6,434.8 443.9,431.9 C443.2,429.0 442.6,426.1 442.3,423.1 C442.0,420.1 441.9,417.0 442.3,414.1 C442.8,411.2 444.0,408.4 445.0,405.6 C446.0,402.8 447.2,399.9 448.2,397.1 C449.2,394.3 450.3,391.5 451.0,388.6 C451.7,385.7 452.2,382.7 452.5,379.7 C452.8,376.7 452.8,373.7 453.0,370.7 C453.2,367.7 453.3,364.7 453.6,361.7 C453.9,358.7 454.3,355.8 454.7,352.8 C455.1,349.8 455.5,346.8 456.0,343.8 C456.5,340.8 457.1,337.9 457.7,335.0 C458.3,332.1 459.0,329.1 459.8,326.2 C460.6,323.3 461.5,320.5 462.4,317.6 C463.3,314.8 464.3,311.9 465.4,309.1 C466.5,306.3 467.7,303.5 469.2,300.9 C470.7,298.3 472.7,296.1 474.5,293.7 C476.3,291.3 478.4,289.1 480.2,286.7 C482.0,284.3 483.5,281.7 485.2,279.2 C486.9,276.7 488.5,274.1 490.2,271.6 C491.9,269.1 493.6,266.6 495.3,264.2 C497.1,261.8 499.8,258.2 500.7,257.0 Z"/></clipPath><g clip-path="url(#sacclip)"><rect x="430" y="200" width="540" height="570" fill="#dbbfb1"/><path d="M548.0,271.0 C549.0,269.9 552.0,266.4 554.0,264.2 C556.0,262.0 558.1,259.7 560.3,257.6 C562.5,255.5 564.8,253.6 567.2,251.8 C569.6,250.0 572.2,248.4 574.9,247.0 C577.6,245.6 580.4,244.5 583.3,243.6 C586.2,242.7 589.4,242.2 592.2,241.8 C595.0,241.4 597.5,240.9 600.2,241.3 C602.9,241.7 606.1,242.6 608.6,244.0 C611.1,245.4 613.3,247.8 615.3,250.0 C617.3,252.2 619.2,254.7 620.8,257.2 C622.4,259.7 623.8,262.5 625.1,265.2 C626.4,267.9 627.6,270.7 628.8,273.5 C629.9,276.3 631.5,280.6 632.0,282.0 C633.2,281.1 636.6,278.2 639.0,276.3 C641.4,274.4 643.7,272.5 646.1,270.6 C648.5,268.7 650.8,266.8 653.2,264.9 C655.6,263.0 658.0,261.2 660.3,259.3 C662.6,257.4 664.9,255.6 667.2,253.4 C669.6,251.2 672.2,248.7 674.4,246.3 C676.5,244.0 678.4,241.8 680.1,239.3 C681.8,236.8 683.3,234.2 684.6,231.5 C685.9,228.8 686.8,225.8 688.1,223.1 C689.4,220.4 690.4,216.6 692.2,215.2 C694.0,213.8 696.9,213.6 698.8,214.8 C700.7,216.0 701.9,219.8 703.4,222.4 C704.9,225.0 706.1,227.7 707.7,230.3 C709.3,232.9 711.0,235.5 712.8,237.9 C714.6,240.3 716.5,242.5 718.6,244.8 C720.7,247.2 723.3,249.8 725.6,252.0 C727.9,254.2 730.0,256.2 732.2,258.3 C734.4,260.4 736.7,262.4 739.0,264.3 C741.3,266.2 743.7,268.1 746.1,270.0 C748.5,271.9 750.9,273.7 753.3,275.5 C755.7,277.3 759.3,280.1 760.5,281.0 C761.0,279.6 762.5,275.2 763.6,272.4 C764.7,269.6 765.8,266.8 767.0,264.0 C768.2,261.2 769.7,258.4 771.1,255.9 C772.5,253.5 773.7,251.3 775.6,249.3 C777.5,247.3 780.0,245.0 782.6,243.7 C785.2,242.4 788.3,241.6 791.2,241.3 C794.1,241.0 797.3,241.3 800.2,241.9 C803.1,242.5 806.0,243.7 808.7,245.0 C811.4,246.3 814.1,247.9 816.5,249.5 C818.9,251.1 820.8,252.5 823.0,254.3 C825.2,256.1 827.4,258.4 829.8,260.3 C832.1,262.2 834.6,264.0 837.1,265.8 C839.6,267.6 843.3,270.1 844.5,271.0 L844.5,270.0 C843.4,271.1 840.2,274.3 838.0,276.3 C835.8,278.3 833.5,280.4 831.1,282.1 C828.7,283.9 826.1,285.4 823.4,286.8 C820.7,288.2 817.9,289.4 815.1,290.4 C812.3,291.4 809.4,292.2 806.5,293.0 C803.6,293.8 800.6,294.5 797.6,295.0 C794.6,295.5 791.7,295.8 788.7,296.1 C785.7,296.4 782.6,296.6 779.6,296.8 C776.6,297.0 773.6,297.2 770.6,297.3 C767.6,297.4 764.6,297.6 761.6,297.7 C758.6,297.8 755.5,297.8 752.5,297.8 C749.5,297.8 746.5,297.7 743.5,297.6 C740.5,297.5 737.5,297.2 734.5,297.0 C731.5,296.8 728.5,296.6 725.5,296.3 C722.5,296.0 719.5,295.7 716.5,295.4 C713.5,295.1 710.7,294.8 707.5,294.5 C704.3,294.2 700.7,294.0 697.5,293.8 C694.3,293.6 691.4,293.4 688.4,293.3 C685.4,293.2 682.4,293.0 679.4,293.0 C676.4,293.0 673.3,293.1 670.3,293.1 C667.3,293.2 664.3,293.2 661.3,293.3 C658.3,293.4 655.3,293.5 652.3,293.6 C649.3,293.7 646.2,293.8 643.2,293.8 C640.2,293.8 637.2,293.8 634.2,293.7 C631.2,293.6 628.1,293.6 625.1,293.5 C622.1,293.4 619.1,293.3 616.1,293.1 C613.1,292.9 610.1,292.8 607.1,292.5 C604.1,292.2 601.1,292.0 598.1,291.5 C595.1,291.0 592.2,290.4 589.3,289.7 C586.4,289.0 583.4,288.2 580.5,287.4 C577.6,286.5 574.7,285.6 571.9,284.6 C569.1,283.6 566.2,282.5 563.5,281.2 C560.8,279.9 558.2,278.5 555.6,277.0 C553.0,275.5 549.3,272.8 548.0,272.0 Z" fill="#c9b0a3"/><path d="M602.5,292.9 C601.9,294.3 599.7,298.3 599.1,301.2 C598.5,304.1 598.4,307.2 598.7,310.1 C599.0,313.0 600.0,315.9 601.1,318.7 C602.2,321.5 603.6,324.2 605.3,326.7 C606.9,329.2 608.9,331.5 611.0,333.7 C613.1,335.9 615.3,337.8 617.7,339.7 C620.1,341.6 622.7,343.2 625.2,344.8 C627.8,346.4 630.4,347.9 633.0,349.3 C635.6,350.7 638.3,352.1 641.0,353.4 C643.7,354.7 646.5,355.9 649.3,357.0 C652.1,358.1 655.0,359.1 657.9,360.0 C660.8,360.9 663.7,361.5 666.6,362.1 C669.5,362.7 672.5,363.2 675.5,363.7 C678.5,364.2 681.5,364.6 684.5,364.9 C687.5,365.2 690.7,365.4 693.5,365.5 C696.3,365.6 698.7,365.7 701.5,365.6 C704.3,365.6 707.5,365.5 710.5,365.2 C713.5,364.9 716.5,364.5 719.5,364.0 C722.5,363.5 725.4,362.9 728.3,362.2 C731.2,361.5 734.2,360.7 737.1,359.9 C740.0,359.1 742.8,358.2 745.7,357.3 C748.6,356.4 751.5,355.4 754.3,354.3 C757.1,353.2 760.0,352.2 762.7,351.0 C765.5,349.8 768.1,348.5 770.8,347.1 C773.4,345.7 776.1,344.3 778.6,342.6 C781.1,340.9 783.6,339.1 785.8,337.1 C788.0,335.1 790.1,332.8 791.8,330.4 C793.5,328.0 795.0,325.2 796.2,322.5 C797.4,319.8 798.5,316.9 798.9,314.0 C799.3,311.1 799.0,308.0 798.4,305.1 C797.8,302.2 795.6,298.2 795.0,296.8 C793.5,296.8 788.9,296.7 785.9,296.7 C782.9,296.7 779.8,296.8 776.8,296.9 C773.8,297.0 770.8,297.2 767.8,297.4 C764.8,297.5 761.7,297.7 758.7,297.8 C755.7,297.9 752.8,297.9 749.6,297.8 C746.4,297.7 742.7,297.4 739.5,297.2 C736.3,297.0 733.5,296.7 730.5,296.4 C727.5,296.1 724.5,295.9 721.5,295.6 C718.5,295.3 715.4,295.0 712.4,294.8 C709.4,294.6 706.4,294.4 703.4,294.2 C700.4,294.0 697.3,293.8 694.3,293.6 C691.3,293.4 688.2,293.3 685.2,293.2 C682.2,293.1 679.1,293.0 676.1,293.0 C673.1,293.0 670.1,293.0 667.1,293.1 C664.1,293.2 661.2,293.3 658.0,293.4 C654.8,293.5 651.1,293.6 647.9,293.7 C644.7,293.8 641.8,293.8 638.8,293.8 C635.8,293.8 632.7,293.8 629.7,293.7 C626.7,293.6 623.7,293.6 620.7,293.5 C617.7,293.4 614.6,293.3 611.6,293.2 C608.6,293.1 604.0,292.9 602.5,292.9 Z" fill="#c9b0a3"/><path d="M615.0,294.0 C615.0,295.5 614.9,300.1 614.9,303.1 C614.9,306.1 614.8,309.2 615.3,312.1 C615.8,315.1 616.6,318.2 617.6,320.8 C618.6,323.4 619.6,325.6 621.2,327.9 C622.8,330.2 624.8,332.7 627.0,334.7 C629.2,336.7 631.9,338.2 634.5,339.7 C637.1,341.2 640.0,342.4 642.7,343.7 C645.5,344.9 648.2,346.0 651.0,347.2 C653.8,348.4 656.6,349.6 659.4,350.6 C662.2,351.7 665.3,352.7 668.0,353.5 C670.7,354.3 673.0,355.0 675.8,355.6 C678.6,356.2 681.7,356.8 684.7,357.2 C687.7,357.6 690.7,358.0 693.7,358.2 C696.7,358.4 699.7,358.3 702.7,358.2 C705.7,358.1 708.7,357.7 711.7,357.3 C714.7,356.9 717.8,356.2 720.6,355.6 C723.4,355.0 725.7,354.3 728.4,353.5 C731.1,352.7 734.1,351.9 737.0,350.9 C739.9,349.9 742.8,348.9 745.5,347.7 C748.2,346.5 750.9,345.1 753.5,343.6 C756.1,342.1 758.7,340.5 761.3,338.9 C763.9,337.3 766.5,335.8 769.0,334.1 C771.5,332.4 774.1,330.5 776.2,328.6 C778.3,326.7 780.0,325.0 781.7,322.8 C783.4,320.6 785.4,317.9 786.5,315.2 C787.6,312.5 788.2,309.4 788.6,306.5 C789.0,303.6 788.9,299.0 789.0,297.5 C787.5,297.4 783.0,297.0 780.0,296.9 C777.0,296.8 773.9,297.0 770.9,297.1 C767.9,297.2 764.9,297.4 761.9,297.5 C758.9,297.6 756.0,297.8 752.8,297.8 C749.6,297.8 745.9,297.6 742.7,297.5 C739.5,297.4 736.7,297.1 733.7,296.9 C730.7,296.7 727.6,296.5 724.6,296.2 C721.6,295.9 718.6,295.6 715.6,295.3 C712.6,295.0 709.6,294.6 706.6,294.4 C703.6,294.1 700.6,294.0 697.6,293.8 C694.6,293.6 691.5,293.4 688.5,293.3 C685.5,293.2 682.5,293.1 679.5,293.0 C676.5,292.9 673.4,293.0 670.4,293.0 C667.4,293.0 664.5,293.1 661.3,293.2 C658.1,293.3 654.5,293.4 651.3,293.5 C648.1,293.6 645.2,293.6 642.2,293.7 C639.2,293.8 636.1,293.9 633.1,293.9 C630.1,293.9 627.1,293.9 624.1,293.9 C621.1,293.9 616.5,294.0 615.0,294.0 Z" fill="#dbbfb1"/><path d="M574.0,359.0 C572.5,359.4 568.2,360.5 565.3,361.3 C562.4,362.1 559.4,362.9 556.6,363.9 C553.8,364.9 551.0,366.0 548.3,367.2 C545.5,368.4 542.8,369.8 540.1,371.1 C537.4,372.4 534.7,373.8 532.1,375.2 C529.5,376.6 526.9,378.1 524.3,379.7 C521.7,381.3 519.1,383.0 516.7,384.6 C514.3,386.2 512.4,387.5 510.1,389.1 C507.8,390.8 505.2,392.6 502.8,394.5 C500.4,396.4 498.1,398.3 495.9,400.3 C493.7,402.3 491.5,404.4 489.5,406.6 C487.5,408.8 485.6,411.2 483.8,413.6 C482.1,416.0 480.5,418.6 479.0,421.2 C477.5,423.8 476.1,426.5 474.8,429.2 C473.5,431.9 472.1,434.6 471.0,437.4 C469.9,440.2 468.8,443.0 467.9,445.9 C467.0,448.8 466.2,451.7 465.7,454.6 C465.2,457.5 463.9,461.1 464.7,463.4 C465.4,465.7 467.8,467.6 470.2,468.6 C472.6,469.6 476.1,469.2 479.1,469.3 C482.1,469.4 485.1,469.2 488.1,469.0 C491.1,468.8 494.3,468.5 497.1,468.2 C499.9,467.9 502.3,467.5 505.1,467.1 C507.9,466.7 511.0,466.1 514.0,465.7 C517.0,465.3 519.9,464.9 522.9,464.5 C525.9,464.1 528.9,464.0 531.9,463.6 C534.9,463.2 537.8,462.8 540.8,462.3 C543.8,461.8 546.7,461.2 549.6,460.4 C552.5,459.6 555.4,458.6 558.3,457.7 C561.2,456.8 564.0,455.7 566.8,454.7 C569.6,453.7 572.4,452.4 575.2,451.5 C578.1,450.6 581.0,449.7 583.9,449.0 C586.8,448.3 589.7,447.7 592.7,447.3 C595.7,446.9 598.7,446.6 601.7,446.5 C604.7,446.4 607.8,446.3 610.6,447.0 C613.4,447.7 616.5,448.8 618.6,450.6 C620.7,452.4 622.3,455.4 623.3,458.0 C624.3,460.6 624.5,463.1 624.8,465.9 C625.1,468.7 625.0,471.9 624.9,474.9 C624.8,477.9 624.5,480.9 624.3,483.9 C624.1,486.9 623.8,489.8 623.5,492.8 C623.2,495.8 622.8,498.8 622.5,501.8 C622.2,504.8 621.9,507.8 621.6,510.8 C621.3,513.8 621.0,516.8 620.9,519.8 C620.8,522.8 620.7,525.8 620.7,528.8 C620.7,531.8 620.7,534.8 620.7,537.8 C620.8,540.8 620.8,543.8 621.0,546.8 C621.2,549.8 621.4,552.8 621.7,555.8 C622.0,558.8 622.4,561.8 622.8,564.8 C623.2,567.8 623.6,570.7 624.1,573.7 C624.6,576.7 625.0,579.6 625.5,582.6 C626.0,585.6 626.4,588.8 626.8,591.6 C627.2,594.4 627.6,596.7 628.0,599.5 C628.4,602.3 628.9,605.4 629.3,608.4 C629.7,611.4 630.2,614.4 630.6,617.4 C631.0,620.4 631.4,623.3 631.8,626.3 C632.2,629.3 632.6,632.2 633.0,635.2 C633.4,638.2 633.8,641.2 634.2,644.2 C634.6,647.2 635.0,650.1 635.5,653.1 C636.0,656.1 636.8,660.5 637.0,662.0 C642.3,663.0 663.7,667.0 669.0,668.0 C668.9,666.5 668.6,662.0 668.4,659.0 C668.2,656.0 668.0,653.0 667.7,650.0 C667.5,647.0 667.2,644.0 666.9,641.0 C666.6,638.0 666.4,635.0 666.1,632.0 C665.8,629.0 665.6,626.0 665.3,623.0 C665.0,620.0 664.7,617.0 664.4,614.0 C664.1,611.0 663.9,608.1 663.6,605.1 C663.3,602.1 663.0,599.1 662.7,596.1 C662.4,593.1 662.1,590.1 661.8,587.1 C661.5,584.1 661.2,581.1 660.9,578.1 C660.6,575.1 660.4,572.1 660.2,569.1 C660.0,566.1 659.9,563.1 659.8,560.1 C659.7,557.1 659.6,554.1 659.6,551.1 C659.6,548.1 659.6,545.1 659.6,542.1 C659.6,539.1 659.6,536.0 659.6,533.0 C659.6,530.0 659.5,527.0 659.4,524.0 C659.3,521.0 659.3,518.0 659.2,515.0 C659.1,512.0 659.0,509.0 658.9,506.0 C658.8,503.0 658.8,499.9 658.7,496.9 C658.6,493.9 658.5,490.9 658.5,487.9 C658.5,484.9 658.4,481.9 658.4,478.9 C658.4,475.9 658.4,472.9 658.5,469.9 C658.6,466.9 658.5,463.9 658.8,460.9 C659.1,457.9 659.5,454.8 660.1,451.9 C660.7,448.9 661.7,446.1 662.4,443.2 C663.1,440.3 663.9,437.4 664.5,434.5 C665.1,431.6 665.6,428.6 665.9,425.6 C666.2,422.6 666.3,419.5 666.2,416.5 C666.1,413.5 666.0,410.5 665.4,407.6 C664.8,404.7 664.1,401.6 662.8,399.0 C661.5,396.4 659.7,393.9 657.6,391.8 C655.5,389.8 652.8,388.2 650.2,386.7 C647.6,385.2 644.8,384.1 642.0,382.9 C639.2,381.7 636.5,380.5 633.7,379.4 C630.9,378.2 628.1,377.1 625.3,376.0 C622.5,374.9 619.7,373.9 616.9,372.8 C614.1,371.8 611.3,370.7 608.5,369.7 C605.7,368.7 602.9,367.6 600.0,366.6 C597.1,365.6 594.3,364.6 591.4,363.7 C588.5,362.8 585.7,362.0 582.8,361.2 C579.9,360.4 575.5,359.4 574.0,359.0 Z" fill="#b39c90"/><path d="M800.6,359.6 C799.1,359.9 794.7,360.7 791.8,361.5 C788.9,362.3 786.0,363.2 783.2,364.3 C780.4,365.4 777.6,366.7 774.9,368.0 C772.2,369.3 769.5,370.6 766.8,371.9 C764.1,373.2 761.3,374.4 758.5,375.6 C755.7,376.8 752.8,377.9 750.1,378.9 C747.5,379.9 745.2,380.8 742.6,381.8 C740.0,382.8 737.0,383.9 734.2,385.0 C731.4,386.1 728.6,387.2 725.9,388.6 C723.2,390.0 720.3,391.2 718.1,393.1 C715.9,395.0 714.1,397.5 712.7,400.1 C711.4,402.7 710.5,405.8 710.0,408.7 C709.5,411.6 709.4,414.6 709.4,417.6 C709.4,420.6 709.7,423.6 710.0,426.6 C710.3,429.6 710.8,432.6 711.3,435.6 C711.8,438.6 712.2,441.5 712.7,444.5 C713.2,447.5 713.7,450.5 714.1,453.5 C714.5,456.5 714.9,459.4 715.2,462.4 C715.5,465.4 715.7,468.4 715.9,471.4 C716.1,474.4 716.2,477.6 716.3,480.5 C716.4,483.4 716.5,485.7 716.5,488.5 C716.5,491.3 716.6,494.5 716.6,497.5 C716.6,500.5 716.7,503.6 716.7,506.6 C716.7,509.6 716.7,512.6 716.6,515.6 C716.5,518.6 716.4,521.7 716.3,524.7 C716.2,527.7 716.0,530.7 715.8,533.7 C715.6,536.7 715.5,539.7 715.3,542.7 C715.1,545.7 714.9,548.7 714.7,551.7 C714.5,554.7 714.3,557.7 714.1,560.7 C713.9,563.7 713.6,566.8 713.4,569.8 C713.2,572.8 713.0,575.8 712.8,578.8 C712.6,581.8 712.4,584.8 712.2,587.8 C712.0,590.8 711.8,593.8 711.6,596.8 C711.4,599.8 711.2,602.9 711.0,605.8 C710.8,608.6 710.7,611.0 710.5,613.9 C710.3,616.8 710.2,619.9 710.0,622.9 C709.8,625.9 709.6,628.9 709.4,631.9 C709.2,634.9 709.1,637.9 708.9,640.9 C708.7,643.9 708.5,647.0 708.3,650.0 C708.1,653.0 707.9,656.0 707.7,659.0 C707.5,662.0 707.1,666.5 707.0,668.0 C712.7,666.7 735.3,661.3 741.0,660.0 C741.3,658.8 742.5,655.5 743.0,652.8 C743.5,650.1 743.5,646.8 743.7,643.8 C743.9,640.8 744.1,637.8 744.3,634.8 C744.5,631.8 744.8,628.8 745.0,625.8 C745.2,622.8 745.5,619.8 745.7,616.8 C746.0,613.8 746.2,610.9 746.5,607.9 C746.8,604.9 747.2,601.9 747.6,598.9 C748.0,595.9 748.6,593.0 749.1,590.0 C749.6,587.0 750.1,584.1 750.6,581.1 C751.1,578.1 751.7,575.0 752.1,572.2 C752.5,569.4 752.9,567.1 753.2,564.3 C753.5,561.5 753.7,558.3 753.9,555.3 C754.1,552.3 754.1,549.3 754.3,546.3 C754.4,543.3 754.6,540.3 754.8,537.3 C755.0,534.3 755.5,531.3 755.7,528.3 C755.9,525.3 756.0,522.3 755.9,519.3 C755.8,516.3 755.3,513.4 754.9,510.4 C754.5,507.4 753.9,504.5 753.5,501.5 C753.1,498.5 752.8,495.5 752.4,492.5 C752.0,489.5 751.7,486.6 751.4,483.6 C751.1,480.6 750.8,477.6 750.5,474.6 C750.2,471.6 749.8,468.6 749.9,465.6 C750.0,462.6 750.0,459.4 751.1,456.8 C752.2,454.2 754.2,451.6 756.5,450.0 C758.8,448.4 762.0,447.9 764.9,447.3 C767.8,446.7 770.9,446.7 773.9,446.6 C776.9,446.6 779.9,446.7 782.9,447.0 C785.9,447.3 788.9,447.7 791.8,448.3 C794.7,448.9 797.8,449.7 800.5,450.6 C803.2,451.5 805.4,452.4 808.0,453.5 C810.6,454.6 813.4,456.2 816.1,457.4 C818.8,458.6 821.6,459.8 824.4,460.8 C827.2,461.9 830.1,462.9 833.0,463.7 C835.9,464.5 838.8,465.1 841.8,465.6 C844.8,466.1 847.7,466.3 850.7,466.6 C853.7,466.9 856.7,467.1 859.7,467.4 C862.7,467.6 865.7,467.9 868.7,468.1 C871.7,468.3 874.7,468.6 877.7,468.8 C880.7,469.0 883.7,469.3 886.7,469.5 C889.7,469.7 892.7,469.9 895.7,469.9 C898.7,469.9 902.2,470.4 904.6,469.4 C907.0,468.4 909.4,466.4 910.1,464.0 C910.8,461.6 909.4,458.2 908.7,455.3 C908.0,452.4 906.8,449.6 905.8,446.8 C904.8,444.0 903.9,441.2 903.0,438.3 C902.1,435.4 901.2,432.5 900.2,429.7 C899.2,426.9 898.1,424.0 896.7,421.4 C895.3,418.8 893.6,416.3 891.7,414.0 C889.8,411.7 887.3,409.6 885.2,407.7 C883.1,405.8 881.3,404.3 879.1,402.5 C876.9,400.7 874.5,398.7 872.1,396.9 C869.7,395.1 867.3,393.3 864.8,391.6 C862.3,389.9 859.8,388.2 857.3,386.6 C854.8,385.0 852.2,383.4 849.6,381.8 C847.0,380.2 844.5,378.7 841.9,377.2 C839.3,375.7 836.6,374.1 834.0,372.7 C831.4,371.3 828.7,369.9 826.0,368.6 C823.3,367.3 820.6,366.1 817.8,365.0 C815.0,363.9 812.2,362.8 809.3,361.9 C806.4,361.0 802.0,360.0 800.6,359.6 Z" fill="#b39c90"/><path d="M559.0,512.0 C559.7,513.4 561.5,517.6 563.1,520.2 C564.7,522.8 566.3,525.3 568.4,527.5 C570.5,529.7 572.9,531.8 575.5,533.2 C578.1,534.6 581.1,535.6 584.0,536.1 C586.9,536.6 590.1,536.9 593.1,536.5 C596.1,536.1 599.0,535.0 601.7,533.7 C604.4,532.4 606.9,530.5 609.2,528.5 C611.5,526.5 613.6,524.2 615.3,521.8 C617.0,519.3 618.5,516.6 619.6,513.8 C620.7,511.0 621.6,506.5 622.0,505.0 C621.1,504.0 618.4,501.1 616.4,499.0 C614.4,496.9 612.1,494.4 609.9,492.6 C607.6,490.9 605.4,489.1 602.9,488.5 C600.4,487.9 597.7,488.3 595.0,489.0 C592.3,489.7 589.2,491.6 586.7,492.9 C584.2,494.2 582.0,495.6 579.7,497.0 C577.4,498.4 575.2,499.8 572.8,501.4 C570.4,503.0 567.7,505.1 565.4,506.9 C563.1,508.7 560.1,511.1 559.0,512.0 Z" fill="#b39c90"/><path d="M753.0,510.0 C753.6,511.4 754.8,516.0 756.4,518.5 C758.0,521.0 760.4,523.1 762.7,525.1 C765.0,527.1 767.7,528.7 770.3,530.3 C772.9,531.9 775.7,533.5 778.5,534.5 C781.3,535.5 784.3,536.5 787.3,536.5 C790.2,536.5 793.5,535.8 796.2,534.6 C798.9,533.4 801.5,531.5 803.7,529.4 C805.9,527.3 807.8,524.7 809.3,522.1 C810.8,519.5 812.4,515.1 813.0,513.7 C811.9,512.7 808.4,509.6 806.1,507.6 C803.8,505.6 801.5,503.5 799.1,501.6 C796.7,499.7 794.3,497.7 791.7,496.1 C789.1,494.5 786.3,493.0 783.5,491.9 C780.7,490.8 777.7,489.8 774.7,489.4 C771.7,489.0 768.5,489.0 765.6,489.8 C762.7,490.6 759.7,492.1 757.5,494.0 C755.3,495.9 753.0,498.3 752.3,501.0 C751.5,503.7 752.9,508.5 753.0,510.0 Z" fill="#b39c90"/><path d="M565.0,562.7 C565.6,564.1 567.0,568.5 568.4,571.2 C569.8,573.9 571.2,576.5 573.2,578.9 C575.2,581.3 578.2,583.7 580.7,585.7 C583.2,587.7 585.6,589.4 588.2,591.0 C590.8,592.6 593.4,594.1 596.1,595.5 C598.8,596.9 601.4,598.2 604.4,599.4 C607.4,600.6 610.8,602.0 613.9,602.8 C617.0,603.6 619.9,604.0 622.9,604.0 C625.9,604.0 630.5,603.2 632.0,603.0 C632.1,601.5 633.1,596.8 632.8,593.9 C632.5,591.0 631.5,587.7 630.1,585.4 C628.7,583.1 626.4,581.7 624.1,579.9 C621.8,578.1 619.1,576.4 616.5,574.8 C613.9,573.2 611.3,571.6 608.6,570.2 C605.9,568.8 603.1,567.2 600.3,566.2 C597.4,565.2 594.3,564.5 591.5,564.1 C588.7,563.7 586.2,564.1 583.3,564.0 C580.4,563.9 577.1,563.7 574.1,563.5 C571.1,563.3 566.5,562.8 565.0,562.7 Z" fill="#b39c90"/><path d="M811.0,562.7 C810.4,564.1 808.9,568.5 807.6,571.2 C806.3,573.9 805.0,576.6 803.1,579.1 C801.2,581.6 798.4,584.3 796.0,586.4 C793.6,588.5 791.2,590.1 788.7,591.8 C786.2,593.5 783.6,595.2 781.0,596.7 C778.4,598.2 775.8,599.7 772.8,600.9 C769.8,602.1 766.2,603.3 763.1,603.8 C760.0,604.3 757.0,604.2 754.0,604.1 C751.0,604.0 746.5,603.2 745.0,603.0 C744.8,601.5 743.8,596.7 744.0,593.9 C744.2,591.1 744.7,588.7 746.2,586.4 C747.7,584.1 750.5,582.1 752.9,580.3 C755.3,578.5 758.1,577.0 760.7,575.5 C763.4,574.0 766.2,572.5 768.8,571.2 C771.4,569.9 773.5,568.8 776.1,567.7 C778.8,566.6 781.8,565.2 784.7,564.6 C787.7,564.0 790.9,564.2 793.8,564.0 C796.7,563.8 799.0,563.7 801.9,563.5 C804.8,563.3 809.5,562.8 811.0,562.7 Z" fill="#b39c90"/><path d="M580.7,627.0 C581.2,628.5 582.2,633.0 583.4,635.8 C584.6,638.6 586.1,641.3 587.8,643.8 C589.5,646.3 591.4,648.7 593.5,650.9 C595.6,653.1 597.8,655.1 600.3,657.1 C602.8,659.1 606.0,661.1 608.8,662.7 C611.6,664.3 614.2,665.5 617.1,666.6 C620.0,667.7 622.9,668.6 625.9,669.1 C628.9,669.6 632.0,669.9 635.0,669.9 C638.0,669.9 641.1,669.7 644.1,669.1 C647.1,668.5 651.4,666.9 652.9,666.4 C651.7,665.5 648.1,662.6 645.7,660.7 C643.3,658.8 640.9,656.8 638.4,655.0 C635.9,653.2 633.3,651.6 630.7,650.0 C628.1,648.4 625.3,647.1 622.6,645.6 C619.9,644.1 617.2,642.6 614.5,641.1 C611.8,639.6 609.3,637.9 606.6,636.5 C603.9,635.1 601.1,633.7 598.3,632.5 C595.5,631.3 592.5,630.4 589.6,629.5 C586.7,628.6 582.2,627.4 580.7,627.0 Z" fill="#b39c90"/><path d="M796.0,627.0 C795.6,628.5 794.7,633.1 793.8,635.8 C792.9,638.5 792.0,640.8 790.6,643.2 C789.2,645.7 787.2,648.2 785.2,650.5 C783.2,652.8 781.0,655.1 778.8,657.0 C776.6,658.9 774.7,660.1 772.2,661.6 C769.8,663.1 766.7,664.6 764.1,665.7 C761.5,666.8 759.2,667.6 756.4,668.3 C753.6,669.0 750.5,669.6 747.5,669.9 C744.5,670.2 741.2,670.2 738.4,669.9 C735.6,669.6 733.2,669.0 730.5,668.2 C727.8,667.4 723.4,665.5 722.0,665.0 C723.1,663.9 726.4,660.7 728.6,658.6 C730.9,656.5 733.0,654.5 735.5,652.5 C738.0,650.5 741.1,648.5 743.9,646.8 C746.7,645.1 749.4,644.0 752.1,642.5 C754.8,641.0 757.3,639.4 760.0,637.9 C762.7,636.4 765.2,634.9 768.2,633.7 C771.2,632.5 774.9,631.6 778.0,630.8 C781.1,630.0 784.0,629.4 787.0,628.8 C790.0,628.2 794.5,627.3 796.0,627.0 Z" fill="#b39c90"/><path d="M539.0,446.0 C540.2,445.1 544.0,442.6 546.5,440.9 C549.0,439.2 551.5,437.5 554.0,435.8 C556.5,434.1 559.0,432.5 561.5,430.9 C564.0,429.2 566.6,427.4 569.0,425.9 C571.4,424.4 573.5,423.2 576.1,422.0 C578.7,420.8 581.6,419.7 584.5,418.9 C587.4,418.1 590.4,417.5 593.4,417.3 C596.4,417.1 599.4,417.1 602.4,417.5 C605.4,417.9 608.3,418.9 611.1,419.9 C613.9,420.9 616.7,422.2 619.4,423.5 C622.1,424.8 624.7,426.2 627.4,427.6 C630.1,429.0 632.8,430.4 635.5,431.7 C638.2,433.0 641.1,434.5 643.6,435.7 C646.1,436.9 648.2,438.0 650.8,439.1 C653.4,440.2 656.4,441.4 659.2,442.4 C662.1,443.4 665.0,444.2 667.9,444.9 C670.8,445.5 673.9,446.1 676.9,446.3 C679.9,446.6 682.9,446.6 685.9,446.4 C688.9,446.2 691.9,445.6 694.8,445.0 C697.7,444.4 700.6,443.5 703.5,442.6 C706.4,441.7 709.3,440.8 712.1,439.8 C714.9,438.8 717.9,437.6 720.5,436.5 C723.1,435.4 725.3,434.6 727.9,433.4 C730.5,432.2 733.4,430.8 736.1,429.4 C738.8,428.0 741.4,426.5 744.1,425.2 C746.8,423.9 749.5,422.6 752.3,421.6 C755.1,420.6 758.1,419.7 761.0,419.0 C763.9,418.3 766.8,417.6 769.8,417.3 C772.8,417.0 775.8,416.8 778.8,417.1 C781.8,417.4 784.8,418.2 787.6,419.1 C790.5,420.0 793.3,421.4 795.9,422.6 C798.5,423.8 800.5,425.1 803.0,426.5 C805.5,427.9 808.2,429.6 810.7,431.2 C813.2,432.8 815.6,434.7 818.1,436.4 C820.6,438.1 823.0,439.9 825.5,441.6 C828.0,443.3 831.8,445.8 833.0,446.6 C784.0,446.5 588.0,446.1 539.0,446.0 Z" fill="#a18c82"/></g><path d="M500.7,257.0 C502.1,256.3 506.0,253.8 508.8,252.8 C511.6,251.8 514.6,251.2 517.8,251.2 C521.0,251.2 524.8,251.7 527.8,252.7 C530.8,253.7 533.2,255.5 535.6,257.4 C538.0,259.3 539.8,261.7 541.9,264.0 C544.0,266.3 547.0,269.8 548.0,271.0 C549.0,269.9 552.0,266.4 554.0,264.2 C556.0,262.0 558.1,259.7 560.3,257.6 C562.5,255.5 564.8,253.6 567.2,251.8 C569.6,250.0 572.2,248.4 574.9,247.0 C577.6,245.6 580.4,244.5 583.3,243.6 C586.2,242.7 589.4,242.2 592.2,241.8 C595.0,241.4 597.5,240.9 600.2,241.3 C602.9,241.7 606.1,242.6 608.6,244.0 C611.1,245.4 613.3,247.8 615.3,250.0 C617.3,252.2 619.2,254.7 620.8,257.2 C622.4,259.7 623.8,262.5 625.1,265.2 C626.4,267.9 627.6,270.7 628.8,273.5 C629.9,276.3 631.5,280.6 632.0,282.0 C633.2,281.1 636.6,278.2 639.0,276.3 C641.4,274.4 643.7,272.5 646.1,270.6 C648.5,268.7 650.8,266.8 653.2,264.9 C655.6,263.0 658.0,261.2 660.3,259.3 C662.6,257.4 664.9,255.6 667.2,253.4 C669.6,251.2 672.2,248.7 674.4,246.3 C676.5,244.0 678.4,241.8 680.1,239.3 C681.8,236.8 683.3,234.2 684.6,231.5 C685.9,228.8 686.8,225.8 688.1,223.1 C689.4,220.4 690.4,216.6 692.2,215.2 C694.0,213.8 696.9,213.6 698.8,214.8 C700.7,216.0 701.9,219.8 703.4,222.4 C704.9,225.0 706.1,227.7 707.7,230.3 C709.3,232.9 711.0,235.5 712.8,237.9 C714.6,240.3 716.5,242.5 718.6,244.8 C720.7,247.2 723.3,249.8 725.6,252.0 C727.9,254.2 730.0,256.2 732.2,258.3 C734.4,260.4 736.7,262.4 739.0,264.3 C741.3,266.2 743.7,268.1 746.1,270.0 C748.5,271.9 750.9,273.7 753.3,275.5 C755.7,277.3 759.3,280.1 760.5,281.0 C761.0,279.6 762.5,275.2 763.6,272.4 C764.7,269.6 765.8,266.8 767.0,264.0 C768.2,261.2 769.7,258.4 771.1,255.9 C772.5,253.5 773.7,251.3 775.6,249.3 C777.5,247.3 780.0,245.0 782.6,243.7 C785.2,242.4 788.3,241.6 791.2,241.3 C794.1,241.0 797.3,241.3 800.2,241.9 C803.1,242.5 806.0,243.7 808.7,245.0 C811.4,246.3 814.1,247.9 816.5,249.5 C818.9,251.1 820.8,252.5 823.0,254.3 C825.2,256.1 827.4,258.4 829.8,260.3 C832.1,262.2 834.6,264.0 837.1,265.8 C839.6,267.6 843.3,270.1 844.5,271.0 C845.2,269.7 847.1,265.5 848.8,263.1 C850.5,260.7 852.4,258.2 854.7,256.4 C857.0,254.6 859.8,253.3 862.6,252.4 C865.4,251.5 868.6,251.1 871.5,251.1 C874.4,251.1 877.6,251.4 880.2,252.5 C882.9,253.6 885.2,255.7 887.4,257.7 C889.6,259.7 891.3,262.3 893.2,264.6 C895.1,266.9 897.0,269.3 898.8,271.7 C900.6,274.1 902.4,276.5 904.2,278.9 C906.0,281.3 907.8,283.8 909.5,286.2 C911.2,288.6 913.0,291.0 914.7,293.5 C916.4,296.0 918.1,298.5 919.7,301.1 C921.3,303.7 922.8,306.3 924.2,308.9 C925.7,311.5 927.1,314.2 928.4,316.9 C929.7,319.6 930.9,322.3 932.0,325.1 C933.1,327.9 934.2,330.8 935.0,333.7 C935.8,336.6 936.5,339.4 937.0,342.4 C937.5,345.3 937.9,348.4 938.3,351.4 C938.7,354.4 938.9,357.3 939.2,360.3 C939.5,363.3 939.9,366.3 940.2,369.3 C940.6,372.3 940.8,375.2 941.3,378.2 C941.8,381.2 942.2,384.2 942.9,387.1 C943.6,390.0 944.5,392.9 945.4,395.8 C946.3,398.7 947.3,401.5 948.2,404.4 C949.1,407.3 949.9,410.2 950.6,413.1 C951.3,416.0 952.0,418.9 952.5,421.9 C953.0,424.8 953.2,427.8 953.3,430.8 C953.3,433.8 953.4,436.9 952.8,439.8 C952.2,442.7 950.8,445.3 949.5,448.0 C948.2,450.7 946.6,453.2 945.1,455.9 C943.6,458.5 942.2,461.2 940.8,463.9 C939.4,466.5 938.0,469.2 936.5,471.8 C935.0,474.4 933.5,477.0 932.0,479.6 C930.5,482.2 929.0,484.8 927.4,487.4 C925.8,490.0 924.4,492.4 922.6,495.0 C920.8,497.6 918.6,500.5 916.5,502.9 C914.4,505.3 912.2,507.2 910.1,509.3 C908.0,511.4 905.8,513.4 903.6,515.5 C901.4,517.6 899.1,519.6 897.0,521.7 C894.9,523.8 892.7,525.8 890.7,528.1 C888.7,530.4 887.0,532.8 885.2,535.3 C883.5,537.8 881.9,540.3 880.2,542.8 C878.6,545.3 876.9,547.8 875.3,550.3 C873.6,552.8 872.0,555.3 870.3,557.8 C868.6,560.3 866.9,562.9 865.3,565.4 C863.7,567.9 862.0,570.4 860.5,573.0 C859.0,575.6 857.6,578.2 856.2,580.9 C854.8,583.6 853.5,586.3 852.2,589.0 C850.9,591.7 849.6,594.4 848.2,597.1 C846.8,599.8 845.4,602.5 844.0,605.1 C842.6,607.8 841.0,610.4 839.6,613.0 C838.2,615.6 836.8,618.3 835.5,621.0 C834.2,623.7 833.0,626.5 831.8,629.2 C830.6,632.0 829.3,634.8 828.1,637.5 C826.9,640.2 825.6,643.0 824.4,645.7 C823.1,648.4 821.9,651.2 820.6,653.9 C819.3,656.6 817.8,659.1 816.4,661.8 C815.0,664.4 813.5,667.1 812.2,669.8 C810.9,672.5 810.2,675.5 808.7,678.1 C807.2,680.7 805.5,683.2 803.3,685.1 C801.1,687.0 798.3,688.3 795.6,689.6 C792.9,690.9 790.1,692.1 787.3,693.1 C784.5,694.1 781.5,694.9 778.6,695.5 C775.7,696.1 772.6,696.3 769.7,697.0 C766.8,697.7 763.9,698.5 761.2,699.8 C758.5,701.0 755.9,702.6 753.6,704.5 C751.3,706.4 749.3,708.7 747.6,711.1 C745.9,713.5 744.5,716.2 743.3,719.0 C742.1,721.8 741.2,724.7 740.6,727.6 C740.0,730.5 739.9,733.5 739.9,736.5 C739.9,739.5 740.6,744.0 740.8,745.5 C739.4,746.1 735.3,748.1 732.5,749.3 C729.7,750.5 727.0,751.8 724.0,752.9 C721.0,754.0 717.4,755.1 714.3,755.8 C711.2,756.5 708.2,756.9 705.2,757.3 C702.2,757.6 699.2,757.8 696.1,757.9 C693.0,758.0 690.0,757.8 686.9,757.6 C683.8,757.4 681.0,757.0 677.8,756.5 C674.6,756.0 670.9,755.4 667.7,754.8 C664.5,754.1 661.8,753.4 658.8,752.6 C655.8,751.8 651.5,750.4 650.0,750.0 C650.3,748.5 651.5,744.2 651.8,741.2 C652.1,738.2 652.0,735.2 651.6,732.2 C651.2,729.2 650.6,726.3 649.7,723.4 C648.9,720.5 647.9,717.6 646.5,715.0 C645.1,712.4 643.4,709.9 641.5,707.6 C639.6,705.4 637.4,703.1 634.9,701.5 C632.4,699.9 629.6,698.8 626.8,697.8 C624.0,696.8 621.0,696.5 618.1,695.8 C615.2,695.1 612.2,694.5 609.3,693.6 C606.4,692.7 603.6,691.9 600.9,690.6 C598.2,689.3 595.7,687.5 593.2,685.8 C590.8,684.1 588.4,682.2 586.2,680.2 C584.0,678.2 581.8,676.1 579.8,673.9 C577.8,671.7 575.8,669.3 574.0,666.9 C572.2,664.5 570.5,662.0 568.9,659.5 C567.3,657.0 565.8,654.3 564.6,651.6 C563.4,648.9 562.5,645.9 561.5,643.1 C560.5,640.3 559.5,637.5 558.4,634.7 C557.3,631.9 556.2,629.1 555.1,626.3 C554.0,623.5 552.9,620.7 551.7,617.9 C550.5,615.1 549.3,612.4 548.1,609.6 C546.9,606.8 545.8,604.0 544.6,601.3 C543.4,598.5 542.3,595.8 541.0,593.1 C539.7,590.4 538.5,587.6 537.0,585.0 C535.5,582.4 534.0,579.8 532.2,577.4 C530.4,575.0 528.2,572.9 526.4,570.5 C524.6,568.1 522.9,565.7 521.2,563.2 C519.5,560.7 518.0,558.1 516.4,555.5 C514.8,552.9 513.3,550.3 511.8,547.7 C510.3,545.1 508.8,542.5 507.3,539.9 C505.8,537.3 504.4,534.6 503.0,532.0 C501.6,529.4 500.4,526.8 498.6,524.2 C496.8,521.6 494.4,518.8 492.3,516.4 C490.2,514.0 488.1,512.2 485.9,510.1 C483.7,508.0 481.5,506.0 479.3,503.9 C477.1,501.8 474.8,499.9 472.8,497.7 C470.9,495.4 469.1,493.0 467.6,490.4 C466.2,487.8 465.2,484.9 464.1,482.1 C463.0,479.3 461.9,476.5 460.7,473.7 C459.5,470.9 458.3,468.2 457.2,465.4 C456.1,462.6 454.9,459.9 453.8,457.1 C452.7,454.3 451.5,451.5 450.3,448.7 C449.1,445.9 447.8,443.3 446.7,440.5 C445.6,437.7 444.6,434.8 443.9,431.9 C443.2,429.0 442.6,426.1 442.3,423.1 C442.0,420.1 441.9,417.0 442.3,414.1 C442.8,411.2 444.0,408.4 445.0,405.6 C446.0,402.8 447.2,399.9 448.2,397.1 C449.2,394.3 450.3,391.5 451.0,388.6 C451.7,385.7 452.2,382.7 452.5,379.7 C452.8,376.7 452.8,373.7 453.0,370.7 C453.2,367.7 453.3,364.7 453.6,361.7 C453.9,358.7 454.3,355.8 454.7,352.8 C455.1,349.8 455.5,346.8 456.0,343.8 C456.5,340.8 457.1,337.9 457.7,335.0 C458.3,332.1 459.0,329.1 459.8,326.2 C460.6,323.3 461.5,320.5 462.4,317.6 C463.3,314.8 464.3,311.9 465.4,309.1 C466.5,306.3 467.7,303.5 469.2,300.9 C470.7,298.3 472.7,296.1 474.5,293.7 C476.3,291.3 478.4,289.1 480.2,286.7 C482.0,284.3 483.5,281.7 485.2,279.2 C486.9,276.7 488.5,274.1 490.2,271.6 C491.9,269.1 493.6,266.6 495.3,264.2 C497.1,261.8 499.8,258.2 500.7,257.0 Z" fill="none" stroke="#231815" stroke-width="5.6" stroke-linejoin="round"/><clipPath id="b2"><path d="M560.5,513.7 C561.6,512.7 564.9,509.6 567.1,507.6 C569.3,505.6 571.6,503.4 573.9,501.5 C576.2,499.6 578.5,497.5 581.0,495.9 C583.5,494.2 586.2,492.8 588.9,491.6 C591.6,490.4 594.5,489.1 597.4,488.7 C600.3,488.3 603.5,488.3 606.2,489.1 C608.9,489.9 611.5,491.9 613.8,493.7 C616.1,495.5 617.9,498.0 620.1,500.1 C622.3,502.2 624.6,504.2 627.0,506.1 C629.4,508.0 631.7,509.7 634.2,511.4 C636.7,513.1 639.3,514.7 641.9,516.2 C644.5,517.7 647.2,519.2 649.9,520.5 C652.6,521.8 655.4,523.0 658.2,524.0 C661.0,525.0 664.0,525.8 666.9,526.5 C669.8,527.2 672.7,527.9 675.7,528.4 C678.7,528.9 681.7,529.4 684.7,529.5 C687.7,529.6 690.7,529.4 693.7,529.1 C696.7,528.8 699.7,528.2 702.6,527.5 C705.5,526.8 708.5,526.0 711.3,525.0 C714.1,524.0 716.8,522.6 719.5,521.3 C722.2,519.9 724.8,518.5 727.4,516.9 C730.0,515.3 732.5,513.7 735.0,511.9 C737.5,510.1 739.8,508.2 742.1,506.3 C744.4,504.4 746.7,502.4 749.0,500.5 C751.3,498.6 753.5,496.5 756.0,494.8 C758.5,493.1 761.1,491.4 763.9,490.5 C766.7,489.6 769.8,489.1 772.7,489.2 C775.6,489.3 778.6,490.2 781.4,491.3 C784.2,492.4 786.8,494.1 789.3,495.7 C791.8,497.3 794.2,499.2 796.5,501.1 C798.8,503.0 800.9,505.2 803.1,507.3 C805.3,509.4 808.4,512.6 809.5,513.7 L849.5,513.7 L849.5,593.7 L520.5,593.7 L520.5,513.7 Z"/></clipPath><clipPath id="b3"><path d="M570.9,573.6 C572.4,573.3 576.8,572.1 579.8,571.7 C582.8,571.3 585.8,571.1 588.8,571.3 C591.8,571.5 594.7,572.3 597.6,573.1 C600.5,573.9 603.4,575.1 606.1,576.1 C608.8,577.1 611.0,578.1 613.6,579.2 C616.2,580.3 619.1,581.5 621.9,582.7 C624.7,583.9 627.4,585.1 630.2,586.3 C633.0,587.5 635.8,588.6 638.6,589.8 C641.4,591.0 644.1,592.1 646.9,593.3 C649.7,594.4 652.5,595.7 655.3,596.7 C658.1,597.8 661.0,598.8 663.9,599.6 C666.8,600.4 669.7,601.1 672.7,601.6 C675.7,602.1 678.9,602.7 681.7,602.9 C684.5,603.1 686.9,603.2 689.7,602.9 C692.5,602.6 695.7,602.0 698.6,601.3 C701.5,600.6 704.4,599.5 707.3,598.5 C710.1,597.5 712.9,596.4 715.7,595.3 C718.5,594.2 721.3,593.0 724.1,591.8 C726.9,590.6 729.6,589.4 732.4,588.2 C735.2,587.0 737.9,585.8 740.7,584.6 C743.5,583.4 746.3,582.3 749.1,581.2 C751.9,580.1 754.9,579.0 757.6,578.1 C760.3,577.2 762.6,576.5 765.3,575.7 C768.0,574.9 771.1,573.9 774.0,573.2 C776.9,572.5 779.9,571.9 782.9,571.7 C785.9,571.5 789.0,571.6 792.0,571.8 C795.0,571.9 799.5,572.5 801.0,572.6 L841.0,572.6 L841.0,652.6 L530.9,653.6 L530.9,573.6 Z"/></clipPath><clipPath id="b4"><path d="M591.6,637.0 C593.1,637.1 597.6,636.9 600.6,637.4 C603.6,637.9 606.5,638.7 609.4,639.7 C612.2,640.7 615.0,641.9 617.7,643.2 C620.4,644.5 623.1,646.0 625.8,647.4 C628.5,648.8 631.1,650.3 633.7,651.8 C636.3,653.2 638.9,654.7 641.6,656.1 C644.3,657.5 647.0,658.9 649.8,660.0 C652.6,661.1 655.5,662.0 658.4,662.8 C661.3,663.5 664.3,664.1 667.3,664.5 C670.3,664.9 673.2,665.1 676.4,665.3 C679.6,665.5 683.2,665.5 686.4,665.5 C689.6,665.5 692.5,665.5 695.5,665.4 C698.5,665.2 701.5,665.0 704.5,664.6 C707.5,664.2 710.4,663.6 713.3,662.7 C716.2,661.9 719.0,660.7 721.8,659.5 C724.5,658.3 727.2,656.8 729.8,655.3 C732.4,653.8 735.0,652.2 737.6,650.7 C740.2,649.2 742.9,647.6 745.5,646.1 C748.1,644.6 750.8,643.1 753.5,641.9 C756.2,640.7 759.1,639.7 762.0,639.0 C764.9,638.3 768.0,637.8 771.0,637.5 C774.0,637.2 778.5,637.1 780.0,637.0 L820.0,637.0 L820.0,717.0 L551.6,717.0 L551.6,637.0 Z"/></clipPath><g clip-path="url(#b2)"><ellipse cx="603.5" cy="500.5" rx="18.3" ry="10.5" fill="#fff" stroke="#231815" stroke-width="5.1"/><ellipse cx="773.5" cy="500.5" rx="17.8" ry="10.5" fill="#fff" stroke="#231815" stroke-width="5.1"/></g><g clip-path="url(#b3)"><ellipse cx="617.5" cy="590.5" rx="13.5" ry="12.5" fill="#fff" stroke="#231815" stroke-width="5.1"/><ellipse cx="759.5" cy="589.5" rx="13.5" ry="12.5" fill="#fff" stroke="#231815" stroke-width="5.1"/><path d="M617.5,576 L620.5,592 L624,578 Z" fill="#b39c90"/><path d="M753,578 L756.5,591 L759.5,576 Z" fill="#b39c90"/></g><g clip-path="url(#b4)"><ellipse cx="623" cy="652.5" rx="14" ry="6" transform="rotate(50 623 652.5)" fill="#fff" stroke="#231815" stroke-width="5.1"/><ellipse cx="751" cy="652" rx="14" ry="6" transform="rotate(-50 751 652)" fill="#fff" stroke="#231815" stroke-width="5.1"/></g><path d="M548.0,272.0 C549.3,272.8 553.0,275.5 555.6,277.0 C558.2,278.5 560.8,279.9 563.5,281.2 C566.2,282.5 569.1,283.6 571.9,284.6 C574.7,285.6 577.6,286.5 580.5,287.4 C583.4,288.2 586.4,289.0 589.3,289.7 C592.2,290.4 595.1,291.0 598.1,291.5 C601.1,292.0 604.1,292.2 607.1,292.5 C610.1,292.8 613.1,292.9 616.1,293.1 C619.1,293.3 622.1,293.4 625.1,293.5 C628.1,293.6 631.2,293.6 634.2,293.7 C637.2,293.8 640.2,293.8 643.2,293.8 C646.2,293.8 649.3,293.7 652.3,293.6 C655.3,293.5 658.3,293.4 661.3,293.3 C664.3,293.2 667.3,293.2 670.3,293.1 C673.3,293.1 676.4,293.0 679.4,293.0 C682.4,293.0 685.2,293.2 688.4,293.3 C691.6,293.4 695.3,293.6 698.5,293.8 C701.7,294.0 704.5,294.2 707.5,294.5 C710.5,294.8 713.5,295.1 716.5,295.4 C719.5,295.7 722.5,296.0 725.5,296.3 C728.5,296.6 731.5,296.8 734.5,297.0 C737.5,297.2 740.5,297.5 743.5,297.6 C746.5,297.7 749.5,297.8 752.5,297.8 C755.5,297.8 758.6,297.8 761.6,297.7 C764.6,297.6 767.6,297.4 770.6,297.3 C773.6,297.2 776.6,297.0 779.6,296.8 C782.6,296.6 785.7,296.4 788.7,296.1 C791.7,295.8 794.6,295.5 797.6,295.0 C800.6,294.5 803.6,293.8 806.5,293.0 C809.4,292.2 812.3,291.4 815.1,290.4 C817.9,289.4 820.7,288.2 823.4,286.8 C826.1,285.4 828.7,283.9 831.1,282.1 C833.5,280.4 835.8,278.3 838.0,276.3 C840.2,274.3 843.4,271.1 844.5,270.0" fill="none" stroke="#231815" stroke-width="5.1"/><path d="M617.0,320.5 C618.2,321.4 621.7,324.4 624.1,326.2 C626.5,328.0 629.0,329.7 631.6,331.3 C634.2,332.9 636.8,334.4 639.5,335.8 C642.2,337.2 645.0,338.5 647.7,339.8 C650.5,341.1 653.2,342.4 656.0,343.6 C658.8,344.8 661.6,345.9 664.5,346.9 C667.4,347.9 670.3,348.8 673.2,349.6 C676.1,350.4 679.0,351.1 682.0,351.6 C685.0,352.1 688.1,352.5 691.1,352.8 C694.1,353.1 697.1,353.2 700.1,353.2 C703.1,353.2 706.2,353.1 709.2,352.8 C712.2,352.5 715.3,352.1 718.3,351.6 C721.3,351.1 724.2,350.6 727.2,350.0 C730.2,349.4 733.2,349.1 736.1,348.2 C739.0,347.3 741.8,346.0 744.5,344.7 C747.2,343.4 749.8,341.8 752.5,340.4 C755.2,338.9 759.2,336.7 760.5,336.0" fill="none" stroke="#231815" stroke-width="5.1"/><path d="M539.0,446.0 C540.2,445.1 544.0,442.6 546.5,440.9 C549.0,439.2 551.5,437.5 554.0,435.8 C556.5,434.1 559.0,432.5 561.5,430.9 C564.0,429.2 566.6,427.4 569.0,425.9 C571.4,424.4 573.5,423.2 576.1,422.0 C578.7,420.8 581.6,419.7 584.5,418.9 C587.4,418.1 590.4,417.5 593.4,417.3 C596.4,417.1 599.4,417.1 602.4,417.5 C605.4,417.9 608.3,418.9 611.1,419.9 C613.9,420.9 616.7,422.2 619.4,423.5 C622.1,424.8 624.7,426.2 627.4,427.6 C630.1,429.0 632.8,430.4 635.5,431.7 C638.2,433.0 641.1,434.5 643.6,435.7 C646.1,436.9 648.2,438.0 650.8,439.1 C653.4,440.2 656.4,441.4 659.2,442.4 C662.1,443.4 665.0,444.2 667.9,444.9 C670.8,445.5 673.9,446.1 676.9,446.3 C679.9,446.6 682.9,446.6 685.9,446.4 C688.9,446.2 691.9,445.6 694.8,445.0 C697.7,444.4 700.6,443.5 703.5,442.6 C706.4,441.7 709.3,440.8 712.1,439.8 C714.9,438.8 717.9,437.6 720.5,436.5 C723.1,435.4 725.3,434.6 727.9,433.4 C730.5,432.2 733.4,430.8 736.1,429.4 C738.8,428.0 741.4,426.5 744.1,425.2 C746.8,423.9 749.5,422.6 752.3,421.6 C755.1,420.6 758.1,419.7 761.0,419.0 C763.9,418.3 766.8,417.6 769.8,417.3 C772.8,417.0 775.8,416.8 778.8,417.1 C781.8,417.4 784.8,418.2 787.6,419.1 C790.5,420.0 793.3,421.4 795.9,422.6 C798.5,423.8 800.5,425.1 803.0,426.5 C805.5,427.9 808.2,429.6 810.7,431.2 C813.2,432.8 815.6,434.7 818.1,436.4 C820.6,438.1 823.0,439.9 825.5,441.6 C828.0,443.3 831.8,445.8 833.0,446.6" fill="none" stroke="#231815" stroke-width="5.1"/><path d="M584.7,364.0 C583.3,364.6 578.9,366.5 576.3,367.6 C573.6,368.7 571.4,369.6 568.8,370.8 C566.2,372.0 563.1,373.5 560.6,374.9 C558.1,376.3 556.1,377.6 553.7,379.2 C551.3,380.8 548.7,382.8 546.3,384.6 C543.9,386.4 541.4,388.4 539.1,390.2 C536.9,392.0 535.0,393.5 532.8,395.4 C530.6,397.3 528.0,399.5 525.9,401.4 C523.8,403.3 522.0,404.9 519.9,406.9 C517.8,408.9 515.4,411.2 513.4,413.3 C511.4,415.4 509.8,417.1 507.8,419.2 C505.9,421.3 502.7,424.9 501.7,426.0" fill="none" stroke="#231815" stroke-width="5.1"/><path d="M802.0,358.0 C803.5,358.5 807.8,359.9 810.7,360.9 C813.6,361.9 816.4,362.9 819.2,364.2 C822.0,365.4 824.7,366.9 827.4,368.4 C830.1,369.8 832.7,371.3 835.3,372.9 C837.9,374.4 840.5,376.0 843.1,377.7 C845.7,379.4 848.4,381.2 850.8,382.8 C853.2,384.4 855.1,385.7 857.5,387.3 C859.9,388.9 862.6,390.8 865.1,392.5 C867.6,394.2 870.1,395.8 872.6,397.6 C875.1,399.4 877.6,401.2 880.0,403.1 C882.4,405.0 884.7,407.0 887.0,409.0 C889.3,411.0 892.8,414.0 893.9,415.0" fill="none" stroke="#231815" stroke-width="5.1"/><path d="M560.5,513.7 C561.6,512.7 564.9,509.6 567.1,507.6 C569.3,505.6 571.6,503.4 573.9,501.5 C576.2,499.6 578.5,497.5 581.0,495.9 C583.5,494.2 586.2,492.8 588.9,491.6 C591.6,490.4 594.5,489.1 597.4,488.7 C600.3,488.3 603.5,488.3 606.2,489.1 C608.9,489.9 611.5,491.9 613.8,493.7 C616.1,495.5 617.9,498.0 620.1,500.1 C622.3,502.2 624.6,504.2 627.0,506.1 C629.4,508.0 631.7,509.7 634.2,511.4 C636.7,513.1 639.3,514.7 641.9,516.2 C644.5,517.7 647.2,519.2 649.9,520.5 C652.6,521.8 655.4,523.0 658.2,524.0 C661.0,525.0 664.0,525.8 666.9,526.5 C669.8,527.2 672.7,527.9 675.7,528.4 C678.7,528.9 681.7,529.4 684.7,529.5 C687.7,529.6 690.7,529.4 693.7,529.1 C696.7,528.8 699.7,528.2 702.6,527.5 C705.5,526.8 708.5,526.0 711.3,525.0 C714.1,524.0 716.8,522.6 719.5,521.3 C722.2,519.9 724.8,518.5 727.4,516.9 C730.0,515.3 732.5,513.7 735.0,511.9 C737.5,510.1 739.8,508.2 742.1,506.3 C744.4,504.4 746.7,502.4 749.0,500.5 C751.3,498.6 753.5,496.5 756.0,494.8 C758.5,493.1 761.1,491.4 763.9,490.5 C766.7,489.6 769.8,489.1 772.7,489.2 C775.6,489.3 778.6,490.2 781.4,491.3 C784.2,492.4 786.8,494.1 789.3,495.7 C791.8,497.3 794.2,499.2 796.5,501.1 C798.8,503.0 800.9,505.2 803.1,507.3 C805.3,509.4 808.4,512.6 809.5,513.7" fill="none" stroke="#231815" stroke-width="5.1"/><path d="M570.9,573.6 C572.4,573.3 576.8,572.1 579.8,571.7 C582.8,571.3 585.8,571.1 588.8,571.3 C591.8,571.5 594.7,572.3 597.6,573.1 C600.5,573.9 603.4,575.1 606.1,576.1 C608.8,577.1 611.0,578.1 613.6,579.2 C616.2,580.3 619.1,581.5 621.9,582.7 C624.7,583.9 627.4,585.1 630.2,586.3 C633.0,587.5 635.8,588.6 638.6,589.8 C641.4,591.0 644.1,592.1 646.9,593.3 C649.7,594.4 652.5,595.7 655.3,596.7 C658.1,597.8 661.0,598.8 663.9,599.6 C666.8,600.4 669.7,601.1 672.7,601.6 C675.7,602.1 678.9,602.7 681.7,602.9 C684.5,603.1 686.9,603.2 689.7,602.9 C692.5,602.6 695.7,602.0 698.6,601.3 C701.5,600.6 704.4,599.5 707.3,598.5 C710.1,597.5 712.9,596.4 715.7,595.3 C718.5,594.2 721.3,593.0 724.1,591.8 C726.9,590.6 729.6,589.4 732.4,588.2 C735.2,587.0 737.9,585.8 740.7,584.6 C743.5,583.4 746.3,582.3 749.1,581.2 C751.9,580.1 754.9,579.0 757.6,578.1 C760.3,577.2 762.6,576.5 765.3,575.7 C768.0,574.9 771.1,573.9 774.0,573.2 C776.9,572.5 779.9,571.9 782.9,571.7 C785.9,571.5 789.0,571.6 792.0,571.8 C795.0,571.9 799.5,572.5 801.0,572.6" fill="none" stroke="#231815" stroke-width="5.1"/><path d="M591.6,637.0 C593.1,637.1 597.6,636.9 600.6,637.4 C603.6,637.9 606.5,638.7 609.4,639.7 C612.2,640.7 615.0,641.9 617.7,643.2 C620.4,644.5 623.1,646.0 625.8,647.4 C628.5,648.8 631.1,650.3 633.7,651.8 C636.3,653.2 638.9,654.7 641.6,656.1 C644.3,657.5 647.0,658.9 649.8,660.0 C652.6,661.1 655.5,662.0 658.4,662.8 C661.3,663.5 664.3,664.1 667.3,664.5 C670.3,664.9 673.2,665.1 676.4,665.3 C679.6,665.5 683.2,665.5 686.4,665.5 C689.6,665.5 692.5,665.5 695.5,665.4 C698.5,665.2 701.5,665.0 704.5,664.6 C707.5,664.2 710.4,663.6 713.3,662.7 C716.2,661.9 719.0,660.7 721.8,659.5 C724.5,658.3 727.2,656.8 729.8,655.3 C732.4,653.8 735.0,652.2 737.6,650.7 C740.2,649.2 742.9,647.6 745.5,646.1 C748.1,644.6 750.8,643.1 753.5,641.9 C756.2,640.7 759.1,639.7 762.0,639.0 C764.9,638.3 768.0,637.8 771.0,637.5 C774.0,637.2 778.5,637.1 780.0,637.0" fill="none" stroke="#231815" stroke-width="5.1"/><path d="M602.5,292.9 C601.9,294.3 599.7,298.3 599.1,301.2 C598.5,304.1 598.4,307.2 598.7,310.1 C599.0,313.0 600.0,315.9 601.1,318.7 C602.2,321.5 603.6,324.2 605.3,326.7 C606.9,329.2 608.9,331.5 611.0,333.7 C613.1,335.9 615.3,337.8 617.7,339.7 C620.1,341.6 622.7,343.2 625.2,344.8 C627.8,346.4 630.4,347.9 633.0,349.3 C635.6,350.7 638.3,352.1 641.0,353.4 C643.7,354.7 646.5,355.9 649.3,357.0 C652.1,358.1 655.0,359.1 657.9,360.0 C660.8,360.9 663.7,361.5 666.6,362.1 C669.5,362.7 672.5,363.2 675.5,363.7 C678.5,364.2 681.5,364.6 684.5,364.9 C687.5,365.2 690.7,365.4 693.5,365.5 C696.3,365.6 698.7,365.7 701.5,365.6 C704.3,365.6 707.5,365.5 710.5,365.2 C713.5,364.9 716.5,364.5 719.5,364.0 C722.5,363.5 725.4,362.9 728.3,362.2 C731.2,361.5 734.2,360.7 737.1,359.9 C740.0,359.1 742.8,358.2 745.7,357.3 C748.6,356.4 751.5,355.4 754.3,354.3 C757.1,353.2 760.0,352.2 762.7,351.0 C765.5,349.8 768.1,348.5 770.8,347.1 C773.4,345.7 776.1,344.3 778.6,342.6 C781.1,340.9 783.6,339.1 785.8,337.1 C788.0,335.1 790.1,332.8 791.8,330.4 C793.5,328.0 795.0,325.2 796.2,322.5 C797.4,319.8 798.5,316.9 798.9,314.0 C799.3,311.1 799.0,308.0 798.4,305.1 C797.8,302.2 795.6,298.2 795.0,296.8" fill="none" stroke="#231815" stroke-width="5.1"/><path d="M687,886.8 L696,886.8 C699.2,886.8 700.8,888.6 701.2,892.5 C702.2,903 702.9,914 702.9,926 C702.9,940 702.4,952 701.4,964 C701,968 699.4,970 696.3,970 L689.5,970 C686.5,970 685.2,968.2 684.6,964.5 C682.5,952 679.6,940 679.6,926 C679.6,914 680.6,903 682,892.5 C682.5,888.6 684,886.8 687,886.8 Z" fill="#dcdddd" stroke="#231815" stroke-width="5.6"/><g fill="#0a419a" font-family="&quot;Liberation Sans&quot;, &quot;Noto Sans CJK JP&quot;, sans-serif"><text x="11.8" y="136" font-size="130" letter-spacing="0.5" font-weight="700" stroke="#0a419a" stroke-width="0.5" stroke-miterlimit="2">骨盤</text><text x="764.9" y="170.4" font-size="65.4" letter-spacing="0" font-weight="400">仙骨</text><text x="1097.9" y="129.9" font-size="65.4" letter-spacing="0" font-weight="400">腸骨</text><text x="501.7" y="813.3" font-size="65.4" letter-spacing="-0.7" font-weight="400">尾骨</text><text x="88.5" y="936" font-size="65.4" letter-spacing="0.3" font-weight="400">寛骨臼</text><text x="302.3" y="1123.8" font-size="65.4" letter-spacing="0" font-weight="400">座骨</text><text x="569.8" y="1147.3" font-size="65.4" letter-spacing="0" font-weight="400">恥骨結合</text><text x="928.7" y="1167.1" font-size="65.4" letter-spacing="0" font-weight="400">恥骨</text></g><line x1="825" y1="185" x2="833" y2="325" stroke="#0a419a" stroke-width="4.9"/><line x1="1165.2" y1="156.3" x2="1098.8" y2="280.6" stroke="#0a419a" stroke-width="4.9"/><line x1="630.3" y1="789.6" x2="687.5" y2="794.4" stroke="#0a419a" stroke-width="4.9"/><line x1="309" y1="802" x2="234" y2="871" stroke="#0a419a" stroke-width="4.9"/><line x1="457.4" y1="987" x2="382.4" y2="1055" stroke="#0a419a" stroke-width="4.9"/><line x1="690" y1="955" x2="684" y2="1083" stroke="#0a419a" stroke-width="4.9"/><line x1="791" y1="903" x2="968" y2="1091" stroke="#0a419a" stroke-width="4.9"/></svg></body></html>
